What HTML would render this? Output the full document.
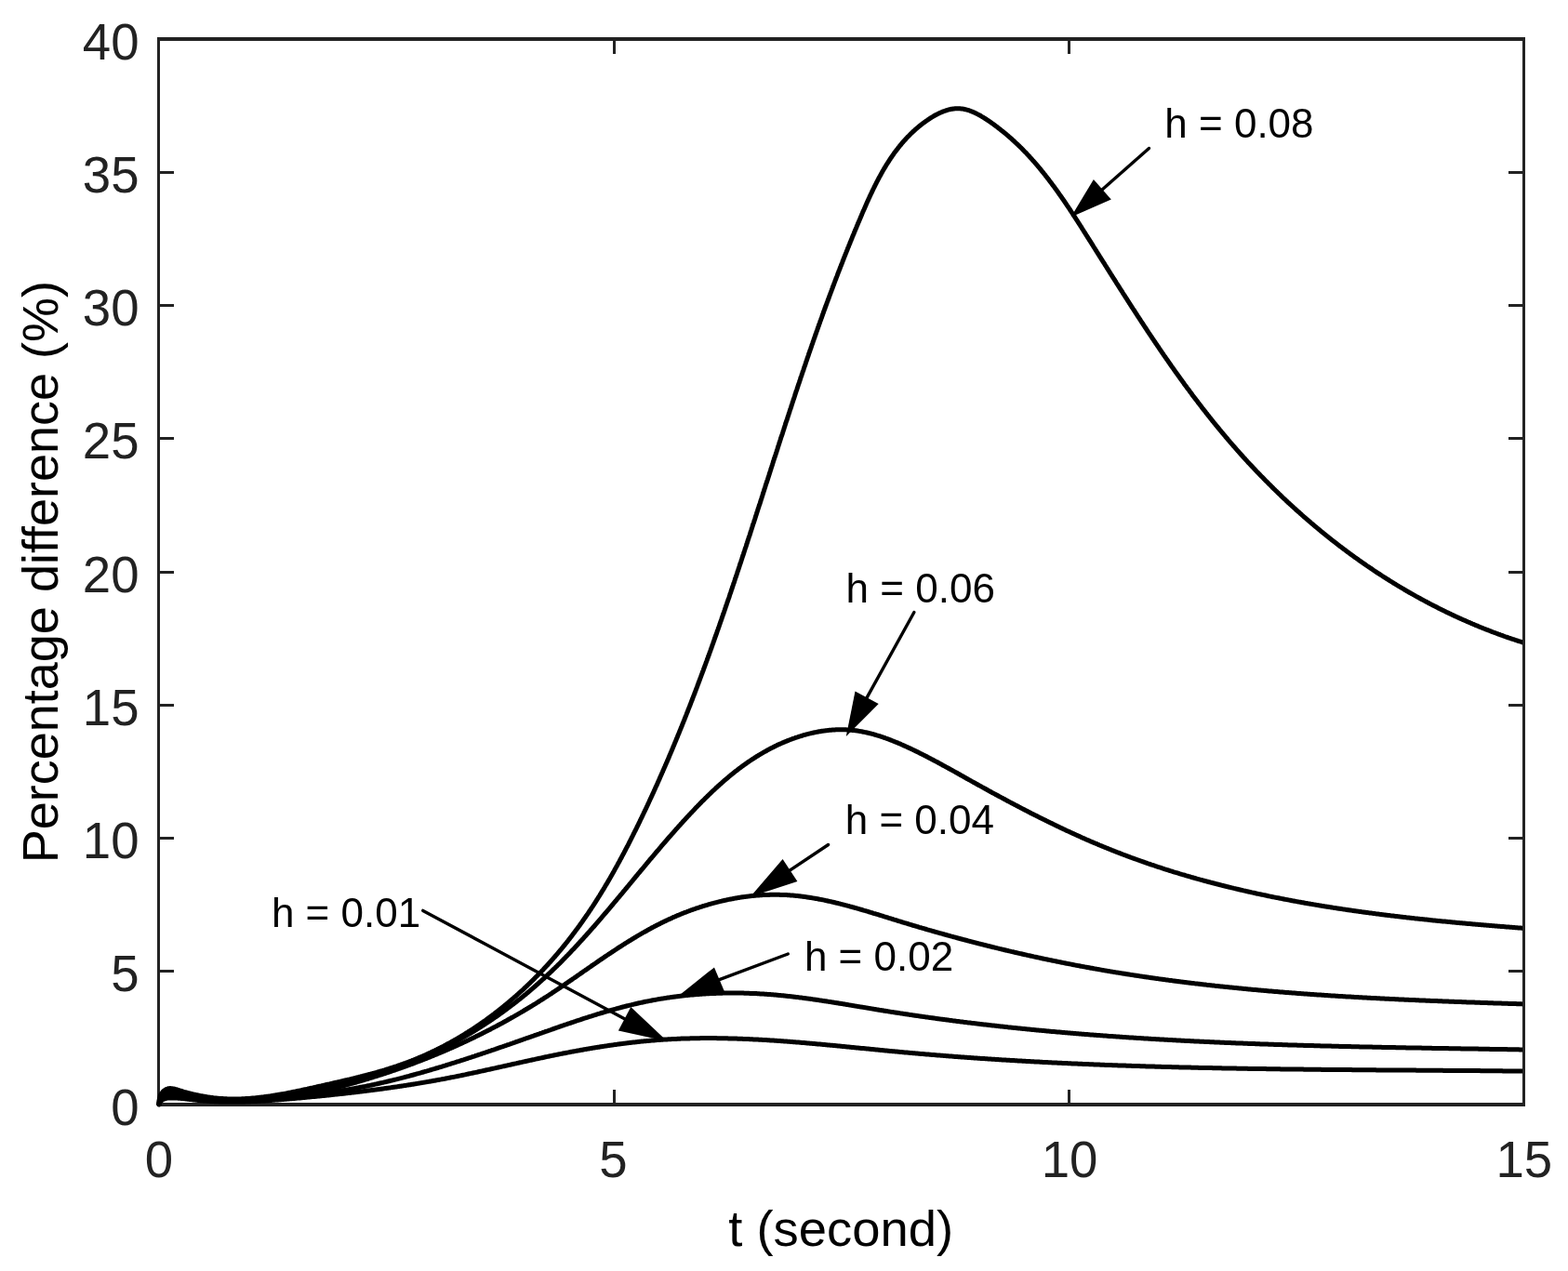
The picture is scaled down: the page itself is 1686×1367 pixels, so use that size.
<!DOCTYPE html><html><head><meta charset="utf-8"><title>Percentage difference plot</title><style>html,body{margin:0;padding:0;background:#fff;width:1686px;height:1367px;overflow:hidden}svg{display:block}</style></head><body><svg width="1686" height="1367" viewBox="0 0 1686 1367"><defs><clipPath id="clip"><rect x="160" y="30" width="1477" height="1170"/></clipPath></defs><rect x="0" y="0" width="1686" height="1367" fill="#fff"/><g fill="#222222"><rect x="169" y="40" width="1471" height="4"/><rect x="169" y="1186" width="1471" height="4"/><rect x="169" y="40" width="3" height="1150"/><rect x="1637" y="40" width="3" height="1150"/><rect x="659" y="44" width="3" height="14"/><rect x="659" y="1172" width="3" height="14"/><rect x="1148" y="44" width="3" height="14"/><rect x="1148" y="1172" width="3" height="14"/><rect x="172" y="1043" width="15" height="3"/><rect x="1622" y="1043" width="15" height="3"/><rect x="172" y="900" width="15" height="3"/><rect x="1622" y="900" width="15" height="3"/><rect x="172" y="757" width="15" height="3"/><rect x="1622" y="757" width="15" height="3"/><rect x="172" y="614" width="15" height="3"/><rect x="1622" y="614" width="15" height="3"/><rect x="172" y="470" width="15" height="3"/><rect x="1622" y="470" width="15" height="3"/><rect x="172" y="327" width="15" height="3"/><rect x="1622" y="327" width="15" height="3"/><rect x="172" y="184" width="15" height="3"/><rect x="1622" y="184" width="15" height="3"/></g><g clip-path="url(#clip)" fill="none" stroke="#000" stroke-width="5.0" stroke-linejoin="round" stroke-linecap="round"><path d="M170.7 1187.2 L171.3 1186.2 L171.9 1185.4 L172.5 1184.6 L173.2 1184.0 L174.0 1183.4 L174.7 1182.9 L175.5 1182.4 L176.4 1182.1 L177.3 1181.7 L178.1 1181.5 L179.1 1181.3 L180.0 1181.1 L181.0 1181.0 L181.9 1180.9 L182.9 1180.9 L183.9 1180.9 L184.9 1180.9 L185.9 1180.9 L186.9 1180.9 L187.9 1181.0 L188.9 1181.0 L189.9 1181.1 L190.9 1181.1 L191.9 1181.2 L192.9 1181.3 L193.9 1181.3 L194.9 1181.4 L195.9 1181.5 L196.9 1181.6 L197.9 1181.7 L198.9 1181.8 L199.9 1181.9 L200.9 1182.1 L201.9 1182.2 L202.9 1182.3 L203.9 1182.4 L204.9 1182.5 L205.9 1182.6 L206.9 1182.7 L207.9 1182.9 L208.9 1183.0 L209.9 1183.1 L210.9 1183.2 L211.9 1183.3 L212.9 1183.4 L213.9 1183.5 L214.9 1183.6 L215.9 1183.7 L216.9 1183.8 L217.9 1183.8 L218.9 1183.9 L219.9 1184.0 L220.9 1184.1 L221.9 1184.1 L222.9 1184.2 L223.9 1184.3 L224.9 1184.3 L225.9 1184.4 L226.9 1184.5 L227.9 1184.5 L228.9 1184.6 L229.9 1184.6 L230.9 1184.7 L231.9 1184.7 L232.9 1184.7 L233.9 1184.8 L234.9 1184.8 L235.9 1184.9 L236.9 1184.9 L237.9 1184.9 L238.9 1184.9 L239.9 1185.0 L240.9 1185.0 L241.9 1185.0 L242.9 1185.0 L243.9 1185.0 L244.9 1185.0 L245.9 1185.0 L246.9 1185.1 L247.9 1185.1 L248.9 1185.1 L249.9 1185.1 L250.9 1185.1 L251.9 1185.1 L252.9 1185.0 L253.9 1185.0 L254.9 1185.0 L255.9 1185.0 L256.9 1185.0 L257.9 1185.0 L258.9 1185.0 L259.9 1184.9 L260.9 1184.9 L261.9 1184.9 L262.9 1184.9 L263.9 1184.8 L264.9 1184.8 L265.9 1184.8 L266.9 1184.7 L267.9 1184.7 L268.9 1184.7 L269.8 1184.6 L270.8 1184.6 L271.8 1184.6 L272.8 1184.5 L273.8 1184.5 L274.8 1184.4 L275.8 1184.4 L276.8 1184.3 L277.8 1184.3 L278.8 1184.2 L279.8 1184.2 L280.8 1184.1 L281.8 1184.0 L282.8 1184.0 L283.8 1183.9 L284.8 1183.9 L285.8 1183.8 L286.8 1183.7 L287.8 1183.7 L288.8 1183.6 L289.8 1183.5 L290.8 1183.5 L291.8 1183.4 L292.8 1183.3 L293.8 1183.3 L294.8 1183.2 L295.8 1183.1 L296.8 1183.0 L297.8 1183.0 L298.8 1182.9 L299.8 1182.8 L300.8 1182.7 L301.8 1182.7 L302.8 1182.6 L303.8 1182.5 L304.8 1182.4 L305.8 1182.3 L306.8 1182.3 L307.7 1182.2 L308.7 1182.1 L309.7 1182.0 L310.7 1181.9 L311.7 1181.8 L312.7 1181.7 L313.7 1181.7 L314.7 1181.6 L315.7 1181.5 L316.7 1181.4 L317.7 1181.3 L318.7 1181.2 L319.7 1181.1 L320.7 1181.0 L321.7 1180.9 L322.7 1180.9 L323.7 1180.8 L324.7 1180.7 L325.7 1180.6 L326.7 1180.5 L327.7 1180.4 L328.7 1180.3 L329.7 1180.2 L330.7 1180.1 L331.7 1180.0 L332.7 1179.9 L333.7 1179.8 L334.7 1179.7 L335.7 1179.6 L336.7 1179.6 L337.6 1179.5 L338.6 1179.4 L339.6 1179.3 L340.6 1179.2 L341.6 1179.1 L342.6 1179.0 L343.6 1178.9 L344.6 1178.8 L345.6 1178.7 L346.6 1178.6 L347.6 1178.5 L348.6 1178.4 L349.6 1178.3 L350.6 1178.2 L351.6 1178.1 L352.6 1178.0 L353.6 1177.9 L354.6 1177.8 L355.6 1177.7 L356.6 1177.6 L357.6 1177.4 L358.6 1177.3 L359.6 1177.2 L360.6 1177.1 L361.5 1177.0 L362.5 1176.9 L363.5 1176.8 L364.5 1176.7 L365.5 1176.6 L366.5 1176.5 L367.5 1176.4 L368.5 1176.3 L369.5 1176.2 L370.5 1176.0 L371.5 1175.9 L372.5 1175.8 L373.5 1175.7 L374.5 1175.6 L375.5 1175.5 L376.5 1175.4 L377.5 1175.3 L378.5 1175.1 L379.5 1175.0 L380.4 1174.9 L381.4 1174.8 L382.4 1174.7 L383.4 1174.6 L384.4 1174.4 L385.4 1174.3 L386.4 1174.2 L387.4 1174.1 L388.4 1174.0 L389.4 1173.8 L390.4 1173.7 L391.4 1173.6 L392.4 1173.5 L393.4 1173.3 L394.4 1173.2 L395.3 1173.1 L396.3 1173.0 L397.3 1172.8 L398.3 1172.7 L399.3 1172.6 L400.3 1172.5 L401.3 1172.3 L402.3 1172.2 L403.3 1172.1 L404.3 1171.9 L405.3 1171.8 L406.3 1171.7 L407.3 1171.6 L408.2 1171.4 L409.2 1171.3 L410.2 1171.2 L411.2 1171.0 L412.2 1170.9 L413.2 1170.7 L414.2 1170.6 L415.2 1170.5 L416.2 1170.3 L417.2 1170.2 L418.2 1170.1 L419.1 1169.9 L420.1 1169.8 L421.1 1169.6 L422.1 1169.5 L423.1 1169.3 L424.1 1169.2 L425.1 1169.1 L426.1 1168.9 L427.1 1168.8 L428.0 1168.6 L429.0 1168.5 L430.0 1168.3 L431.0 1168.2 L432.0 1168.0 L433.0 1167.9 L434.0 1167.7 L435.0 1167.6 L436.0 1167.4 L436.9 1167.3 L437.9 1167.1 L438.9 1167.0 L439.9 1166.8 L440.9 1166.7 L441.9 1166.5 L442.9 1166.3 L443.9 1166.2 L444.8 1166.0 L445.8 1165.9 L446.8 1165.7 L447.8 1165.6 L448.8 1165.4 L449.8 1165.2 L450.8 1165.1 L451.7 1164.9 L452.7 1164.7 L453.7 1164.6 L454.7 1164.4 L455.7 1164.2 L456.7 1164.1 L457.6 1163.9 L458.6 1163.7 L459.6 1163.6 L460.6 1163.4 L461.6 1163.2 L462.6 1163.0 L463.6 1162.9 L464.5 1162.7 L465.5 1162.5 L466.5 1162.3 L467.5 1162.2 L468.5 1162.0 L469.5 1161.8 L470.4 1161.6 L471.4 1161.5 L472.4 1161.3 L473.4 1161.1 L474.4 1160.9 L475.3 1160.7 L476.3 1160.5 L477.3 1160.4 L478.3 1160.2 L479.3 1160.0 L480.2 1159.8 L481.2 1159.6 L482.2 1159.4 L483.2 1159.2 L484.2 1159.0 L485.1 1158.8 L486.1 1158.6 L487.1 1158.4 L488.1 1158.3 L489.1 1158.1 L490.0 1157.9 L491.0 1157.7 L492.0 1157.5 L493.0 1157.3 L494.0 1157.1 L494.9 1156.9 L495.9 1156.7 L496.9 1156.5 L497.9 1156.3 L498.8 1156.1 L499.8 1155.9 L500.8 1155.7 L501.8 1155.4 L502.7 1155.2 L503.7 1155.0 L504.7 1154.8 L505.7 1154.6 L506.7 1154.4 L507.6 1154.2 L508.6 1154.0 L509.6 1153.8 L510.6 1153.6 L511.5 1153.4 L512.5 1153.2 L513.5 1153.0 L514.5 1152.7 L515.4 1152.5 L516.4 1152.3 L517.4 1152.1 L518.4 1151.9 L519.3 1151.7 L520.3 1151.5 L521.3 1151.3 L522.3 1151.0 L523.2 1150.8 L524.2 1150.6 L525.2 1150.4 L526.2 1150.2 L527.1 1150.0 L528.1 1149.7 L529.1 1149.5 L530.1 1149.3 L531.0 1149.1 L532.0 1148.9 L533.0 1148.7 L534.0 1148.4 L534.9 1148.2 L535.9 1148.0 L536.9 1147.8 L537.9 1147.6 L538.8 1147.4 L539.8 1147.1 L540.8 1146.9 L541.8 1146.7 L542.7 1146.5 L543.7 1146.3 L544.7 1146.1 L545.7 1145.8 L546.6 1145.6 L547.6 1145.4 L548.6 1145.2 L549.6 1145.0 L550.5 1144.7 L551.5 1144.5 L552.5 1144.3 L553.5 1144.1 L554.4 1143.9 L555.4 1143.7 L556.4 1143.4 L557.4 1143.2 L558.3 1143.0 L559.3 1142.8 L560.3 1142.6 L561.3 1142.4 L562.2 1142.1 L563.2 1141.9 L564.2 1141.7 L565.2 1141.5 L566.2 1141.3 L567.1 1141.1 L568.1 1140.8 L569.1 1140.6 L570.1 1140.4 L571.0 1140.2 L572.0 1140.0 L573.0 1139.8 L574.0 1139.6 L574.9 1139.4 L575.9 1139.1 L576.9 1138.9 L577.9 1138.7 L578.9 1138.5 L579.8 1138.3 L580.8 1138.1 L581.8 1137.9 L582.8 1137.7 L583.8 1137.5 L584.7 1137.3 L585.7 1137.0 L586.7 1136.8 L587.7 1136.6 L588.7 1136.4 L589.6 1136.2 L590.6 1136.0 L591.6 1135.8 L592.6 1135.6 L593.6 1135.4 L594.5 1135.2 L595.5 1135.0 L596.5 1134.8 L597.5 1134.6 L598.5 1134.4 L599.4 1134.2 L600.4 1134.0 L601.4 1133.8 L602.4 1133.6 L603.4 1133.4 L604.4 1133.2 L605.3 1133.0 L606.3 1132.8 L607.3 1132.7 L608.3 1132.5 L609.3 1132.3 L610.3 1132.1 L611.3 1131.9 L612.2 1131.7 L613.2 1131.5 L614.2 1131.3 L615.2 1131.1 L616.2 1131.0 L617.2 1130.8 L618.2 1130.6 L619.1 1130.4 L620.1 1130.2 L621.1 1130.0 L622.1 1129.9 L623.1 1129.7 L624.1 1129.5 L625.1 1129.3 L626.1 1129.2 L627.0 1129.0 L628.0 1128.8 L629.0 1128.6 L630.0 1128.5 L631.0 1128.3 L632.0 1128.1 L633.0 1128.0 L634.0 1127.8 L635.0 1127.6 L635.9 1127.5 L636.9 1127.3 L637.9 1127.1 L638.9 1127.0 L639.9 1126.8 L640.9 1126.6 L641.9 1126.5 L642.9 1126.3 L643.9 1126.2 L644.9 1126.0 L645.8 1125.8 L646.8 1125.7 L647.8 1125.5 L648.8 1125.4 L649.8 1125.2 L650.8 1125.1 L651.8 1124.9 L652.8 1124.8 L653.8 1124.6 L654.8 1124.5 L655.8 1124.3 L656.8 1124.2 L657.7 1124.1 L658.7 1123.9 L659.7 1123.8 L660.7 1123.6 L661.7 1123.5 L662.7 1123.4 L663.7 1123.2 L664.7 1123.1 L665.7 1123.0 L666.7 1122.8 L667.7 1122.7 L668.7 1122.6 L669.7 1122.4 L670.7 1122.3 L671.7 1122.2 L672.7 1122.1 L673.6 1121.9 L674.6 1121.8 L675.6 1121.7 L676.6 1121.6 L677.6 1121.5 L678.6 1121.3 L679.6 1121.2 L680.6 1121.1 L681.6 1121.0 L682.6 1120.9 L683.6 1120.8 L684.6 1120.7 L685.6 1120.6 L686.6 1120.5 L687.6 1120.3 L688.6 1120.2 L689.6 1120.1 L690.6 1120.0 L691.6 1119.9 L692.5 1119.8 L693.5 1119.8 L694.5 1119.7 L695.5 1119.6 L696.5 1119.5 L697.5 1119.4 L698.5 1119.3 L699.5 1119.2 L700.5 1119.1 L701.5 1119.0 L702.5 1118.9 L703.5 1118.9 L704.5 1118.8 L705.5 1118.7 L706.5 1118.6 L707.5 1118.6 L708.5 1118.5 L709.5 1118.4 L710.5 1118.3 L711.5 1118.3 L712.5 1118.2 L713.5 1118.1 L714.5 1118.1 L715.5 1118.0 L716.4 1117.9 L717.4 1117.9 L718.4 1117.8 L719.4 1117.8 L720.4 1117.7 L721.4 1117.7 L722.4 1117.6 L723.4 1117.5 L724.4 1117.5 L725.4 1117.4 L726.4 1117.4 L727.4 1117.4 L728.4 1117.3 L729.4 1117.3 L730.4 1117.2 L731.4 1117.2 L732.4 1117.1 L733.4 1117.1 L734.4 1117.1 L735.4 1117.0 L736.4 1117.0 L737.4 1117.0 L738.4 1116.9 L739.4 1116.9 L740.4 1116.9 L741.4 1116.9 L742.3 1116.8 L743.3 1116.8 L744.3 1116.8 L745.3 1116.8 L746.3 1116.7 L747.3 1116.7 L748.3 1116.7 L749.3 1116.7 L750.3 1116.7 L751.3 1116.7 L752.3 1116.7 L753.3 1116.6 L754.3 1116.6 L755.3 1116.6 L756.3 1116.6 L757.3 1116.6 L758.3 1116.6 L759.3 1116.6 L760.3 1116.6 L761.3 1116.6 L762.3 1116.6 L763.3 1116.6 L764.3 1116.6 L765.3 1116.6 L766.3 1116.6 L767.3 1116.6 L768.3 1116.6 L769.2 1116.6 L770.2 1116.6 L771.2 1116.7 L772.2 1116.7 L773.2 1116.7 L774.2 1116.7 L775.2 1116.7 L776.2 1116.7 L777.2 1116.7 L778.2 1116.8 L779.2 1116.8 L780.2 1116.8 L781.2 1116.8 L782.2 1116.8 L783.2 1116.9 L784.2 1116.9 L785.2 1116.9 L786.2 1116.9 L787.2 1117.0 L788.2 1117.0 L789.2 1117.0 L790.2 1117.1 L791.2 1117.1 L792.2 1117.1 L793.2 1117.2 L794.2 1117.2 L795.2 1117.2 L796.2 1117.3 L797.2 1117.3 L798.1 1117.3 L799.1 1117.4 L800.1 1117.4 L801.1 1117.5 L802.1 1117.5 L803.1 1117.5 L804.1 1117.6 L805.1 1117.6 L806.1 1117.7 L807.1 1117.7 L808.1 1117.8 L809.1 1117.8 L810.1 1117.9 L811.1 1117.9 L812.1 1118.0 L813.1 1118.0 L814.1 1118.1 L815.1 1118.1 L816.1 1118.2 L817.1 1118.2 L818.1 1118.3 L819.1 1118.3 L820.1 1118.4 L821.1 1118.5 L822.1 1118.5 L823.1 1118.6 L824.1 1118.6 L825.1 1118.7 L826.1 1118.8 L827.1 1118.8 L828.1 1118.9 L829.0 1118.9 L830.0 1119.0 L831.0 1119.1 L832.0 1119.1 L833.0 1119.2 L834.0 1119.3 L835.0 1119.3 L836.0 1119.4 L837.0 1119.5 L838.0 1119.5 L839.0 1119.6 L840.0 1119.7 L841.0 1119.8 L842.0 1119.8 L843.0 1119.9 L844.0 1120.0 L845.0 1120.0 L846.0 1120.1 L847.0 1120.2 L848.0 1120.3 L849.0 1120.3 L850.0 1120.4 L851.0 1120.5 L852.0 1120.6 L853.0 1120.7 L854.0 1120.7 L855.0 1120.8 L856.0 1120.9 L857.0 1121.0 L858.0 1121.1 L859.0 1121.1 L860.0 1121.2 L861.0 1121.3 L861.9 1121.4 L862.9 1121.5 L863.9 1121.6 L864.9 1121.6 L865.9 1121.7 L866.9 1121.8 L867.9 1121.9 L868.9 1122.0 L869.9 1122.1 L870.9 1122.2 L871.9 1122.2 L872.9 1122.3 L873.9 1122.4 L874.9 1122.5 L875.9 1122.6 L876.9 1122.7 L877.9 1122.8 L878.9 1122.9 L879.9 1123.0 L880.9 1123.0 L881.9 1123.1 L882.9 1123.2 L883.9 1123.3 L884.9 1123.4 L885.9 1123.5 L886.9 1123.6 L887.9 1123.7 L888.9 1123.8 L889.9 1123.9 L890.9 1124.0 L891.9 1124.1 L892.9 1124.2 L893.9 1124.2 L894.9 1124.3 L895.9 1124.4 L896.8 1124.5 L897.8 1124.6 L898.8 1124.7 L899.8 1124.8 L900.8 1124.9 L901.8 1125.0 L902.8 1125.1 L903.8 1125.2 L904.8 1125.3 L905.8 1125.4 L906.8 1125.5 L907.8 1125.6 L908.8 1125.7 L909.8 1125.8 L910.8 1125.9 L911.8 1126.0 L912.8 1126.1 L913.8 1126.2 L914.8 1126.3 L915.8 1126.4 L916.8 1126.5 L917.8 1126.6 L918.8 1126.7 L919.8 1126.8 L920.8 1126.9 L921.8 1127.0 L922.8 1127.1 L923.8 1127.2 L924.8 1127.3 L925.8 1127.4 L926.8 1127.5 L927.8 1127.5 L928.8 1127.6 L929.8 1127.7 L930.8 1127.8 L931.8 1127.9 L932.8 1128.0 L933.8 1128.1 L934.7 1128.2 L935.7 1128.3 L936.7 1128.4 L937.7 1128.5 L938.7 1128.6 L939.7 1128.7 L940.7 1128.8 L941.7 1128.9 L942.7 1129.0 L943.7 1129.1 L944.7 1129.2 L945.7 1129.3 L946.7 1129.4 L947.7 1129.5 L948.7 1129.6 L949.7 1129.7 L950.7 1129.8 L951.7 1129.9 L952.7 1130.0 L953.7 1130.1 L954.7 1130.2 L955.7 1130.3 L956.7 1130.4 L957.7 1130.5 L958.7 1130.6 L959.7 1130.7 L960.7 1130.8 L961.7 1130.8 L962.7 1130.9 L963.7 1131.0 L964.7 1131.1 L965.7 1131.2 L966.7 1131.3 L967.7 1131.4 L968.7 1131.5 L969.7 1131.6 L970.7 1131.7 L971.7 1131.8 L972.7 1131.9 L973.7 1132.0 L974.6 1132.0 L975.6 1132.1 L976.6 1132.2 L977.6 1132.3 L978.6 1132.4 L979.6 1132.5 L980.6 1132.6 L981.6 1132.7 L982.6 1132.8 L983.6 1132.8 L984.6 1132.9 L985.6 1133.0 L986.6 1133.1 L987.6 1133.2 L988.6 1133.3 L989.6 1133.4 L990.6 1133.5 L991.6 1133.5 L992.6 1133.6 L993.6 1133.7 L994.6 1133.8 L995.6 1133.9 L996.6 1134.0 L997.6 1134.0 L998.6 1134.1 L999.6 1134.2 L1000.6 1134.3 L1001.6 1134.4 L1002.6 1134.5 L1003.6 1134.5 L1004.6 1134.6 L1005.6 1134.7 L1006.6 1134.8 L1007.6 1134.9 L1008.6 1135.0 L1009.6 1135.0 L1010.6 1135.1 L1011.6 1135.2 L1012.6 1135.3 L1013.6 1135.3 L1014.6 1135.4 L1015.6 1135.5 L1016.6 1135.6 L1017.6 1135.7 L1018.5 1135.7 L1019.5 1135.8 L1020.5 1135.9 L1021.5 1136.0 L1022.5 1136.0 L1023.5 1136.1 L1024.5 1136.2 L1025.5 1136.3 L1026.5 1136.4 L1027.5 1136.4 L1028.5 1136.5 L1029.5 1136.6 L1030.5 1136.7 L1031.5 1136.7 L1032.5 1136.8 L1033.5 1136.9 L1034.5 1136.9 L1035.5 1137.0 L1036.5 1137.1 L1037.5 1137.2 L1038.5 1137.2 L1039.5 1137.3 L1040.5 1137.4 L1041.5 1137.5 L1042.5 1137.5 L1043.5 1137.6 L1044.5 1137.7 L1045.5 1137.7 L1046.5 1137.8 L1047.5 1137.9 L1048.5 1137.9 L1049.5 1138.0 L1050.5 1138.1 L1051.5 1138.2 L1052.5 1138.2 L1053.5 1138.3 L1054.5 1138.4 L1055.5 1138.4 L1056.5 1138.5 L1057.5 1138.6 L1058.5 1138.6 L1059.5 1138.7 L1060.5 1138.8 L1061.5 1138.8 L1062.5 1138.9 L1063.5 1139.0 L1064.5 1139.0 L1065.5 1139.1 L1066.4 1139.2 L1067.4 1139.2 L1068.4 1139.3 L1069.4 1139.3 L1070.4 1139.4 L1071.4 1139.5 L1072.4 1139.5 L1073.4 1139.6 L1074.4 1139.7 L1075.4 1139.7 L1076.4 1139.8 L1077.4 1139.9 L1078.4 1139.9 L1079.4 1140.0 L1080.4 1140.0 L1081.4 1140.1 L1082.4 1140.2 L1083.4 1140.2 L1084.4 1140.3 L1085.4 1140.3 L1086.4 1140.4 L1087.4 1140.5 L1088.4 1140.5 L1089.4 1140.6 L1090.4 1140.6 L1091.4 1140.7 L1092.4 1140.8 L1093.4 1140.8 L1094.4 1140.9 L1095.4 1140.9 L1096.4 1141.0 L1097.4 1141.0 L1098.4 1141.1 L1099.4 1141.2 L1100.4 1141.2 L1101.4 1141.3 L1102.4 1141.3 L1103.4 1141.4 L1104.4 1141.4 L1105.4 1141.5 L1106.4 1141.6 L1107.4 1141.6 L1108.4 1141.7 L1109.4 1141.7 L1110.4 1141.8 L1111.4 1141.8 L1112.4 1141.9 L1113.4 1141.9 L1114.4 1142.0 L1115.4 1142.0 L1116.4 1142.1 L1117.4 1142.1 L1118.4 1142.2 L1119.3 1142.3 L1120.3 1142.3 L1121.3 1142.4 L1122.3 1142.4 L1123.3 1142.5 L1124.3 1142.5 L1125.3 1142.6 L1126.3 1142.6 L1127.3 1142.7 L1128.3 1142.7 L1129.3 1142.8 L1130.3 1142.8 L1131.3 1142.9 L1132.3 1142.9 L1133.3 1143.0 L1134.3 1143.0 L1135.3 1143.1 L1136.3 1143.1 L1137.3 1143.2 L1138.3 1143.2 L1139.3 1143.3 L1140.3 1143.3 L1141.3 1143.3 L1142.3 1143.4 L1143.3 1143.4 L1144.3 1143.5 L1145.3 1143.5 L1146.3 1143.6 L1147.3 1143.6 L1148.3 1143.7 L1149.3 1143.7 L1150.3 1143.8 L1151.3 1143.8 L1152.3 1143.9 L1153.3 1143.9 L1154.3 1143.9 L1155.3 1144.0 L1156.3 1144.0 L1157.3 1144.1 L1158.3 1144.1 L1159.3 1144.2 L1160.3 1144.2 L1161.3 1144.3 L1162.3 1144.3 L1163.3 1144.3 L1164.3 1144.4 L1165.3 1144.4 L1166.3 1144.5 L1167.3 1144.5 L1168.3 1144.6 L1169.3 1144.6 L1170.3 1144.6 L1171.3 1144.7 L1172.3 1144.7 L1173.3 1144.8 L1174.3 1144.8 L1175.3 1144.8 L1176.3 1144.9 L1177.3 1144.9 L1178.3 1145.0 L1179.3 1145.0 L1180.3 1145.0 L1181.3 1145.1 L1182.2 1145.1 L1183.2 1145.2 L1184.2 1145.2 L1185.2 1145.2 L1186.2 1145.3 L1187.2 1145.3 L1188.2 1145.4 L1189.2 1145.4 L1190.2 1145.4 L1191.2 1145.5 L1192.2 1145.5 L1193.2 1145.5 L1194.2 1145.6 L1195.2 1145.6 L1196.2 1145.7 L1197.2 1145.7 L1198.2 1145.7 L1199.2 1145.8 L1200.2 1145.8 L1201.2 1145.8 L1202.2 1145.9 L1203.2 1145.9 L1204.2 1145.9 L1205.2 1146.0 L1206.2 1146.0 L1207.2 1146.0 L1208.2 1146.1 L1209.2 1146.1 L1210.2 1146.1 L1211.2 1146.2 L1212.2 1146.2 L1213.2 1146.2 L1214.2 1146.3 L1215.2 1146.3 L1216.2 1146.3 L1217.2 1146.4 L1218.2 1146.4 L1219.2 1146.4 L1220.2 1146.5 L1221.2 1146.5 L1222.2 1146.5 L1223.2 1146.6 L1224.2 1146.6 L1225.2 1146.6 L1226.2 1146.7 L1227.2 1146.7 L1228.2 1146.7 L1229.2 1146.8 L1230.2 1146.8 L1231.2 1146.8 L1232.2 1146.9 L1233.2 1146.9 L1234.2 1146.9 L1235.2 1146.9 L1236.2 1147.0 L1237.2 1147.0 L1238.2 1147.0 L1239.2 1147.1 L1240.2 1147.1 L1241.2 1147.1 L1242.2 1147.2 L1243.2 1147.2 L1244.2 1147.2 L1245.2 1147.2 L1246.2 1147.3 L1247.2 1147.3 L1248.2 1147.3 L1249.2 1147.4 L1250.2 1147.4 L1251.2 1147.4 L1252.2 1147.4 L1253.2 1147.5 L1254.2 1147.5 L1255.2 1147.5 L1256.2 1147.5 L1257.2 1147.6 L1258.2 1147.6 L1259.2 1147.6 L1260.2 1147.7 L1261.2 1147.7 L1262.1 1147.7 L1263.1 1147.7 L1264.1 1147.8 L1265.1 1147.8 L1266.1 1147.8 L1267.1 1147.8 L1268.1 1147.9 L1269.1 1147.9 L1270.1 1147.9 L1271.1 1147.9 L1272.1 1148.0 L1273.1 1148.0 L1274.1 1148.0 L1275.1 1148.0 L1276.1 1148.1 L1277.1 1148.1 L1278.1 1148.1 L1279.1 1148.1 L1280.1 1148.1 L1281.1 1148.2 L1282.1 1148.2 L1283.1 1148.2 L1284.1 1148.2 L1285.1 1148.3 L1286.1 1148.3 L1287.1 1148.3 L1288.1 1148.3 L1289.1 1148.4 L1290.1 1148.4 L1291.1 1148.4 L1292.1 1148.4 L1293.1 1148.4 L1294.1 1148.5 L1295.1 1148.5 L1296.1 1148.5 L1297.1 1148.5 L1298.1 1148.5 L1299.1 1148.6 L1300.1 1148.6 L1301.1 1148.6 L1302.1 1148.6 L1303.1 1148.6 L1304.1 1148.7 L1305.1 1148.7 L1306.1 1148.7 L1307.1 1148.7 L1308.1 1148.7 L1309.1 1148.8 L1310.1 1148.8 L1311.1 1148.8 L1312.1 1148.8 L1313.1 1148.8 L1314.1 1148.9 L1315.1 1148.9 L1316.1 1148.9 L1317.1 1148.9 L1318.1 1148.9 L1319.1 1149.0 L1320.1 1149.0 L1321.1 1149.0 L1322.1 1149.0 L1323.1 1149.0 L1324.1 1149.1 L1325.1 1149.1 L1326.1 1149.1 L1327.1 1149.1 L1328.1 1149.1 L1329.1 1149.1 L1330.1 1149.2 L1331.1 1149.2 L1332.1 1149.2 L1333.1 1149.2 L1334.1 1149.2 L1335.1 1149.2 L1336.1 1149.3 L1337.1 1149.3 L1338.1 1149.3 L1339.1 1149.3 L1340.1 1149.3 L1341.1 1149.3 L1342.1 1149.4 L1343.1 1149.4 L1344.1 1149.4 L1345.1 1149.4 L1346.1 1149.4 L1347.1 1149.4 L1348.1 1149.5 L1349.1 1149.5 L1350.1 1149.5 L1351.1 1149.5 L1352.1 1149.5 L1353.1 1149.5 L1354.1 1149.5 L1355.1 1149.6 L1356.1 1149.6 L1357.1 1149.6 L1358.1 1149.6 L1359.1 1149.6 L1360.1 1149.6 L1361.1 1149.6 L1362.1 1149.7 L1363.1 1149.7 L1364.1 1149.7 L1365.1 1149.7 L1366.1 1149.7 L1367.1 1149.7 L1368.1 1149.7 L1369.1 1149.8 L1370.1 1149.8 L1371.1 1149.8 L1372.1 1149.8 L1373.1 1149.8 L1374.1 1149.8 L1375.1 1149.8 L1376.1 1149.8 L1377.1 1149.9 L1378.1 1149.9 L1379.1 1149.9 L1380.1 1149.9 L1381.1 1149.9 L1382.1 1149.9 L1383.1 1149.9 L1384.1 1149.9 L1385.1 1150.0 L1386.1 1150.0 L1387.1 1150.0 L1388.1 1150.0 L1389.1 1150.0 L1390.1 1150.0 L1391.1 1150.0 L1392.1 1150.0 L1393.1 1150.1 L1394.1 1150.1 L1395.1 1150.1 L1396.1 1150.1 L1397.1 1150.1 L1398.1 1150.1 L1399.1 1150.1 L1400.1 1150.1 L1401.1 1150.1 L1402.1 1150.2 L1403.1 1150.2 L1404.1 1150.2 L1405.1 1150.2 L1406.1 1150.2 L1407.1 1150.2 L1408.1 1150.2 L1409.1 1150.2 L1410.1 1150.2 L1411.1 1150.3 L1412.1 1150.3 L1413.1 1150.3 L1414.1 1150.3 L1415.1 1150.3 L1416.1 1150.3 L1417.1 1150.3 L1418.1 1150.3 L1419.1 1150.3 L1420.1 1150.3 L1421.1 1150.4 L1422.1 1150.4 L1423.1 1150.4 L1424.1 1150.4 L1425.1 1150.4 L1426.1 1150.4 L1427.1 1150.4 L1428.1 1150.4 L1429.1 1150.4 L1430.1 1150.4 L1431.1 1150.5 L1432.1 1150.5 L1433.1 1150.5 L1434.1 1150.5 L1435.1 1150.5 L1436.1 1150.5 L1437.1 1150.5 L1438.1 1150.5 L1439.1 1150.5 L1440.1 1150.5 L1441.1 1150.5 L1442.1 1150.6 L1443.1 1150.6 L1444.1 1150.6 L1445.1 1150.6 L1446.1 1150.6 L1447.1 1150.6 L1448.1 1150.6 L1449.1 1150.6 L1450.1 1150.6 L1451.1 1150.6 L1452.1 1150.6 L1453.1 1150.6 L1454.1 1150.7 L1455.1 1150.7 L1456.1 1150.7 L1457.1 1150.7 L1458.1 1150.7 L1459.1 1150.7 L1460.1 1150.7 L1461.1 1150.7 L1462.1 1150.7 L1463.1 1150.7 L1464.1 1150.7 L1465.1 1150.7 L1466.1 1150.7 L1467.1 1150.8 L1468.1 1150.8 L1469.1 1150.8 L1470.1 1150.8 L1471.1 1150.8 L1472.1 1150.8 L1473.1 1150.8 L1474.1 1150.8 L1475.1 1150.8 L1476.1 1150.8 L1477.1 1150.8 L1478.1 1150.8 L1479.1 1150.8 L1480.1 1150.9 L1481.1 1150.9 L1482.1 1150.9 L1483.1 1150.9 L1484.1 1150.9 L1485.1 1150.9 L1486.1 1150.9 L1487.1 1150.9 L1488.1 1150.9 L1489.1 1150.9 L1490.1 1150.9 L1491.1 1150.9 L1492.1 1150.9 L1493.1 1150.9 L1494.1 1151.0 L1495.1 1151.0 L1496.1 1151.0 L1497.1 1151.0 L1498.1 1151.0 L1499.1 1151.0 L1500.1 1151.0 L1501.1 1151.0 L1502.1 1151.0 L1503.1 1151.0 L1504.1 1151.0 L1505.1 1151.0 L1506.1 1151.0 L1507.1 1151.0 L1508.1 1151.1 L1509.1 1151.1 L1510.1 1151.1 L1511.1 1151.1 L1512.1 1151.1 L1513.1 1151.1 L1514.1 1151.1 L1515.1 1151.1 L1516.1 1151.1 L1517.1 1151.1 L1518.1 1151.1 L1519.1 1151.1 L1520.1 1151.1 L1521.1 1151.1 L1522.1 1151.1 L1523.1 1151.2 L1524.1 1151.2 L1525.1 1151.2 L1526.1 1151.2 L1527.1 1151.2 L1528.1 1151.2 L1529.1 1151.2 L1530.1 1151.2 L1531.1 1151.2 L1532.1 1151.2 L1533.1 1151.2 L1534.1 1151.2 L1535.1 1151.2 L1536.1 1151.2 L1537.1 1151.3 L1538.1 1151.3 L1539.1 1151.3 L1540.1 1151.3 L1541.1 1151.3 L1542.1 1151.3 L1543.1 1151.3 L1544.1 1151.3 L1545.1 1151.3 L1546.1 1151.3 L1547.1 1151.3 L1548.1 1151.3 L1549.1 1151.3 L1550.1 1151.3 L1551.1 1151.3 L1552.1 1151.4 L1553.1 1151.4 L1554.1 1151.4 L1555.1 1151.4 L1556.1 1151.4 L1557.1 1151.4 L1558.1 1151.4 L1559.1 1151.4 L1560.1 1151.4 L1561.1 1151.4 L1562.1 1151.4 L1563.1 1151.4 L1564.1 1151.4 L1565.1 1151.4 L1566.1 1151.5 L1567.1 1151.5 L1568.1 1151.5 L1569.1 1151.5 L1570.1 1151.5 L1571.1 1151.5 L1572.1 1151.5 L1573.1 1151.5 L1574.1 1151.5 L1575.1 1151.5 L1576.1 1151.5 L1577.1 1151.5 L1578.1 1151.5 L1579.1 1151.6 L1580.1 1151.6 L1581.1 1151.6 L1582.1 1151.6 L1583.1 1151.6 L1584.1 1151.6 L1585.1 1151.6 L1586.1 1151.6 L1587.1 1151.6 L1588.1 1151.6 L1589.1 1151.6 L1590.1 1151.6 L1591.1 1151.6 L1592.1 1151.7 L1593.1 1151.7 L1594.1 1151.7 L1595.1 1151.7 L1596.1 1151.7 L1597.1 1151.7 L1598.1 1151.7 L1599.1 1151.7 L1600.1 1151.7 L1601.1 1151.7 L1602.1 1151.7 L1603.1 1151.7 L1604.1 1151.8 L1605.1 1151.8 L1606.1 1151.8 L1607.1 1151.8 L1608.1 1151.8 L1609.1 1151.8 L1610.1 1151.8 L1611.1 1151.8 L1612.1 1151.8 L1613.1 1151.8 L1614.1 1151.8 L1615.1 1151.8 L1616.1 1151.9 L1617.1 1151.9 L1618.1 1151.9 L1619.1 1151.9 L1620.1 1151.9 L1621.1 1151.9 L1622.1 1151.9 L1623.1 1151.9 L1624.1 1151.9 L1625.1 1151.9 L1626.1 1152.0 L1627.1 1152.0 L1628.1 1152.0 L1629.2 1152.0 L1630.2 1152.0 L1631.2 1152.0 L1632.2 1152.0 L1633.2 1152.0 L1634.2 1152.0 L1635.2 1152.0 L1636.2 1152.1 L1636.8 1152.1"/><path d="M171.0 1187.6 L171.2 1186.4 L171.5 1185.2 L172.0 1184.2 L172.4 1183.3 L173.0 1182.4 L173.6 1181.7 L174.3 1181.0 L175.0 1180.5 L175.8 1180.0 L176.6 1179.6 L177.5 1179.3 L178.4 1179.1 L179.3 1178.9 L180.3 1178.7 L181.2 1178.6 L182.2 1178.6 L183.2 1178.6 L184.2 1178.6 L185.2 1178.7 L186.3 1178.7 L187.3 1178.8 L188.3 1178.9 L189.3 1178.9 L190.3 1179.0 L191.3 1179.1 L192.3 1179.2 L193.3 1179.4 L194.3 1179.5 L195.3 1179.6 L196.3 1179.7 L197.3 1179.9 L198.3 1180.0 L199.3 1180.2 L200.3 1180.3 L201.3 1180.5 L202.3 1180.6 L203.2 1180.8 L204.2 1180.9 L205.2 1181.1 L206.2 1181.2 L207.2 1181.4 L208.2 1181.5 L209.2 1181.7 L210.2 1181.8 L211.2 1181.9 L212.2 1182.1 L213.1 1182.2 L214.1 1182.3 L215.1 1182.4 L216.1 1182.5 L217.1 1182.6 L218.1 1182.7 L219.1 1182.9 L220.1 1182.9 L221.1 1183.0 L222.1 1183.1 L223.1 1183.2 L224.1 1183.3 L225.1 1183.4 L226.0 1183.4 L227.0 1183.5 L228.0 1183.6 L229.0 1183.6 L230.0 1183.7 L231.0 1183.8 L232.0 1183.8 L233.0 1183.9 L234.0 1183.9 L235.0 1183.9 L236.0 1184.0 L237.0 1184.0 L238.0 1184.1 L239.0 1184.1 L240.0 1184.1 L241.0 1184.1 L242.0 1184.1 L243.0 1184.2 L244.0 1184.2 L245.0 1184.2 L246.0 1184.2 L247.0 1184.2 L248.0 1184.2 L249.0 1184.2 L250.0 1184.2 L251.0 1184.2 L252.0 1184.2 L253.0 1184.2 L254.0 1184.1 L255.0 1184.1 L256.0 1184.1 L257.0 1184.1 L258.0 1184.0 L259.0 1184.0 L260.0 1184.0 L261.0 1184.0 L262.0 1183.9 L263.0 1183.9 L264.0 1183.8 L265.0 1183.8 L266.0 1183.7 L267.0 1183.7 L268.0 1183.6 L269.0 1183.6 L270.0 1183.5 L271.0 1183.5 L272.0 1183.4 L273.0 1183.4 L274.0 1183.3 L275.0 1183.2 L276.0 1183.2 L277.0 1183.1 L278.0 1183.0 L279.0 1183.0 L280.0 1182.9 L281.0 1182.8 L282.0 1182.7 L283.0 1182.7 L284.0 1182.6 L285.0 1182.5 L286.0 1182.4 L287.0 1182.3 L288.0 1182.2 L289.0 1182.2 L290.0 1182.1 L291.0 1182.0 L292.0 1181.9 L293.0 1181.8 L294.0 1181.7 L295.0 1181.6 L296.0 1181.5 L297.0 1181.4 L298.0 1181.3 L299.0 1181.2 L300.0 1181.1 L301.0 1181.0 L302.0 1180.9 L303.0 1180.8 L304.0 1180.7 L304.9 1180.6 L305.9 1180.5 L306.9 1180.4 L307.9 1180.3 L308.9 1180.2 L309.9 1180.1 L310.9 1180.0 L311.9 1179.9 L312.9 1179.7 L313.9 1179.6 L314.9 1179.5 L315.9 1179.4 L316.9 1179.3 L317.9 1179.2 L318.9 1179.1 L319.9 1179.0 L320.9 1178.9 L321.9 1178.7 L322.8 1178.6 L323.8 1178.5 L324.8 1178.4 L325.8 1178.3 L326.8 1178.2 L327.8 1178.1 L328.8 1177.9 L329.8 1177.8 L330.8 1177.7 L331.8 1177.6 L332.7 1177.5 L333.7 1177.4 L334.7 1177.2 L335.7 1177.1 L336.7 1177.0 L337.7 1176.9 L338.7 1176.8 L339.7 1176.6 L340.7 1176.5 L341.6 1176.4 L342.6 1176.3 L343.6 1176.2 L344.6 1176.0 L345.6 1175.9 L346.6 1175.8 L347.6 1175.7 L348.5 1175.5 L349.5 1175.4 L350.5 1175.3 L351.5 1175.1 L352.5 1175.0 L353.5 1174.9 L354.5 1174.7 L355.4 1174.6 L356.4 1174.5 L357.4 1174.3 L358.4 1174.2 L359.4 1174.0 L360.4 1173.9 L361.3 1173.8 L362.3 1173.6 L363.3 1173.5 L364.3 1173.3 L365.3 1173.2 L366.3 1173.0 L367.2 1172.9 L368.2 1172.7 L369.2 1172.6 L370.2 1172.4 L371.2 1172.3 L372.2 1172.1 L373.1 1171.9 L374.1 1171.8 L375.1 1171.6 L376.1 1171.4 L377.1 1171.3 L378.1 1171.1 L379.0 1170.9 L380.0 1170.8 L381.0 1170.6 L382.0 1170.4 L383.0 1170.2 L384.0 1170.1 L384.9 1169.9 L385.9 1169.7 L386.9 1169.5 L387.9 1169.3 L388.9 1169.1 L389.8 1169.0 L390.8 1168.8 L391.8 1168.6 L392.8 1168.4 L393.8 1168.2 L394.8 1168.0 L395.7 1167.8 L396.7 1167.6 L397.7 1167.4 L398.7 1167.2 L399.7 1167.0 L400.6 1166.8 L401.6 1166.6 L402.6 1166.3 L403.6 1166.1 L404.6 1165.9 L405.6 1165.7 L406.5 1165.5 L407.5 1165.3 L408.5 1165.0 L409.5 1164.8 L410.5 1164.6 L411.4 1164.4 L412.4 1164.2 L413.4 1163.9 L414.4 1163.7 L415.3 1163.5 L416.3 1163.2 L417.3 1163.0 L418.3 1162.8 L419.3 1162.5 L420.2 1162.3 L421.2 1162.1 L422.2 1161.8 L423.2 1161.6 L424.2 1161.3 L425.1 1161.1 L426.1 1160.9 L427.1 1160.6 L428.1 1160.4 L429.0 1160.1 L430.0 1159.9 L431.0 1159.6 L432.0 1159.4 L432.9 1159.1 L433.9 1158.9 L434.9 1158.6 L435.9 1158.3 L436.8 1158.1 L437.8 1157.8 L438.8 1157.6 L439.8 1157.3 L440.7 1157.0 L441.7 1156.8 L442.7 1156.5 L443.6 1156.3 L444.6 1156.0 L445.6 1155.7 L446.6 1155.5 L447.5 1155.2 L448.5 1154.9 L449.5 1154.6 L450.4 1154.4 L451.4 1154.1 L452.4 1153.8 L453.3 1153.5 L454.3 1153.3 L455.3 1153.0 L456.3 1152.7 L457.2 1152.4 L458.2 1152.2 L459.2 1151.9 L460.1 1151.6 L461.1 1151.3 L462.0 1151.0 L463.0 1150.8 L464.0 1150.5 L464.9 1150.2 L465.9 1149.9 L466.9 1149.6 L467.8 1149.3 L468.8 1149.0 L469.8 1148.7 L470.7 1148.5 L471.7 1148.2 L472.6 1147.9 L473.6 1147.6 L474.6 1147.3 L475.5 1147.0 L476.5 1146.7 L477.4 1146.4 L478.4 1146.1 L479.3 1145.8 L480.3 1145.5 L481.3 1145.2 L482.2 1144.9 L483.2 1144.6 L484.1 1144.3 L485.1 1144.0 L486.0 1143.7 L487.0 1143.4 L487.9 1143.1 L488.9 1142.8 L489.8 1142.5 L490.8 1142.2 L491.7 1141.9 L492.7 1141.6 L493.7 1141.3 L494.6 1141.0 L495.6 1140.7 L496.5 1140.4 L497.4 1140.1 L498.4 1139.8 L499.3 1139.5 L500.3 1139.2 L501.2 1138.9 L502.2 1138.6 L503.1 1138.2 L504.1 1137.9 L505.0 1137.6 L506.0 1137.3 L506.9 1137.0 L507.9 1136.7 L508.8 1136.4 L509.8 1136.1 L510.7 1135.8 L511.6 1135.4 L512.6 1135.1 L513.5 1134.8 L514.5 1134.5 L515.4 1134.2 L516.4 1133.9 L517.3 1133.6 L518.2 1133.2 L519.2 1132.9 L520.1 1132.6 L521.1 1132.3 L522.0 1132.0 L522.9 1131.7 L523.9 1131.3 L524.8 1131.0 L525.8 1130.7 L526.7 1130.4 L527.6 1130.1 L528.6 1129.7 L529.5 1129.4 L530.5 1129.1 L531.4 1128.8 L532.3 1128.5 L533.3 1128.1 L534.2 1127.8 L535.2 1127.5 L536.1 1127.2 L537.0 1126.8 L538.0 1126.5 L538.9 1126.2 L539.9 1125.9 L540.8 1125.6 L541.7 1125.2 L542.7 1124.9 L543.6 1124.6 L544.5 1124.3 L545.5 1123.9 L546.4 1123.6 L547.4 1123.3 L548.3 1123.0 L549.2 1122.6 L550.2 1122.3 L551.1 1122.0 L552.0 1121.6 L553.0 1121.3 L553.9 1121.0 L554.9 1120.7 L555.8 1120.3 L556.7 1120.0 L557.7 1119.7 L558.6 1119.4 L559.5 1119.0 L560.5 1118.7 L561.4 1118.4 L562.4 1118.0 L563.3 1117.7 L564.2 1117.4 L565.2 1117.0 L566.1 1116.7 L567.0 1116.4 L568.0 1116.1 L568.9 1115.7 L569.9 1115.4 L570.8 1115.1 L571.7 1114.7 L572.7 1114.4 L573.6 1114.1 L574.6 1113.7 L575.5 1113.4 L576.4 1113.1 L577.4 1112.8 L578.3 1112.4 L579.3 1112.1 L580.2 1111.8 L581.1 1111.4 L582.1 1111.1 L583.0 1110.8 L584.0 1110.4 L584.9 1110.1 L585.8 1109.8 L586.8 1109.4 L587.7 1109.1 L588.7 1108.8 L589.6 1108.5 L590.5 1108.1 L591.5 1107.8 L592.4 1107.5 L593.4 1107.1 L594.3 1106.8 L595.3 1106.5 L596.2 1106.1 L597.1 1105.8 L598.1 1105.5 L599.0 1105.2 L600.0 1104.8 L600.9 1104.5 L601.9 1104.2 L602.8 1103.8 L603.8 1103.5 L604.7 1103.2 L605.7 1102.9 L606.6 1102.5 L607.5 1102.2 L608.5 1101.9 L609.4 1101.6 L610.4 1101.2 L611.3 1100.9 L612.3 1100.6 L613.2 1100.3 L614.2 1100.0 L615.1 1099.6 L616.1 1099.3 L617.0 1099.0 L618.0 1098.7 L618.9 1098.4 L619.9 1098.0 L620.8 1097.7 L621.8 1097.4 L622.7 1097.1 L623.7 1096.8 L624.6 1096.5 L625.6 1096.2 L626.5 1095.8 L627.5 1095.5 L628.4 1095.2 L629.4 1094.9 L630.3 1094.6 L631.3 1094.3 L632.2 1094.0 L633.2 1093.7 L634.1 1093.4 L635.1 1093.1 L636.1 1092.8 L637.0 1092.5 L638.0 1092.2 L638.9 1091.9 L639.9 1091.6 L640.8 1091.3 L641.8 1091.0 L642.7 1090.7 L643.7 1090.4 L644.7 1090.1 L645.6 1089.8 L646.6 1089.5 L647.5 1089.3 L648.5 1089.0 L649.5 1088.7 L650.4 1088.4 L651.4 1088.1 L652.3 1087.8 L653.3 1087.6 L654.3 1087.3 L655.2 1087.0 L656.2 1086.7 L657.1 1086.5 L658.1 1086.2 L659.1 1085.9 L660.0 1085.6 L661.0 1085.4 L662.0 1085.1 L662.9 1084.8 L663.9 1084.6 L664.9 1084.3 L665.8 1084.1 L666.8 1083.8 L667.8 1083.5 L668.7 1083.3 L669.7 1083.0 L670.7 1082.8 L671.6 1082.5 L672.6 1082.3 L673.6 1082.0 L674.5 1081.8 L675.5 1081.6 L676.5 1081.3 L677.4 1081.1 L678.4 1080.9 L679.4 1080.6 L680.4 1080.4 L681.3 1080.2 L682.3 1079.9 L683.3 1079.7 L684.2 1079.5 L685.2 1079.3 L686.2 1079.0 L687.2 1078.8 L688.1 1078.6 L689.1 1078.4 L690.1 1078.2 L691.1 1078.0 L692.0 1077.8 L693.0 1077.5 L694.0 1077.3 L695.0 1077.1 L696.0 1076.9 L696.9 1076.8 L697.9 1076.6 L698.9 1076.4 L699.9 1076.2 L700.9 1076.0 L701.8 1075.8 L702.8 1075.6 L703.8 1075.4 L704.8 1075.3 L705.8 1075.1 L706.8 1074.9 L707.7 1074.7 L708.7 1074.6 L709.7 1074.4 L710.7 1074.2 L711.7 1074.1 L712.7 1073.9 L713.6 1073.8 L714.6 1073.6 L715.6 1073.4 L716.6 1073.3 L717.6 1073.1 L718.6 1073.0 L719.6 1072.9 L720.6 1072.7 L721.6 1072.6 L722.5 1072.4 L723.5 1072.3 L724.5 1072.2 L725.5 1072.0 L726.5 1071.9 L727.5 1071.8 L728.5 1071.7 L729.5 1071.5 L730.5 1071.4 L731.5 1071.3 L732.5 1071.2 L733.4 1071.1 L734.4 1070.9 L735.4 1070.8 L736.4 1070.7 L737.4 1070.6 L738.4 1070.5 L739.4 1070.4 L740.4 1070.3 L741.4 1070.2 L742.4 1070.1 L743.4 1070.0 L744.4 1069.9 L745.4 1069.9 L746.4 1069.8 L747.4 1069.7 L748.4 1069.6 L749.4 1069.5 L750.4 1069.4 L751.4 1069.4 L752.4 1069.3 L753.4 1069.2 L754.4 1069.2 L755.4 1069.1 L756.3 1069.0 L757.3 1069.0 L758.3 1068.9 L759.3 1068.8 L760.3 1068.8 L761.3 1068.7 L762.3 1068.7 L763.3 1068.6 L764.3 1068.6 L765.3 1068.5 L766.3 1068.5 L767.3 1068.4 L768.3 1068.4 L769.3 1068.4 L770.3 1068.3 L771.3 1068.3 L772.3 1068.3 L773.3 1068.2 L774.3 1068.2 L775.3 1068.2 L776.3 1068.2 L777.3 1068.1 L778.3 1068.1 L779.3 1068.1 L780.3 1068.1 L781.3 1068.1 L782.3 1068.0 L783.3 1068.0 L784.3 1068.0 L785.3 1068.0 L786.3 1068.0 L787.3 1068.0 L788.3 1068.0 L789.3 1068.0 L790.3 1068.0 L791.3 1068.0 L792.3 1068.0 L793.3 1068.0 L794.3 1068.1 L795.3 1068.1 L796.3 1068.1 L797.3 1068.1 L798.3 1068.1 L799.3 1068.1 L800.3 1068.2 L801.3 1068.2 L802.3 1068.2 L803.3 1068.3 L804.3 1068.3 L805.3 1068.3 L806.3 1068.4 L807.3 1068.4 L808.3 1068.4 L809.3 1068.5 L810.3 1068.5 L811.3 1068.6 L812.3 1068.6 L813.3 1068.6 L814.3 1068.7 L815.3 1068.8 L816.3 1068.8 L817.3 1068.9 L818.3 1068.9 L819.3 1069.0 L820.3 1069.0 L821.3 1069.1 L822.3 1069.2 L823.3 1069.2 L824.3 1069.3 L825.3 1069.4 L826.3 1069.4 L827.3 1069.5 L828.3 1069.6 L829.3 1069.7 L830.3 1069.8 L831.3 1069.8 L832.3 1069.9 L833.3 1070.0 L834.3 1070.1 L835.3 1070.2 L836.3 1070.3 L837.3 1070.4 L838.2 1070.5 L839.2 1070.6 L840.2 1070.7 L841.2 1070.8 L842.2 1070.8 L843.2 1071.0 L844.2 1071.1 L845.2 1071.2 L846.2 1071.3 L847.2 1071.4 L848.2 1071.5 L849.2 1071.6 L850.2 1071.7 L851.2 1071.8 L852.2 1071.9 L853.1 1072.0 L854.1 1072.2 L855.1 1072.3 L856.1 1072.4 L857.1 1072.5 L858.1 1072.6 L859.1 1072.8 L860.1 1072.9 L861.1 1073.0 L862.1 1073.1 L863.1 1073.3 L864.1 1073.4 L865.0 1073.5 L866.0 1073.7 L867.0 1073.8 L868.0 1073.9 L869.0 1074.1 L870.0 1074.2 L871.0 1074.3 L872.0 1074.5 L873.0 1074.6 L874.0 1074.8 L874.9 1074.9 L875.9 1075.0 L876.9 1075.2 L877.9 1075.3 L878.9 1075.5 L879.9 1075.6 L880.9 1075.8 L881.9 1075.9 L882.9 1076.1 L883.8 1076.2 L884.8 1076.4 L885.8 1076.5 L886.8 1076.7 L887.8 1076.8 L888.8 1077.0 L889.8 1077.1 L890.8 1077.3 L891.8 1077.4 L892.7 1077.6 L893.7 1077.7 L894.7 1077.9 L895.7 1078.0 L896.7 1078.2 L897.7 1078.4 L898.7 1078.5 L899.7 1078.7 L900.6 1078.8 L901.6 1079.0 L902.6 1079.2 L903.6 1079.3 L904.6 1079.5 L905.6 1079.6 L906.6 1079.8 L907.6 1080.0 L908.6 1080.1 L909.5 1080.3 L910.5 1080.5 L911.5 1080.6 L912.5 1080.8 L913.5 1080.9 L914.5 1081.1 L915.5 1081.3 L916.5 1081.4 L917.4 1081.6 L918.4 1081.8 L919.4 1081.9 L920.4 1082.1 L921.4 1082.3 L922.4 1082.4 L923.4 1082.6 L924.4 1082.8 L925.3 1082.9 L926.3 1083.1 L927.3 1083.2 L928.3 1083.4 L929.3 1083.6 L930.3 1083.7 L931.3 1083.9 L932.3 1084.1 L933.2 1084.2 L934.2 1084.4 L935.2 1084.6 L936.2 1084.7 L937.2 1084.9 L938.2 1085.1 L939.2 1085.2 L940.2 1085.4 L941.1 1085.5 L942.1 1085.7 L943.1 1085.9 L944.1 1086.0 L945.1 1086.2 L946.1 1086.4 L947.1 1086.5 L948.1 1086.7 L949.0 1086.8 L950.0 1087.0 L951.0 1087.2 L952.0 1087.3 L953.0 1087.5 L954.0 1087.6 L955.0 1087.8 L956.0 1087.9 L956.9 1088.1 L957.9 1088.3 L958.9 1088.4 L959.9 1088.6 L960.9 1088.7 L961.9 1088.9 L962.9 1089.0 L963.9 1089.2 L964.9 1089.3 L965.8 1089.5 L966.8 1089.6 L967.8 1089.8 L968.8 1089.9 L969.8 1090.1 L970.8 1090.2 L971.8 1090.4 L972.8 1090.5 L973.8 1090.7 L974.7 1090.8 L975.7 1091.0 L976.7 1091.1 L977.7 1091.3 L978.7 1091.4 L979.7 1091.6 L980.7 1091.7 L981.7 1091.9 L982.7 1092.0 L983.7 1092.2 L984.6 1092.3 L985.6 1092.5 L986.6 1092.6 L987.6 1092.7 L988.6 1092.9 L989.6 1093.0 L990.6 1093.2 L991.6 1093.3 L992.6 1093.4 L993.6 1093.6 L994.5 1093.7 L995.5 1093.9 L996.5 1094.0 L997.5 1094.1 L998.5 1094.3 L999.5 1094.4 L1000.5 1094.6 L1001.5 1094.7 L1002.5 1094.8 L1003.5 1095.0 L1004.4 1095.1 L1005.4 1095.2 L1006.4 1095.4 L1007.4 1095.5 L1008.4 1095.7 L1009.4 1095.8 L1010.4 1095.9 L1011.4 1096.1 L1012.4 1096.2 L1013.4 1096.3 L1014.4 1096.5 L1015.3 1096.6 L1016.3 1096.7 L1017.3 1096.8 L1018.3 1097.0 L1019.3 1097.1 L1020.3 1097.2 L1021.3 1097.4 L1022.3 1097.5 L1023.3 1097.6 L1024.3 1097.8 L1025.3 1097.9 L1026.3 1098.0 L1027.2 1098.1 L1028.2 1098.3 L1029.2 1098.4 L1030.2 1098.5 L1031.2 1098.6 L1032.2 1098.8 L1033.2 1098.9 L1034.2 1099.0 L1035.2 1099.1 L1036.2 1099.3 L1037.2 1099.4 L1038.2 1099.5 L1039.1 1099.6 L1040.1 1099.8 L1041.1 1099.9 L1042.1 1100.0 L1043.1 1100.1 L1044.1 1100.2 L1045.1 1100.4 L1046.1 1100.5 L1047.1 1100.6 L1048.1 1100.7 L1049.1 1100.8 L1050.1 1100.9 L1051.1 1101.1 L1052.0 1101.2 L1053.0 1101.3 L1054.0 1101.4 L1055.0 1101.5 L1056.0 1101.7 L1057.0 1101.8 L1058.0 1101.9 L1059.0 1102.0 L1060.0 1102.1 L1061.0 1102.2 L1062.0 1102.3 L1063.0 1102.5 L1064.0 1102.6 L1065.0 1102.7 L1065.9 1102.8 L1066.9 1102.9 L1067.9 1103.0 L1068.9 1103.1 L1069.9 1103.2 L1070.9 1103.3 L1071.9 1103.5 L1072.9 1103.6 L1073.9 1103.7 L1074.9 1103.8 L1075.9 1103.9 L1076.9 1104.0 L1077.9 1104.1 L1078.9 1104.2 L1079.9 1104.3 L1080.8 1104.4 L1081.8 1104.5 L1082.8 1104.6 L1083.8 1104.8 L1084.8 1104.9 L1085.8 1105.0 L1086.8 1105.1 L1087.8 1105.2 L1088.8 1105.3 L1089.8 1105.4 L1090.8 1105.5 L1091.8 1105.6 L1092.8 1105.7 L1093.8 1105.8 L1094.8 1105.9 L1095.8 1106.0 L1096.8 1106.1 L1097.7 1106.2 L1098.7 1106.3 L1099.7 1106.4 L1100.7 1106.5 L1101.7 1106.6 L1102.7 1106.7 L1103.7 1106.8 L1104.7 1106.9 L1105.7 1107.0 L1106.7 1107.1 L1107.7 1107.2 L1108.7 1107.3 L1109.7 1107.4 L1110.7 1107.5 L1111.7 1107.6 L1112.7 1107.7 L1113.7 1107.8 L1114.7 1107.9 L1115.6 1108.0 L1116.6 1108.1 L1117.6 1108.2 L1118.6 1108.2 L1119.6 1108.3 L1120.6 1108.4 L1121.6 1108.5 L1122.6 1108.6 L1123.6 1108.7 L1124.6 1108.8 L1125.6 1108.9 L1126.6 1109.0 L1127.6 1109.1 L1128.6 1109.2 L1129.6 1109.3 L1130.6 1109.4 L1131.6 1109.4 L1132.6 1109.5 L1133.6 1109.6 L1134.6 1109.7 L1135.6 1109.8 L1136.5 1109.9 L1137.5 1110.0 L1138.5 1110.1 L1139.5 1110.1 L1140.5 1110.2 L1141.5 1110.3 L1142.5 1110.4 L1143.5 1110.5 L1144.5 1110.6 L1145.5 1110.7 L1146.5 1110.8 L1147.5 1110.8 L1148.5 1110.9 L1149.5 1111.0 L1150.5 1111.1 L1151.5 1111.2 L1152.5 1111.3 L1153.5 1111.3 L1154.5 1111.4 L1155.5 1111.5 L1156.5 1111.6 L1157.5 1111.7 L1158.5 1111.8 L1159.5 1111.8 L1160.4 1111.9 L1161.4 1112.0 L1162.4 1112.1 L1163.4 1112.2 L1164.4 1112.2 L1165.4 1112.3 L1166.4 1112.4 L1167.4 1112.5 L1168.4 1112.5 L1169.4 1112.6 L1170.4 1112.7 L1171.4 1112.8 L1172.4 1112.9 L1173.4 1112.9 L1174.4 1113.0 L1175.4 1113.1 L1176.4 1113.2 L1177.4 1113.2 L1178.4 1113.3 L1179.4 1113.4 L1180.4 1113.5 L1181.4 1113.5 L1182.4 1113.6 L1183.4 1113.7 L1184.4 1113.8 L1185.4 1113.8 L1186.4 1113.9 L1187.4 1114.0 L1188.4 1114.1 L1189.4 1114.1 L1190.3 1114.2 L1191.3 1114.3 L1192.3 1114.4 L1193.3 1114.4 L1194.3 1114.5 L1195.3 1114.6 L1196.3 1114.6 L1197.3 1114.7 L1198.3 1114.8 L1199.3 1114.8 L1200.3 1114.9 L1201.3 1115.0 L1202.3 1115.1 L1203.3 1115.1 L1204.3 1115.2 L1205.3 1115.3 L1206.3 1115.3 L1207.3 1115.4 L1208.3 1115.5 L1209.3 1115.5 L1210.3 1115.6 L1211.3 1115.7 L1212.3 1115.7 L1213.3 1115.8 L1214.3 1115.9 L1215.3 1115.9 L1216.3 1116.0 L1217.3 1116.1 L1218.3 1116.1 L1219.3 1116.2 L1220.3 1116.3 L1221.3 1116.3 L1222.3 1116.4 L1223.3 1116.4 L1224.3 1116.5 L1225.3 1116.6 L1226.3 1116.6 L1227.3 1116.7 L1228.3 1116.8 L1229.3 1116.8 L1230.2 1116.9 L1231.2 1116.9 L1232.2 1117.0 L1233.2 1117.1 L1234.2 1117.1 L1235.2 1117.2 L1236.2 1117.2 L1237.2 1117.3 L1238.2 1117.4 L1239.2 1117.4 L1240.2 1117.5 L1241.2 1117.5 L1242.2 1117.6 L1243.2 1117.7 L1244.2 1117.7 L1245.2 1117.8 L1246.2 1117.8 L1247.2 1117.9 L1248.2 1117.9 L1249.2 1118.0 L1250.2 1118.1 L1251.2 1118.1 L1252.2 1118.2 L1253.2 1118.2 L1254.2 1118.3 L1255.2 1118.3 L1256.2 1118.4 L1257.2 1118.5 L1258.2 1118.5 L1259.2 1118.6 L1260.2 1118.6 L1261.2 1118.7 L1262.2 1118.7 L1263.2 1118.8 L1264.2 1118.8 L1265.2 1118.9 L1266.2 1118.9 L1267.2 1119.0 L1268.2 1119.0 L1269.2 1119.1 L1270.2 1119.2 L1271.2 1119.2 L1272.2 1119.3 L1273.2 1119.3 L1274.2 1119.4 L1275.2 1119.4 L1276.2 1119.5 L1277.2 1119.5 L1278.2 1119.6 L1279.2 1119.6 L1280.2 1119.7 L1281.2 1119.7 L1282.2 1119.8 L1283.2 1119.8 L1284.2 1119.9 L1285.2 1119.9 L1286.2 1120.0 L1287.2 1120.0 L1288.2 1120.1 L1289.2 1120.1 L1290.2 1120.2 L1291.2 1120.2 L1292.2 1120.2 L1293.2 1120.3 L1294.2 1120.3 L1295.2 1120.4 L1296.2 1120.4 L1297.2 1120.5 L1298.2 1120.5 L1299.2 1120.6 L1300.2 1120.6 L1301.2 1120.7 L1302.2 1120.7 L1303.2 1120.8 L1304.1 1120.8 L1305.1 1120.8 L1306.1 1120.9 L1307.1 1120.9 L1308.1 1121.0 L1309.1 1121.0 L1310.1 1121.1 L1311.1 1121.1 L1312.1 1121.2 L1313.1 1121.2 L1314.1 1121.2 L1315.1 1121.3 L1316.1 1121.3 L1317.1 1121.4 L1318.1 1121.4 L1319.1 1121.5 L1320.1 1121.5 L1321.1 1121.5 L1322.1 1121.6 L1323.1 1121.6 L1324.1 1121.7 L1325.1 1121.7 L1326.1 1121.7 L1327.1 1121.8 L1328.1 1121.8 L1329.1 1121.9 L1330.1 1121.9 L1331.1 1121.9 L1332.1 1122.0 L1333.1 1122.0 L1334.1 1122.1 L1335.1 1122.1 L1336.1 1122.1 L1337.1 1122.2 L1338.1 1122.2 L1339.1 1122.3 L1340.1 1122.3 L1341.1 1122.3 L1342.1 1122.4 L1343.1 1122.4 L1344.1 1122.4 L1345.1 1122.5 L1346.1 1122.5 L1347.1 1122.6 L1348.1 1122.6 L1349.1 1122.6 L1350.1 1122.7 L1351.1 1122.7 L1352.1 1122.7 L1353.1 1122.8 L1354.1 1122.8 L1355.1 1122.9 L1356.1 1122.9 L1357.1 1122.9 L1358.1 1123.0 L1359.1 1123.0 L1360.1 1123.0 L1361.1 1123.1 L1362.1 1123.1 L1363.1 1123.1 L1364.1 1123.2 L1365.1 1123.2 L1366.1 1123.2 L1367.1 1123.3 L1368.1 1123.3 L1369.1 1123.3 L1370.1 1123.4 L1371.1 1123.4 L1372.1 1123.4 L1373.1 1123.5 L1374.1 1123.5 L1375.1 1123.5 L1376.1 1123.6 L1377.1 1123.6 L1378.1 1123.6 L1379.1 1123.7 L1380.1 1123.7 L1381.1 1123.7 L1382.1 1123.8 L1383.1 1123.8 L1384.1 1123.8 L1385.1 1123.9 L1386.1 1123.9 L1387.1 1123.9 L1388.1 1123.9 L1389.1 1124.0 L1390.1 1124.0 L1391.1 1124.0 L1392.1 1124.1 L1393.1 1124.1 L1394.1 1124.1 L1395.1 1124.2 L1396.1 1124.2 L1397.1 1124.2 L1398.1 1124.2 L1399.1 1124.3 L1400.1 1124.3 L1401.1 1124.3 L1402.1 1124.4 L1403.1 1124.4 L1404.1 1124.4 L1405.1 1124.4 L1406.1 1124.5 L1407.1 1124.5 L1408.1 1124.5 L1409.1 1124.6 L1410.1 1124.6 L1411.1 1124.6 L1412.1 1124.6 L1413.1 1124.7 L1414.1 1124.7 L1415.1 1124.7 L1416.1 1124.7 L1417.1 1124.8 L1418.1 1124.8 L1419.1 1124.8 L1420.1 1124.9 L1421.1 1124.9 L1422.1 1124.9 L1423.1 1124.9 L1424.1 1125.0 L1425.1 1125.0 L1426.1 1125.0 L1427.1 1125.0 L1428.1 1125.1 L1429.1 1125.1 L1430.1 1125.1 L1431.1 1125.1 L1432.1 1125.2 L1433.1 1125.2 L1434.1 1125.2 L1435.1 1125.2 L1436.1 1125.3 L1437.1 1125.3 L1438.1 1125.3 L1439.1 1125.3 L1440.1 1125.4 L1441.1 1125.4 L1442.1 1125.4 L1443.1 1125.4 L1444.1 1125.5 L1445.1 1125.5 L1446.1 1125.5 L1447.1 1125.5 L1448.1 1125.5 L1449.1 1125.6 L1450.1 1125.6 L1451.1 1125.6 L1452.1 1125.6 L1453.1 1125.7 L1454.1 1125.7 L1455.1 1125.7 L1456.1 1125.7 L1457.1 1125.8 L1458.1 1125.8 L1459.1 1125.8 L1460.1 1125.8 L1461.1 1125.8 L1462.1 1125.9 L1463.1 1125.9 L1464.1 1125.9 L1465.1 1125.9 L1466.1 1126.0 L1467.1 1126.0 L1468.1 1126.0 L1469.1 1126.0 L1470.1 1126.0 L1471.1 1126.1 L1472.1 1126.1 L1473.1 1126.1 L1474.1 1126.1 L1475.1 1126.1 L1476.1 1126.2 L1477.1 1126.2 L1478.1 1126.2 L1479.1 1126.2 L1480.1 1126.2 L1481.1 1126.3 L1482.1 1126.3 L1483.1 1126.3 L1484.1 1126.3 L1485.1 1126.3 L1486.1 1126.4 L1487.1 1126.4 L1488.1 1126.4 L1489.1 1126.4 L1490.1 1126.4 L1491.1 1126.5 L1492.1 1126.5 L1493.1 1126.5 L1494.1 1126.5 L1495.1 1126.5 L1496.1 1126.6 L1497.1 1126.6 L1498.1 1126.6 L1499.1 1126.6 L1500.1 1126.6 L1501.1 1126.7 L1502.1 1126.7 L1503.1 1126.7 L1504.1 1126.7 L1505.1 1126.7 L1506.1 1126.8 L1507.1 1126.8 L1508.1 1126.8 L1509.1 1126.8 L1510.1 1126.8 L1511.1 1126.8 L1512.1 1126.9 L1513.1 1126.9 L1514.1 1126.9 L1515.1 1126.9 L1516.1 1126.9 L1517.1 1127.0 L1518.1 1127.0 L1519.1 1127.0 L1520.1 1127.0 L1521.1 1127.0 L1522.1 1127.0 L1523.1 1127.1 L1524.1 1127.1 L1525.1 1127.1 L1526.1 1127.1 L1527.1 1127.1 L1528.1 1127.1 L1529.1 1127.2 L1530.1 1127.2 L1531.1 1127.2 L1532.1 1127.2 L1533.1 1127.2 L1534.1 1127.3 L1535.1 1127.3 L1536.1 1127.3 L1537.1 1127.3 L1538.1 1127.3 L1539.1 1127.3 L1540.1 1127.4 L1541.1 1127.4 L1542.1 1127.4 L1543.1 1127.4 L1544.1 1127.4 L1545.1 1127.4 L1546.1 1127.5 L1547.1 1127.5 L1548.1 1127.5 L1549.1 1127.5 L1550.1 1127.5 L1551.1 1127.5 L1552.1 1127.6 L1553.1 1127.6 L1554.1 1127.6 L1555.1 1127.6 L1556.1 1127.6 L1557.1 1127.6 L1558.1 1127.7 L1559.1 1127.7 L1560.1 1127.7 L1561.1 1127.7 L1562.1 1127.7 L1563.1 1127.7 L1564.1 1127.7 L1565.1 1127.8 L1566.1 1127.8 L1567.1 1127.8 L1568.1 1127.8 L1569.1 1127.8 L1570.1 1127.8 L1571.1 1127.9 L1572.1 1127.9 L1573.1 1127.9 L1574.1 1127.9 L1575.1 1127.9 L1576.1 1127.9 L1577.1 1128.0 L1578.1 1128.0 L1579.1 1128.0 L1580.1 1128.0 L1581.1 1128.0 L1582.1 1128.0 L1583.1 1128.1 L1584.1 1128.1 L1585.1 1128.1 L1586.1 1128.1 L1587.1 1128.1 L1588.1 1128.1 L1589.1 1128.1 L1590.1 1128.2 L1591.1 1128.2 L1592.1 1128.2 L1593.1 1128.2 L1594.1 1128.2 L1595.1 1128.2 L1596.1 1128.3 L1597.1 1128.3 L1598.1 1128.3 L1599.1 1128.3 L1600.1 1128.3 L1601.1 1128.3 L1602.1 1128.4 L1603.1 1128.4 L1604.1 1128.4 L1605.1 1128.4 L1606.1 1128.4 L1607.1 1128.4 L1608.1 1128.4 L1609.1 1128.5 L1610.1 1128.5 L1611.1 1128.5 L1612.1 1128.5 L1613.1 1128.5 L1614.1 1128.5 L1615.1 1128.6 L1616.1 1128.6 L1617.1 1128.6 L1618.1 1128.6 L1619.1 1128.6 L1620.1 1128.6 L1621.1 1128.7 L1622.1 1128.7 L1623.1 1128.7 L1624.1 1128.7 L1625.1 1128.7 L1626.1 1128.7 L1627.0 1128.8 L1628.0 1128.8 L1629.0 1128.8 L1630.0 1128.8 L1631.0 1128.8 L1632.0 1128.8 L1633.0 1128.8 L1634.0 1128.9 L1635.0 1128.9 L1636.0 1128.9 L1636.7 1128.9"/><path d="M171.0 1187.6 L171.2 1186.6 L171.4 1185.5 L171.7 1184.4 L172.0 1183.4 L172.4 1182.4 L172.9 1181.5 L173.4 1180.6 L174.0 1179.7 L174.7 1179.0 L175.4 1178.3 L176.1 1177.7 L176.9 1177.2 L177.7 1176.8 L178.6 1176.6 L179.5 1176.3 L180.5 1176.2 L181.4 1176.1 L182.4 1176.1 L183.4 1176.1 L184.4 1176.1 L185.4 1176.2 L186.4 1176.3 L187.4 1176.4 L188.4 1176.5 L189.4 1176.6 L190.4 1176.8 L191.4 1176.9 L192.4 1177.0 L193.4 1177.2 L194.4 1177.3 L195.3 1177.5 L196.3 1177.7 L197.3 1177.9 L198.3 1178.0 L199.3 1178.2 L200.3 1178.4 L201.3 1178.6 L202.3 1178.8 L203.3 1179.0 L204.2 1179.2 L205.2 1179.4 L206.2 1179.6 L207.2 1179.8 L208.2 1180.0 L209.2 1180.2 L210.2 1180.4 L211.1 1180.6 L212.1 1180.8 L213.1 1181.0 L214.1 1181.2 L215.1 1181.4 L216.1 1181.5 L217.0 1181.7 L218.0 1181.9 L219.0 1182.0 L220.0 1182.2 L221.0 1182.3 L222.0 1182.5 L223.0 1182.6 L224.0 1182.7 L224.9 1182.8 L225.9 1183.0 L226.9 1183.1 L227.9 1183.2 L228.9 1183.2 L229.9 1183.3 L230.9 1183.4 L231.9 1183.5 L232.9 1183.5 L233.9 1183.6 L234.9 1183.7 L235.8 1183.7 L236.8 1183.7 L237.8 1183.8 L238.8 1183.8 L239.8 1183.8 L240.8 1183.9 L241.8 1183.9 L242.8 1183.9 L243.8 1183.9 L244.8 1183.9 L245.8 1183.9 L246.8 1183.9 L247.8 1183.9 L248.8 1183.8 L249.8 1183.8 L250.8 1183.8 L251.8 1183.8 L252.8 1183.7 L253.8 1183.7 L254.8 1183.6 L255.8 1183.6 L256.8 1183.5 L257.8 1183.5 L258.8 1183.4 L259.8 1183.4 L260.8 1183.3 L261.8 1183.2 L262.8 1183.2 L263.8 1183.1 L264.8 1183.0 L265.8 1182.9 L266.8 1182.8 L267.8 1182.8 L268.8 1182.7 L269.8 1182.6 L270.8 1182.5 L271.8 1182.4 L272.8 1182.3 L273.8 1182.2 L274.8 1182.1 L275.8 1182.0 L276.8 1181.9 L277.8 1181.8 L278.8 1181.7 L279.8 1181.6 L280.8 1181.5 L281.8 1181.4 L282.8 1181.3 L283.8 1181.1 L284.8 1181.0 L285.8 1180.9 L286.8 1180.8 L287.8 1180.7 L288.8 1180.6 L289.8 1180.5 L290.8 1180.3 L291.8 1180.2 L292.8 1180.1 L293.8 1180.0 L294.8 1179.9 L295.8 1179.8 L296.8 1179.7 L297.7 1179.6 L298.7 1179.4 L299.7 1179.3 L300.7 1179.2 L301.7 1179.1 L302.7 1179.0 L303.7 1178.9 L304.7 1178.8 L305.7 1178.7 L306.7 1178.6 L307.7 1178.5 L308.7 1178.3 L309.7 1178.2 L310.7 1178.1 L311.7 1178.0 L312.7 1177.9 L313.6 1177.8 L314.6 1177.7 L315.6 1177.6 L316.6 1177.5 L317.6 1177.3 L318.6 1177.2 L319.6 1177.1 L320.6 1177.0 L321.6 1176.9 L322.6 1176.7 L323.5 1176.6 L324.5 1176.5 L325.5 1176.4 L326.5 1176.2 L327.5 1176.1 L328.5 1176.0 L329.5 1175.8 L330.5 1175.7 L331.4 1175.6 L332.4 1175.4 L333.4 1175.3 L334.4 1175.1 L335.4 1175.0 L336.4 1174.8 L337.3 1174.7 L338.3 1174.5 L339.3 1174.4 L340.3 1174.2 L341.3 1174.0 L342.3 1173.8 L343.2 1173.7 L344.2 1173.5 L345.2 1173.3 L346.2 1173.1 L347.2 1172.9 L348.1 1172.7 L349.1 1172.5 L350.1 1172.3 L351.1 1172.1 L352.0 1171.9 L353.0 1171.7 L354.0 1171.5 L355.0 1171.3 L355.9 1171.1 L356.9 1170.8 L357.9 1170.6 L358.9 1170.4 L359.8 1170.2 L360.8 1169.9 L361.8 1169.7 L362.8 1169.5 L363.7 1169.2 L364.7 1169.0 L365.7 1168.7 L366.7 1168.5 L367.6 1168.2 L368.6 1168.0 L369.6 1167.7 L370.5 1167.5 L371.5 1167.2 L372.5 1166.9 L373.4 1166.7 L374.4 1166.4 L375.4 1166.2 L376.3 1165.9 L377.3 1165.6 L378.3 1165.4 L379.2 1165.1 L380.2 1164.8 L381.2 1164.5 L382.1 1164.3 L383.1 1164.0 L384.1 1163.7 L385.0 1163.4 L386.0 1163.2 L387.0 1162.9 L387.9 1162.6 L388.9 1162.3 L389.9 1162.0 L390.8 1161.7 L391.8 1161.5 L392.7 1161.2 L393.7 1160.9 L394.7 1160.6 L395.6 1160.3 L396.6 1160.0 L397.5 1159.7 L398.5 1159.4 L399.4 1159.1 L400.4 1158.8 L401.4 1158.5 L402.3 1158.2 L403.3 1157.9 L404.2 1157.6 L405.2 1157.3 L406.1 1157.0 L407.1 1156.7 L408.0 1156.4 L409.0 1156.1 L410.0 1155.8 L410.9 1155.5 L411.9 1155.2 L412.8 1154.9 L413.8 1154.6 L414.7 1154.3 L415.7 1153.9 L416.6 1153.6 L417.6 1153.3 L418.5 1153.0 L419.5 1152.7 L420.4 1152.3 L421.4 1152.0 L422.3 1151.7 L423.3 1151.4 L424.2 1151.1 L425.1 1150.7 L426.1 1150.4 L427.0 1150.1 L428.0 1149.7 L428.9 1149.4 L429.9 1149.1 L430.8 1148.7 L431.8 1148.4 L432.7 1148.1 L433.6 1147.7 L434.6 1147.4 L435.5 1147.1 L436.5 1146.7 L437.4 1146.4 L438.3 1146.0 L439.3 1145.7 L440.2 1145.3 L441.2 1145.0 L442.1 1144.7 L443.0 1144.3 L444.0 1144.0 L444.9 1143.6 L445.8 1143.3 L446.8 1142.9 L447.7 1142.5 L448.6 1142.2 L449.6 1141.8 L450.5 1141.5 L451.4 1141.1 L452.4 1140.8 L453.3 1140.4 L454.2 1140.0 L455.2 1139.7 L456.1 1139.3 L457.0 1138.9 L458.0 1138.6 L458.9 1138.2 L459.8 1137.8 L460.7 1137.5 L461.7 1137.1 L462.6 1136.7 L463.5 1136.3 L464.4 1136.0 L465.4 1135.6 L466.3 1135.2 L467.2 1134.8 L468.1 1134.4 L469.1 1134.1 L470.0 1133.7 L470.9 1133.3 L471.8 1132.9 L472.8 1132.5 L473.7 1132.1 L474.6 1131.7 L475.5 1131.4 L476.4 1131.0 L477.3 1130.6 L478.3 1130.2 L479.2 1129.8 L480.1 1129.4 L481.0 1129.0 L481.9 1128.6 L482.8 1128.2 L483.8 1127.8 L484.7 1127.4 L485.6 1127.0 L486.5 1126.6 L487.4 1126.2 L488.3 1125.8 L489.2 1125.4 L490.1 1125.0 L491.1 1124.5 L492.0 1124.1 L492.9 1123.7 L493.8 1123.3 L494.7 1122.9 L495.6 1122.5 L496.5 1122.1 L497.4 1121.6 L498.3 1121.2 L499.2 1120.8 L500.1 1120.4 L501.0 1120.0 L501.9 1119.5 L502.8 1119.1 L503.7 1118.7 L504.6 1118.3 L505.5 1117.8 L506.4 1117.4 L507.3 1117.0 L508.2 1116.5 L509.1 1116.1 L510.0 1115.7 L510.9 1115.2 L511.8 1114.8 L512.7 1114.3 L513.6 1113.9 L514.5 1113.5 L515.4 1113.0 L516.3 1112.6 L517.2 1112.1 L518.1 1111.7 L519.0 1111.2 L519.9 1110.8 L520.8 1110.3 L521.6 1109.9 L522.5 1109.4 L523.4 1109.0 L524.3 1108.5 L525.2 1108.1 L526.1 1107.6 L527.0 1107.2 L527.9 1106.7 L528.7 1106.2 L529.6 1105.8 L530.5 1105.3 L531.4 1104.9 L532.3 1104.4 L533.2 1103.9 L534.0 1103.5 L534.9 1103.0 L535.8 1102.5 L536.7 1102.0 L537.6 1101.6 L538.4 1101.1 L539.3 1100.6 L540.2 1100.2 L541.1 1099.7 L541.9 1099.2 L542.8 1098.7 L543.7 1098.2 L544.6 1097.8 L545.4 1097.3 L546.3 1096.8 L547.2 1096.3 L548.1 1095.8 L548.9 1095.3 L549.8 1094.8 L550.7 1094.3 L551.5 1093.9 L552.4 1093.4 L553.3 1092.9 L554.1 1092.4 L555.0 1091.9 L555.9 1091.4 L556.7 1090.9 L557.6 1090.4 L558.4 1089.9 L559.3 1089.4 L560.2 1088.9 L561.0 1088.4 L561.9 1087.9 L562.8 1087.3 L563.6 1086.8 L564.5 1086.3 L565.3 1085.8 L566.2 1085.3 L567.0 1084.8 L567.9 1084.3 L568.8 1083.8 L569.6 1083.2 L570.5 1082.7 L571.3 1082.2 L572.2 1081.7 L573.0 1081.2 L573.9 1080.6 L574.7 1080.1 L575.6 1079.6 L576.4 1079.1 L577.3 1078.5 L578.1 1078.0 L579.0 1077.5 L579.8 1076.9 L580.6 1076.4 L581.5 1075.9 L582.3 1075.3 L583.2 1074.8 L584.0 1074.3 L584.9 1073.7 L585.7 1073.2 L586.5 1072.6 L587.4 1072.1 L588.2 1071.6 L589.1 1071.0 L589.9 1070.5 L590.7 1069.9 L591.6 1069.4 L592.4 1068.8 L593.2 1068.3 L594.1 1067.7 L594.9 1067.2 L595.7 1066.6 L596.6 1066.1 L597.4 1065.5 L598.2 1064.9 L599.1 1064.4 L599.9 1063.8 L600.7 1063.3 L601.5 1062.7 L602.4 1062.2 L603.2 1061.6 L604.0 1061.0 L604.9 1060.5 L605.7 1059.9 L606.5 1059.3 L607.3 1058.8 L608.2 1058.2 L609.0 1057.6 L609.8 1057.1 L610.6 1056.5 L611.5 1055.9 L612.3 1055.4 L613.1 1054.8 L613.9 1054.2 L614.8 1053.7 L615.6 1053.1 L616.4 1052.5 L617.2 1052.0 L618.1 1051.4 L618.9 1050.8 L619.7 1050.3 L620.5 1049.7 L621.3 1049.1 L622.2 1048.5 L623.0 1048.0 L623.8 1047.4 L624.6 1046.8 L625.5 1046.3 L626.3 1045.7 L627.1 1045.1 L627.9 1044.5 L628.7 1044.0 L629.6 1043.4 L630.4 1042.8 L631.2 1042.3 L632.0 1041.7 L632.9 1041.1 L633.7 1040.5 L634.5 1040.0 L635.3 1039.4 L636.1 1038.8 L637.0 1038.3 L637.8 1037.7 L638.6 1037.1 L639.4 1036.6 L640.3 1036.0 L641.1 1035.4 L641.9 1034.9 L642.7 1034.3 L643.6 1033.7 L644.4 1033.2 L645.2 1032.6 L646.0 1032.0 L646.9 1031.5 L647.7 1030.9 L648.5 1030.3 L649.3 1029.8 L650.2 1029.2 L651.0 1028.7 L651.8 1028.1 L652.7 1027.5 L653.5 1027.0 L654.3 1026.4 L655.1 1025.9 L656.0 1025.3 L656.8 1024.8 L657.6 1024.2 L658.5 1023.7 L659.3 1023.1 L660.1 1022.6 L661.0 1022.0 L661.8 1021.5 L662.6 1020.9 L663.5 1020.4 L664.3 1019.8 L665.2 1019.3 L666.0 1018.7 L666.8 1018.2 L667.7 1017.7 L668.5 1017.1 L669.3 1016.6 L670.2 1016.0 L671.0 1015.5 L671.9 1015.0 L672.7 1014.4 L673.6 1013.9 L674.4 1013.4 L675.3 1012.8 L676.1 1012.3 L677.0 1011.8 L677.8 1011.3 L678.6 1010.8 L679.5 1010.2 L680.4 1009.7 L681.2 1009.2 L682.1 1008.7 L682.9 1008.2 L683.8 1007.7 L684.6 1007.1 L685.5 1006.6 L686.3 1006.1 L687.2 1005.6 L688.1 1005.1 L688.9 1004.6 L689.8 1004.1 L690.6 1003.6 L691.5 1003.1 L692.4 1002.6 L693.2 1002.2 L694.1 1001.7 L695.0 1001.2 L695.9 1000.7 L696.7 1000.2 L697.6 999.7 L698.5 999.2 L699.4 998.8 L700.2 998.3 L701.1 997.8 L702.0 997.4 L702.9 996.9 L703.7 996.4 L704.6 996.0 L705.5 995.5 L706.4 995.0 L707.3 994.6 L708.2 994.1 L709.1 993.7 L710.0 993.2 L710.9 992.8 L711.8 992.3 L712.6 991.9 L713.5 991.5 L714.4 991.0 L715.3 990.6 L716.2 990.2 L717.1 989.7 L718.1 989.3 L719.0 988.9 L719.9 988.5 L720.8 988.1 L721.7 987.7 L722.6 987.2 L723.5 986.8 L724.4 986.4 L725.4 986.0 L726.3 985.6 L727.2 985.2 L728.1 984.8 L729.0 984.4 L730.0 984.1 L730.9 983.7 L731.8 983.3 L732.8 982.9 L733.7 982.5 L734.6 982.2 L735.5 981.8 L736.5 981.4 L737.4 981.1 L738.4 980.7 L739.3 980.3 L740.2 980.0 L741.2 979.6 L742.1 979.3 L743.1 978.9 L744.0 978.6 L745.0 978.3 L745.9 977.9 L746.9 977.6 L747.8 977.3 L748.8 976.9 L749.7 976.6 L750.7 976.3 L751.6 976.0 L752.6 975.7 L753.5 975.4 L754.5 975.1 L755.4 974.7 L756.4 974.4 L757.4 974.2 L758.3 973.9 L759.3 973.6 L760.3 973.3 L761.2 973.0 L762.2 972.7 L763.1 972.4 L764.1 972.2 L765.1 971.9 L766.1 971.6 L767.0 971.4 L768.0 971.1 L769.0 970.9 L769.9 970.6 L770.9 970.4 L771.9 970.1 L772.9 969.9 L773.8 969.6 L774.8 969.4 L775.8 969.2 L776.8 968.9 L777.7 968.7 L778.7 968.5 L779.7 968.3 L780.7 968.1 L781.7 967.8 L782.6 967.6 L783.6 967.4 L784.6 967.2 L785.6 967.0 L786.6 966.9 L787.6 966.7 L788.5 966.5 L789.5 966.3 L790.5 966.1 L791.5 966.0 L792.5 965.8 L793.5 965.6 L794.5 965.5 L795.4 965.3 L796.4 965.1 L797.4 965.0 L798.4 964.8 L799.4 964.7 L800.4 964.6 L801.4 964.4 L802.4 964.3 L803.4 964.2 L804.3 964.1 L805.3 963.9 L806.3 963.8 L807.3 963.7 L808.3 963.6 L809.3 963.5 L810.3 963.4 L811.3 963.3 L812.3 963.2 L813.3 963.1 L814.3 963.1 L815.2 963.0 L816.2 962.9 L817.2 962.8 L818.2 962.8 L819.2 962.7 L820.2 962.6 L821.2 962.6 L822.2 962.5 L823.2 962.5 L824.2 962.5 L825.2 962.4 L826.2 962.4 L827.1 962.4 L828.1 962.3 L829.1 962.3 L830.1 962.3 L831.1 962.3 L832.1 962.3 L833.1 962.3 L834.1 962.3 L835.1 962.3 L836.1 962.3 L837.0 962.3 L838.0 962.3 L839.0 962.4 L840.0 962.4 L841.0 962.4 L842.0 962.5 L843.0 962.5 L844.0 962.5 L844.9 962.6 L845.9 962.6 L846.9 962.7 L847.9 962.8 L848.9 962.8 L849.9 962.9 L850.9 963.0 L851.8 963.1 L852.8 963.1 L853.8 963.2 L854.8 963.3 L855.8 963.4 L856.8 963.5 L857.7 963.6 L858.7 963.7 L859.7 963.8 L860.7 964.0 L861.7 964.1 L862.6 964.2 L863.6 964.3 L864.6 964.5 L865.6 964.6 L866.6 964.7 L867.5 964.9 L868.5 965.0 L869.5 965.2 L870.5 965.3 L871.4 965.5 L872.4 965.6 L873.4 965.8 L874.4 965.9 L875.4 966.1 L876.3 966.3 L877.3 966.5 L878.3 966.6 L879.3 966.8 L880.2 967.0 L881.2 967.2 L882.2 967.4 L883.2 967.6 L884.1 967.7 L885.1 967.9 L886.1 968.1 L887.0 968.3 L888.0 968.6 L889.0 968.8 L890.0 969.0 L890.9 969.2 L891.9 969.4 L892.9 969.6 L893.9 969.8 L894.8 970.1 L895.8 970.3 L896.8 970.5 L897.7 970.7 L898.7 971.0 L899.7 971.2 L900.7 971.4 L901.6 971.7 L902.6 971.9 L903.6 972.2 L904.5 972.4 L905.5 972.7 L906.5 972.9 L907.4 973.2 L908.4 973.4 L909.4 973.7 L910.3 973.9 L911.3 974.2 L912.3 974.4 L913.2 974.7 L914.2 975.0 L915.2 975.2 L916.2 975.5 L917.1 975.8 L918.1 976.0 L919.1 976.3 L920.0 976.6 L921.0 976.8 L922.0 977.1 L922.9 977.4 L923.9 977.7 L924.9 978.0 L925.8 978.2 L926.8 978.5 L927.8 978.8 L928.7 979.1 L929.7 979.4 L930.7 979.6 L931.6 979.9 L932.6 980.2 L933.5 980.5 L934.5 980.8 L935.5 981.1 L936.4 981.4 L937.4 981.7 L938.4 982.0 L939.3 982.3 L940.3 982.6 L941.3 982.8 L942.2 983.1 L943.2 983.4 L944.2 983.7 L945.1 984.0 L946.1 984.3 L947.1 984.6 L948.0 984.9 L949.0 985.2 L950.0 985.5 L950.9 985.8 L951.9 986.1 L952.8 986.4 L953.8 986.7 L954.8 987.0 L955.7 987.3 L956.7 987.6 L957.7 987.9 L958.6 988.2 L959.6 988.5 L960.6 988.8 L961.5 989.1 L962.5 989.4 L963.5 989.7 L964.4 990.0 L965.4 990.3 L966.3 990.6 L967.3 990.9 L968.3 991.2 L969.2 991.5 L970.2 991.8 L971.2 992.1 L972.1 992.4 L973.1 992.7 L974.1 992.9 L975.0 993.2 L976.0 993.5 L977.0 993.8 L977.9 994.1 L978.9 994.4 L979.8 994.7 L980.8 995.0 L981.8 995.3 L982.7 995.6 L983.7 995.8 L984.7 996.1 L985.6 996.4 L986.6 996.7 L987.6 997.0 L988.5 997.3 L989.5 997.6 L990.5 997.8 L991.4 998.1 L992.4 998.4 L993.4 998.7 L994.3 999.0 L995.3 999.2 L996.3 999.5 L997.2 999.8 L998.2 1000.1 L999.2 1000.4 L1000.1 1000.6 L1001.1 1000.9 L1002.0 1001.2 L1003.0 1001.5 L1004.0 1001.7 L1004.9 1002.0 L1005.9 1002.3 L1006.9 1002.6 L1007.8 1002.8 L1008.8 1003.1 L1009.8 1003.4 L1010.7 1003.7 L1011.7 1003.9 L1012.7 1004.2 L1013.6 1004.5 L1014.6 1004.7 L1015.6 1005.0 L1016.5 1005.3 L1017.5 1005.5 L1018.5 1005.8 L1019.4 1006.1 L1020.4 1006.3 L1021.4 1006.6 L1022.3 1006.9 L1023.3 1007.1 L1024.3 1007.4 L1025.2 1007.7 L1026.2 1007.9 L1027.2 1008.2 L1028.1 1008.5 L1029.1 1008.7 L1030.1 1009.0 L1031.0 1009.2 L1032.0 1009.5 L1033.0 1009.8 L1033.9 1010.0 L1034.9 1010.3 L1035.9 1010.5 L1036.8 1010.8 L1037.8 1011.0 L1038.8 1011.3 L1039.7 1011.5 L1040.7 1011.8 L1041.7 1012.1 L1042.7 1012.3 L1043.6 1012.6 L1044.6 1012.8 L1045.6 1013.1 L1046.5 1013.3 L1047.5 1013.6 L1048.5 1013.8 L1049.4 1014.1 L1050.4 1014.3 L1051.4 1014.6 L1052.3 1014.8 L1053.3 1015.1 L1054.3 1015.3 L1055.2 1015.6 L1056.2 1015.8 L1057.2 1016.0 L1058.1 1016.3 L1059.1 1016.5 L1060.1 1016.8 L1061.1 1017.0 L1062.0 1017.3 L1063.0 1017.5 L1064.0 1017.7 L1064.9 1018.0 L1065.9 1018.2 L1066.9 1018.5 L1067.8 1018.7 L1068.8 1018.9 L1069.8 1019.2 L1070.7 1019.4 L1071.7 1019.6 L1072.7 1019.9 L1073.7 1020.1 L1074.6 1020.4 L1075.6 1020.6 L1076.6 1020.8 L1077.5 1021.1 L1078.5 1021.3 L1079.5 1021.5 L1080.5 1021.8 L1081.4 1022.0 L1082.4 1022.2 L1083.4 1022.4 L1084.3 1022.7 L1085.3 1022.9 L1086.3 1023.1 L1087.2 1023.4 L1088.2 1023.6 L1089.2 1023.8 L1090.2 1024.0 L1091.1 1024.3 L1092.1 1024.5 L1093.1 1024.7 L1094.0 1024.9 L1095.0 1025.2 L1096.0 1025.4 L1097.0 1025.6 L1097.9 1025.8 L1098.9 1026.0 L1099.9 1026.3 L1100.9 1026.5 L1101.8 1026.7 L1102.8 1026.9 L1103.8 1027.1 L1104.7 1027.4 L1105.7 1027.6 L1106.7 1027.8 L1107.7 1028.0 L1108.6 1028.2 L1109.6 1028.4 L1110.6 1028.6 L1111.6 1028.9 L1112.5 1029.1 L1113.5 1029.3 L1114.5 1029.5 L1115.5 1029.7 L1116.4 1029.9 L1117.4 1030.1 L1118.4 1030.3 L1119.3 1030.6 L1120.3 1030.8 L1121.3 1031.0 L1122.3 1031.2 L1123.2 1031.4 L1124.2 1031.6 L1125.2 1031.8 L1126.2 1032.0 L1127.1 1032.2 L1128.1 1032.4 L1129.1 1032.6 L1130.1 1032.8 L1131.0 1033.0 L1132.0 1033.2 L1133.0 1033.4 L1134.0 1033.6 L1135.0 1033.8 L1135.9 1034.0 L1136.9 1034.2 L1137.9 1034.4 L1138.9 1034.6 L1139.8 1034.8 L1140.8 1035.0 L1141.8 1035.2 L1142.8 1035.4 L1143.7 1035.6 L1144.7 1035.8 L1145.7 1036.0 L1146.7 1036.2 L1147.6 1036.4 L1148.6 1036.6 L1149.6 1036.7 L1150.6 1036.9 L1151.6 1037.1 L1152.5 1037.3 L1153.5 1037.5 L1154.5 1037.7 L1155.5 1037.9 L1156.4 1038.1 L1157.4 1038.3 L1158.4 1038.4 L1159.4 1038.6 L1160.4 1038.8 L1161.3 1039.0 L1162.3 1039.2 L1163.3 1039.4 L1164.3 1039.6 L1165.3 1039.7 L1166.2 1039.9 L1167.2 1040.1 L1168.2 1040.3 L1169.2 1040.5 L1170.2 1040.6 L1171.1 1040.8 L1172.1 1041.0 L1173.1 1041.2 L1174.1 1041.3 L1175.1 1041.5 L1176.0 1041.7 L1177.0 1041.9 L1178.0 1042.1 L1179.0 1042.2 L1180.0 1042.4 L1180.9 1042.6 L1181.9 1042.7 L1182.9 1042.9 L1183.9 1043.1 L1184.9 1043.3 L1185.9 1043.4 L1186.8 1043.6 L1187.8 1043.8 L1188.8 1043.9 L1189.8 1044.1 L1190.8 1044.3 L1191.8 1044.4 L1192.7 1044.6 L1193.7 1044.8 L1194.7 1044.9 L1195.7 1045.1 L1196.7 1045.3 L1197.7 1045.4 L1198.6 1045.6 L1199.6 1045.8 L1200.6 1045.9 L1201.6 1046.1 L1202.6 1046.2 L1203.6 1046.4 L1204.5 1046.6 L1205.5 1046.7 L1206.5 1046.9 L1207.5 1047.0 L1208.5 1047.2 L1209.5 1047.3 L1210.5 1047.5 L1211.4 1047.7 L1212.4 1047.8 L1213.4 1048.0 L1214.4 1048.1 L1215.4 1048.3 L1216.4 1048.4 L1217.4 1048.6 L1218.3 1048.7 L1219.3 1048.9 L1220.3 1049.0 L1221.3 1049.2 L1222.3 1049.3 L1223.3 1049.5 L1224.3 1049.6 L1225.2 1049.8 L1226.2 1049.9 L1227.2 1050.1 L1228.2 1050.2 L1229.2 1050.4 L1230.2 1050.5 L1231.2 1050.7 L1232.2 1050.8 L1233.1 1051.0 L1234.1 1051.1 L1235.1 1051.2 L1236.1 1051.4 L1237.1 1051.5 L1238.1 1051.7 L1239.1 1051.8 L1240.1 1051.9 L1241.1 1052.1 L1242.0 1052.2 L1243.0 1052.4 L1244.0 1052.5 L1245.0 1052.6 L1246.0 1052.8 L1247.0 1052.9 L1248.0 1053.1 L1249.0 1053.2 L1250.0 1053.3 L1250.9 1053.5 L1251.9 1053.6 L1252.9 1053.7 L1253.9 1053.9 L1254.9 1054.0 L1255.9 1054.1 L1256.9 1054.3 L1257.9 1054.4 L1258.9 1054.5 L1259.9 1054.6 L1260.8 1054.8 L1261.8 1054.9 L1262.8 1055.0 L1263.8 1055.2 L1264.8 1055.3 L1265.8 1055.4 L1266.8 1055.5 L1267.8 1055.7 L1268.8 1055.8 L1269.8 1055.9 L1270.8 1056.1 L1271.8 1056.2 L1272.7 1056.3 L1273.7 1056.4 L1274.7 1056.5 L1275.7 1056.7 L1276.7 1056.8 L1277.7 1056.9 L1278.7 1057.0 L1279.7 1057.2 L1280.7 1057.3 L1281.7 1057.4 L1282.7 1057.5 L1283.7 1057.6 L1284.7 1057.8 L1285.6 1057.9 L1286.6 1058.0 L1287.6 1058.1 L1288.6 1058.2 L1289.6 1058.3 L1290.6 1058.5 L1291.6 1058.6 L1292.6 1058.7 L1293.6 1058.8 L1294.6 1058.9 L1295.6 1059.0 L1296.6 1059.1 L1297.6 1059.3 L1298.6 1059.4 L1299.6 1059.5 L1300.6 1059.6 L1301.5 1059.7 L1302.5 1059.8 L1303.5 1059.9 L1304.5 1060.0 L1305.5 1060.1 L1306.5 1060.3 L1307.5 1060.4 L1308.5 1060.5 L1309.5 1060.6 L1310.5 1060.7 L1311.5 1060.8 L1312.5 1060.9 L1313.5 1061.0 L1314.5 1061.1 L1315.5 1061.2 L1316.5 1061.3 L1317.5 1061.4 L1318.5 1061.5 L1319.5 1061.6 L1320.5 1061.7 L1321.5 1061.8 L1322.4 1061.9 L1323.4 1062.0 L1324.4 1062.1 L1325.4 1062.2 L1326.4 1062.3 L1327.4 1062.4 L1328.4 1062.5 L1329.4 1062.6 L1330.4 1062.7 L1331.4 1062.8 L1332.4 1062.9 L1333.4 1063.0 L1334.4 1063.1 L1335.4 1063.2 L1336.4 1063.3 L1337.4 1063.4 L1338.4 1063.5 L1339.4 1063.6 L1340.4 1063.7 L1341.4 1063.8 L1342.4 1063.9 L1343.4 1064.0 L1344.4 1064.1 L1345.4 1064.2 L1346.4 1064.3 L1347.4 1064.4 L1348.4 1064.5 L1349.4 1064.5 L1350.4 1064.6 L1351.4 1064.7 L1352.4 1064.8 L1353.4 1064.9 L1354.3 1065.0 L1355.3 1065.1 L1356.3 1065.2 L1357.3 1065.3 L1358.3 1065.3 L1359.3 1065.4 L1360.3 1065.5 L1361.3 1065.6 L1362.3 1065.7 L1363.3 1065.8 L1364.3 1065.9 L1365.3 1066.0 L1366.3 1066.0 L1367.3 1066.1 L1368.3 1066.2 L1369.3 1066.3 L1370.3 1066.4 L1371.3 1066.5 L1372.3 1066.5 L1373.3 1066.6 L1374.3 1066.7 L1375.3 1066.8 L1376.3 1066.9 L1377.3 1067.0 L1378.3 1067.0 L1379.3 1067.1 L1380.3 1067.2 L1381.3 1067.3 L1382.3 1067.4 L1383.3 1067.4 L1384.3 1067.5 L1385.3 1067.6 L1386.3 1067.7 L1387.3 1067.7 L1388.3 1067.8 L1389.3 1067.9 L1390.3 1068.0 L1391.3 1068.1 L1392.3 1068.1 L1393.3 1068.2 L1394.3 1068.3 L1395.3 1068.4 L1396.3 1068.4 L1397.3 1068.5 L1398.3 1068.6 L1399.3 1068.7 L1400.3 1068.7 L1401.3 1068.8 L1402.3 1068.9 L1403.3 1068.9 L1404.3 1069.0 L1405.3 1069.1 L1406.3 1069.2 L1407.3 1069.2 L1408.3 1069.3 L1409.3 1069.4 L1410.3 1069.4 L1411.3 1069.5 L1412.3 1069.6 L1413.3 1069.7 L1414.3 1069.7 L1415.3 1069.8 L1416.3 1069.9 L1417.3 1069.9 L1418.3 1070.0 L1419.3 1070.1 L1420.3 1070.1 L1421.3 1070.2 L1422.3 1070.3 L1423.3 1070.3 L1424.3 1070.4 L1425.3 1070.5 L1426.3 1070.5 L1427.3 1070.6 L1428.3 1070.7 L1429.3 1070.7 L1430.3 1070.8 L1431.3 1070.9 L1432.3 1070.9 L1433.3 1071.0 L1434.3 1071.1 L1435.3 1071.1 L1436.3 1071.2 L1437.3 1071.2 L1438.3 1071.3 L1439.3 1071.4 L1440.3 1071.4 L1441.3 1071.5 L1442.3 1071.6 L1443.3 1071.6 L1444.3 1071.7 L1445.3 1071.7 L1446.3 1071.8 L1447.3 1071.9 L1448.3 1071.9 L1449.3 1072.0 L1450.3 1072.0 L1451.3 1072.1 L1452.3 1072.1 L1453.3 1072.2 L1454.3 1072.3 L1455.3 1072.3 L1456.3 1072.4 L1457.3 1072.4 L1458.3 1072.5 L1459.3 1072.6 L1460.3 1072.6 L1461.3 1072.7 L1462.3 1072.7 L1463.3 1072.8 L1464.3 1072.8 L1465.3 1072.9 L1466.3 1072.9 L1467.3 1073.0 L1468.3 1073.1 L1469.3 1073.1 L1470.3 1073.2 L1471.3 1073.2 L1472.3 1073.3 L1473.3 1073.3 L1474.3 1073.4 L1475.3 1073.4 L1476.3 1073.5 L1477.3 1073.5 L1478.3 1073.6 L1479.3 1073.6 L1480.3 1073.7 L1481.3 1073.7 L1482.3 1073.8 L1483.3 1073.8 L1484.3 1073.9 L1485.3 1073.9 L1486.3 1074.0 L1487.3 1074.1 L1488.3 1074.1 L1489.3 1074.2 L1490.3 1074.2 L1491.3 1074.2 L1492.3 1074.3 L1493.3 1074.3 L1494.3 1074.4 L1495.3 1074.4 L1496.3 1074.5 L1497.3 1074.5 L1498.3 1074.6 L1499.3 1074.6 L1500.3 1074.7 L1501.3 1074.7 L1502.3 1074.8 L1503.3 1074.8 L1504.3 1074.9 L1505.3 1074.9 L1506.3 1075.0 L1507.3 1075.0 L1508.3 1075.1 L1509.3 1075.1 L1510.3 1075.2 L1511.3 1075.2 L1512.3 1075.2 L1513.3 1075.3 L1514.3 1075.3 L1515.3 1075.4 L1516.3 1075.4 L1517.3 1075.5 L1518.3 1075.5 L1519.3 1075.6 L1520.3 1075.6 L1521.3 1075.6 L1522.3 1075.7 L1523.3 1075.7 L1524.3 1075.8 L1525.3 1075.8 L1526.3 1075.9 L1527.3 1075.9 L1528.3 1075.9 L1529.3 1076.0 L1530.3 1076.0 L1531.3 1076.1 L1532.3 1076.1 L1533.3 1076.2 L1534.3 1076.2 L1535.3 1076.2 L1536.3 1076.3 L1537.3 1076.3 L1538.3 1076.4 L1539.3 1076.4 L1540.3 1076.4 L1541.3 1076.5 L1542.3 1076.5 L1543.3 1076.6 L1544.3 1076.6 L1545.3 1076.6 L1546.3 1076.7 L1547.3 1076.7 L1548.3 1076.8 L1549.3 1076.8 L1550.3 1076.8 L1551.3 1076.9 L1552.3 1076.9 L1553.3 1077.0 L1554.3 1077.0 L1555.3 1077.0 L1556.3 1077.1 L1557.3 1077.1 L1558.3 1077.2 L1559.3 1077.2 L1560.3 1077.2 L1561.3 1077.3 L1562.3 1077.3 L1563.3 1077.3 L1564.2 1077.4 L1565.2 1077.4 L1566.2 1077.5 L1567.2 1077.5 L1568.2 1077.5 L1569.2 1077.6 L1570.2 1077.6 L1571.2 1077.6 L1572.2 1077.7 L1573.2 1077.7 L1574.2 1077.7 L1575.2 1077.8 L1576.2 1077.8 L1577.2 1077.9 L1578.2 1077.9 L1579.2 1077.9 L1580.2 1078.0 L1581.2 1078.0 L1582.2 1078.0 L1583.2 1078.1 L1584.2 1078.1 L1585.2 1078.1 L1586.2 1078.2 L1587.2 1078.2 L1588.2 1078.2 L1589.2 1078.3 L1590.2 1078.3 L1591.2 1078.3 L1592.2 1078.4 L1593.2 1078.4 L1594.2 1078.5 L1595.2 1078.5 L1596.1 1078.5 L1597.1 1078.6 L1598.1 1078.6 L1599.1 1078.6 L1600.1 1078.7 L1601.1 1078.7 L1602.1 1078.7 L1603.1 1078.8 L1604.1 1078.8 L1605.1 1078.8 L1606.1 1078.9 L1607.1 1078.9 L1608.1 1078.9 L1609.1 1079.0 L1610.1 1079.0 L1611.1 1079.0 L1612.1 1079.1 L1613.1 1079.1 L1614.1 1079.1 L1615.1 1079.2 L1616.0 1079.2 L1617.0 1079.2 L1618.0 1079.3 L1619.0 1079.3 L1620.0 1079.3 L1621.0 1079.3 L1622.0 1079.4 L1623.0 1079.4 L1624.0 1079.4 L1625.0 1079.5 L1626.0 1079.5 L1627.0 1079.5 L1628.0 1079.6 L1629.0 1079.6 L1630.0 1079.6 L1631.0 1079.7 L1631.9 1079.7 L1632.9 1079.7 L1633.9 1079.8 L1634.9 1079.8 L1635.9 1079.8 L1636.6 1079.9"/><path d="M171.1 1187.7 L171.0 1186.5 L171.1 1185.4 L171.3 1184.3 L171.5 1183.2 L171.8 1182.2 L172.1 1181.2 L172.5 1180.2 L173.0 1179.3 L173.5 1178.5 L174.1 1177.6 L174.7 1176.9 L175.4 1176.2 L176.1 1175.5 L176.9 1175.0 L177.7 1174.4 L178.5 1174.0 L179.4 1173.6 L180.2 1173.3 L181.1 1173.1 L182.0 1173.0 L182.9 1172.9 L183.9 1172.9 L184.8 1172.9 L185.8 1173.0 L186.8 1173.2 L187.7 1173.4 L188.7 1173.6 L189.7 1173.9 L190.7 1174.1 L191.7 1174.4 L192.7 1174.7 L193.7 1175.0 L194.7 1175.2 L195.6 1175.5 L196.6 1175.8 L197.6 1176.0 L198.6 1176.3 L199.6 1176.6 L200.6 1176.8 L201.6 1177.1 L202.6 1177.3 L203.5 1177.5 L204.5 1177.8 L205.5 1178.0 L206.5 1178.2 L207.5 1178.5 L208.5 1178.7 L209.4 1178.9 L210.4 1179.1 L211.4 1179.3 L212.4 1179.5 L213.4 1179.7 L214.3 1179.9 L215.3 1180.1 L216.3 1180.3 L217.3 1180.4 L218.3 1180.6 L219.3 1180.8 L220.2 1180.9 L221.2 1181.1 L222.2 1181.2 L223.2 1181.4 L224.2 1181.5 L225.1 1181.6 L226.1 1181.8 L227.1 1181.9 L228.1 1182.0 L229.1 1182.1 L230.1 1182.2 L231.0 1182.3 L232.0 1182.4 L233.0 1182.5 L234.0 1182.6 L235.0 1182.6 L236.0 1182.7 L237.0 1182.8 L238.0 1182.8 L238.9 1182.9 L239.9 1182.9 L240.9 1183.0 L241.9 1183.0 L242.9 1183.0 L243.9 1183.0 L244.9 1183.1 L245.9 1183.1 L246.9 1183.1 L247.9 1183.1 L248.9 1183.1 L249.9 1183.1 L250.9 1183.0 L251.9 1183.0 L252.8 1183.0 L253.8 1183.0 L254.8 1182.9 L255.8 1182.9 L256.8 1182.9 L257.8 1182.8 L258.8 1182.8 L259.8 1182.7 L260.8 1182.7 L261.8 1182.6 L262.8 1182.5 L263.8 1182.5 L264.8 1182.4 L265.8 1182.3 L266.8 1182.2 L267.8 1182.1 L268.8 1182.1 L269.8 1182.0 L270.8 1181.9 L271.8 1181.8 L272.8 1181.7 L273.8 1181.6 L274.8 1181.5 L275.8 1181.3 L276.8 1181.2 L277.8 1181.1 L278.8 1181.0 L279.8 1180.9 L280.8 1180.8 L281.8 1180.6 L282.8 1180.5 L283.8 1180.4 L284.8 1180.2 L285.8 1180.1 L286.8 1180.0 L287.8 1179.8 L288.8 1179.7 L289.8 1179.5 L290.8 1179.4 L291.8 1179.3 L292.8 1179.1 L293.8 1179.0 L294.8 1178.8 L295.8 1178.7 L296.8 1178.5 L297.8 1178.3 L298.8 1178.2 L299.8 1178.0 L300.8 1177.9 L301.8 1177.7 L302.8 1177.6 L303.7 1177.4 L304.7 1177.2 L305.7 1177.1 L306.7 1176.9 L307.7 1176.7 L308.7 1176.6 L309.7 1176.4 L310.7 1176.3 L311.7 1176.1 L312.7 1175.9 L313.7 1175.8 L314.7 1175.6 L315.6 1175.4 L316.6 1175.3 L317.6 1175.1 L318.6 1174.9 L319.6 1174.8 L320.6 1174.6 L321.6 1174.5 L322.5 1174.3 L323.5 1174.1 L324.5 1174.0 L325.5 1173.8 L326.5 1173.7 L327.5 1173.5 L328.4 1173.3 L329.4 1173.2 L330.4 1173.0 L331.4 1172.9 L332.4 1172.7 L333.3 1172.5 L334.3 1172.4 L335.3 1172.2 L336.3 1172.1 L337.2 1171.9 L338.2 1171.7 L339.2 1171.6 L340.2 1171.4 L341.1 1171.2 L342.1 1171.1 L343.1 1170.9 L344.1 1170.7 L345.0 1170.6 L346.0 1170.4 L347.0 1170.2 L348.0 1170.1 L348.9 1169.9 L349.9 1169.7 L350.9 1169.5 L351.9 1169.3 L352.8 1169.2 L353.8 1169.0 L354.8 1168.8 L355.8 1168.6 L356.7 1168.4 L357.7 1168.2 L358.7 1168.0 L359.6 1167.9 L360.6 1167.7 L361.6 1167.5 L362.6 1167.3 L363.5 1167.1 L364.5 1166.9 L365.5 1166.6 L366.4 1166.4 L367.4 1166.2 L368.4 1166.0 L369.4 1165.8 L370.3 1165.6 L371.3 1165.4 L372.3 1165.1 L373.3 1164.9 L374.2 1164.7 L375.2 1164.5 L376.2 1164.2 L377.1 1164.0 L378.1 1163.8 L379.1 1163.5 L380.0 1163.3 L381.0 1163.0 L382.0 1162.8 L383.0 1162.5 L383.9 1162.3 L384.9 1162.0 L385.9 1161.8 L386.8 1161.5 L387.8 1161.3 L388.8 1161.0 L389.7 1160.8 L390.7 1160.5 L391.7 1160.2 L392.6 1160.0 L393.6 1159.7 L394.6 1159.4 L395.5 1159.1 L396.5 1158.9 L397.5 1158.6 L398.4 1158.3 L399.4 1158.0 L400.3 1157.7 L401.3 1157.5 L402.3 1157.2 L403.2 1156.9 L404.2 1156.6 L405.2 1156.3 L406.1 1156.0 L407.1 1155.7 L408.0 1155.4 L409.0 1155.1 L409.9 1154.8 L410.9 1154.5 L411.9 1154.2 L412.8 1153.8 L413.8 1153.5 L414.7 1153.2 L415.7 1152.9 L416.6 1152.6 L417.6 1152.2 L418.5 1151.9 L419.5 1151.6 L420.4 1151.3 L421.4 1150.9 L422.3 1150.6 L423.3 1150.3 L424.2 1149.9 L425.2 1149.6 L426.1 1149.2 L427.1 1148.9 L428.0 1148.6 L429.0 1148.2 L429.9 1147.9 L430.8 1147.5 L431.8 1147.1 L432.7 1146.8 L433.7 1146.4 L434.6 1146.1 L435.5 1145.7 L436.5 1145.3 L437.4 1145.0 L438.3 1144.6 L439.3 1144.2 L440.2 1143.9 L441.1 1143.5 L442.1 1143.1 L443.0 1142.7 L443.9 1142.4 L444.9 1142.0 L445.8 1141.6 L446.7 1141.2 L447.6 1140.8 L448.6 1140.4 L449.5 1140.0 L450.4 1139.6 L451.3 1139.2 L452.3 1138.8 L453.2 1138.4 L454.1 1138.0 L455.0 1137.6 L455.9 1137.2 L456.8 1136.8 L457.8 1136.4 L458.7 1136.0 L459.6 1135.6 L460.5 1135.1 L461.4 1134.7 L462.3 1134.3 L463.2 1133.9 L464.1 1133.5 L465.1 1133.0 L466.0 1132.6 L466.9 1132.2 L467.8 1131.7 L468.7 1131.3 L469.6 1130.9 L470.5 1130.4 L471.4 1130.0 L472.3 1129.6 L473.2 1129.1 L474.1 1128.7 L475.0 1128.2 L475.9 1127.8 L476.8 1127.3 L477.7 1126.9 L478.6 1126.4 L479.5 1125.9 L480.3 1125.5 L481.2 1125.0 L482.1 1124.6 L483.0 1124.1 L483.9 1123.6 L484.8 1123.2 L485.7 1122.7 L486.6 1122.2 L487.4 1121.7 L488.3 1121.3 L489.2 1120.8 L490.1 1120.3 L491.0 1119.8 L491.8 1119.3 L492.7 1118.9 L493.6 1118.4 L494.5 1117.9 L495.3 1117.4 L496.2 1116.9 L497.1 1116.4 L498.0 1115.9 L498.8 1115.4 L499.7 1114.9 L500.6 1114.4 L501.4 1113.9 L502.3 1113.4 L503.1 1112.9 L504.0 1112.4 L504.9 1111.9 L505.7 1111.4 L506.6 1110.8 L507.4 1110.3 L508.3 1109.8 L509.2 1109.3 L510.0 1108.8 L510.9 1108.2 L511.7 1107.7 L512.6 1107.2 L513.4 1106.7 L514.3 1106.1 L515.1 1105.6 L516.0 1105.1 L516.8 1104.5 L517.7 1104.0 L518.5 1103.5 L519.3 1102.9 L520.2 1102.4 L521.0 1101.8 L521.9 1101.3 L522.7 1100.7 L523.5 1100.2 L524.4 1099.6 L525.2 1099.1 L526.0 1098.5 L526.9 1098.0 L527.7 1097.4 L528.5 1096.9 L529.3 1096.3 L530.2 1095.7 L531.0 1095.2 L531.8 1094.6 L532.6 1094.0 L533.5 1093.5 L534.3 1092.9 L535.1 1092.3 L535.9 1091.8 L536.7 1091.2 L537.5 1090.6 L538.4 1090.0 L539.2 1089.4 L540.0 1088.9 L540.8 1088.3 L541.6 1087.7 L542.4 1087.1 L543.2 1086.5 L544.0 1085.9 L544.8 1085.3 L545.6 1084.7 L546.4 1084.1 L547.2 1083.5 L548.0 1082.9 L548.8 1082.3 L549.6 1081.7 L550.4 1081.1 L551.2 1080.5 L552.0 1079.9 L552.8 1079.3 L553.6 1078.7 L554.4 1078.1 L555.2 1077.5 L555.9 1076.9 L556.7 1076.2 L557.5 1075.6 L558.3 1075.0 L559.1 1074.4 L559.8 1073.8 L560.6 1073.1 L561.4 1072.5 L562.2 1071.9 L562.9 1071.3 L563.7 1070.6 L564.5 1070.0 L565.3 1069.4 L566.0 1068.7 L566.8 1068.1 L567.5 1067.5 L568.3 1066.8 L569.1 1066.2 L569.8 1065.5 L570.6 1064.9 L571.4 1064.2 L572.1 1063.6 L572.9 1062.9 L573.6 1062.3 L574.4 1061.6 L575.1 1061.0 L575.9 1060.3 L576.6 1059.7 L577.4 1059.0 L578.1 1058.4 L578.9 1057.7 L579.6 1057.0 L580.3 1056.4 L581.1 1055.7 L581.8 1055.1 L582.5 1054.4 L583.3 1053.7 L584.0 1053.0 L584.8 1052.4 L585.5 1051.7 L586.2 1051.0 L586.9 1050.4 L587.7 1049.7 L588.4 1049.0 L589.1 1048.3 L589.8 1047.6 L590.6 1047.0 L591.3 1046.3 L592.0 1045.6 L592.7 1044.9 L593.4 1044.2 L594.2 1043.5 L594.9 1042.8 L595.6 1042.1 L596.3 1041.4 L597.0 1040.8 L597.7 1040.1 L598.4 1039.4 L599.1 1038.7 L599.8 1038.0 L600.5 1037.3 L601.3 1036.6 L602.0 1035.9 L602.7 1035.2 L603.4 1034.5 L604.1 1033.8 L604.8 1033.0 L605.5 1032.3 L606.2 1031.6 L606.8 1030.9 L607.5 1030.2 L608.2 1029.5 L608.9 1028.8 L609.6 1028.1 L610.3 1027.4 L611.0 1026.6 L611.7 1025.9 L612.4 1025.2 L613.1 1024.5 L613.8 1023.8 L614.4 1023.0 L615.1 1022.3 L615.8 1021.6 L616.5 1020.9 L617.2 1020.2 L617.8 1019.4 L618.5 1018.7 L619.2 1018.0 L619.9 1017.2 L620.6 1016.5 L621.2 1015.8 L621.9 1015.0 L622.6 1014.3 L623.3 1013.6 L623.9 1012.8 L624.6 1012.1 L625.3 1011.4 L625.9 1010.6 L626.6 1009.9 L627.3 1009.2 L628.0 1008.4 L628.6 1007.7 L629.3 1006.9 L630.0 1006.2 L630.6 1005.5 L631.3 1004.7 L631.9 1004.0 L632.6 1003.2 L633.3 1002.5 L633.9 1001.7 L634.6 1001.0 L635.3 1000.2 L635.9 999.5 L636.6 998.8 L637.2 998.0 L637.9 997.3 L638.6 996.5 L639.2 995.8 L639.9 995.0 L640.5 994.2 L641.2 993.5 L641.8 992.7 L642.5 992.0 L643.1 991.2 L643.8 990.5 L644.4 989.7 L645.1 989.0 L645.7 988.2 L646.4 987.5 L647.0 986.7 L647.7 985.9 L648.3 985.2 L649.0 984.4 L649.6 983.7 L650.3 982.9 L650.9 982.1 L651.6 981.4 L652.2 980.6 L652.9 979.8 L653.5 979.1 L654.2 978.3 L654.8 977.6 L655.5 976.8 L656.1 976.0 L656.8 975.3 L657.4 974.5 L658.1 973.7 L658.7 973.0 L659.3 972.2 L660.0 971.4 L660.6 970.7 L661.3 969.9 L661.9 969.1 L662.6 968.4 L663.2 967.6 L663.8 966.8 L664.5 966.1 L665.1 965.3 L665.8 964.5 L666.4 963.8 L667.0 963.0 L667.7 962.2 L668.3 961.4 L669.0 960.7 L669.6 959.9 L670.2 959.1 L670.9 958.4 L671.5 957.6 L672.2 956.8 L672.8 956.0 L673.4 955.3 L674.1 954.5 L674.7 953.7 L675.4 953.0 L676.0 952.2 L676.6 951.4 L677.3 950.6 L677.9 949.9 L678.6 949.1 L679.2 948.3 L679.8 947.6 L680.5 946.8 L681.1 946.0 L681.8 945.2 L682.4 944.5 L683.0 943.7 L683.7 942.9 L684.3 942.1 L685.0 941.4 L685.6 940.6 L686.2 939.8 L686.9 939.1 L687.5 938.3 L688.2 937.5 L688.8 936.7 L689.4 936.0 L690.1 935.2 L690.7 934.4 L691.4 933.7 L692.0 932.9 L692.7 932.1 L693.3 931.3 L693.9 930.6 L694.6 929.8 L695.2 929.0 L695.9 928.3 L696.5 927.5 L697.2 926.7 L697.8 925.9 L698.4 925.2 L699.1 924.4 L699.7 923.6 L700.4 922.9 L701.0 922.1 L701.7 921.3 L702.3 920.6 L703.0 919.8 L703.6 919.0 L704.3 918.3 L704.9 917.5 L705.6 916.7 L706.2 916.0 L706.9 915.2 L707.5 914.4 L708.2 913.7 L708.8 912.9 L709.5 912.1 L710.1 911.4 L710.8 910.6 L711.4 909.8 L712.1 909.1 L712.7 908.3 L713.4 907.6 L714.0 906.8 L714.7 906.0 L715.3 905.3 L716.0 904.5 L716.7 903.8 L717.3 903.0 L718.0 902.2 L718.6 901.5 L719.3 900.7 L719.9 900.0 L720.6 899.2 L721.3 898.5 L721.9 897.7 L722.6 896.9 L723.3 896.2 L723.9 895.4 L724.6 894.7 L725.2 893.9 L725.9 893.2 L726.6 892.4 L727.2 891.7 L727.9 890.9 L728.6 890.2 L729.3 889.4 L729.9 888.7 L730.6 887.9 L731.3 887.2 L731.9 886.5 L732.6 885.7 L733.3 885.0 L734.0 884.2 L734.6 883.5 L735.3 882.7 L736.0 882.0 L736.7 881.3 L737.3 880.5 L738.0 879.8 L738.7 879.0 L739.4 878.3 L740.1 877.6 L740.8 876.8 L741.4 876.1 L742.1 875.4 L742.8 874.6 L743.5 873.9 L744.2 873.2 L744.9 872.4 L745.6 871.7 L746.3 871.0 L747.0 870.3 L747.6 869.5 L748.3 868.8 L749.0 868.1 L749.7 867.4 L750.4 866.6 L751.1 865.9 L751.8 865.2 L752.5 864.5 L753.2 863.8 L753.9 863.0 L754.6 862.3 L755.3 861.6 L756.1 860.9 L756.8 860.2 L757.5 859.5 L758.2 858.8 L758.9 858.1 L759.6 857.4 L760.3 856.7 L761.0 856.0 L761.8 855.3 L762.5 854.6 L763.2 853.9 L763.9 853.2 L764.6 852.5 L765.4 851.8 L766.1 851.1 L766.8 850.4 L767.5 849.8 L768.3 849.1 L769.0 848.4 L769.7 847.7 L770.5 847.0 L771.2 846.4 L771.9 845.7 L772.7 845.0 L773.4 844.4 L774.2 843.7 L774.9 843.0 L775.7 842.4 L776.4 841.7 L777.1 841.1 L777.9 840.4 L778.6 839.7 L779.4 839.1 L780.2 838.4 L780.9 837.8 L781.7 837.2 L782.4 836.5 L783.2 835.9 L784.0 835.2 L784.7 834.6 L785.5 834.0 L786.2 833.3 L787.0 832.7 L787.8 832.1 L788.6 831.5 L789.3 830.9 L790.1 830.2 L790.9 829.6 L791.7 829.0 L792.5 828.4 L793.2 827.8 L794.0 827.2 L794.8 826.6 L795.6 826.0 L796.4 825.4 L797.2 824.8 L798.0 824.2 L798.8 823.7 L799.6 823.1 L800.4 822.5 L801.2 821.9 L802.0 821.4 L802.8 820.8 L803.6 820.2 L804.4 819.7 L805.2 819.1 L806.1 818.5 L806.9 818.0 L807.7 817.4 L808.5 816.9 L809.3 816.4 L810.2 815.8 L811.0 815.3 L811.8 814.7 L812.7 814.2 L813.5 813.7 L814.3 813.2 L815.2 812.7 L816.0 812.1 L816.9 811.6 L817.7 811.1 L818.6 810.6 L819.4 810.1 L820.3 809.6 L821.1 809.1 L822.0 808.6 L822.8 808.2 L823.7 807.7 L824.6 807.2 L825.4 806.7 L826.3 806.2 L827.2 805.8 L828.0 805.3 L828.9 804.9 L829.8 804.4 L830.7 804.0 L831.6 803.5 L832.5 803.1 L833.3 802.6 L834.2 802.2 L835.1 801.8 L836.0 801.3 L836.9 800.9 L837.8 800.5 L838.7 800.1 L839.6 799.7 L840.6 799.3 L841.5 798.9 L842.4 798.5 L843.3 798.1 L844.2 797.7 L845.1 797.3 L846.1 797.0 L847.0 796.6 L847.9 796.2 L848.9 795.8 L849.8 795.5 L850.7 795.1 L851.7 794.8 L852.6 794.4 L853.6 794.1 L854.5 793.8 L855.5 793.4 L856.4 793.1 L857.4 792.8 L858.3 792.5 L859.3 792.2 L860.3 791.9 L861.2 791.6 L862.2 791.3 L863.2 791.0 L864.1 790.7 L865.1 790.4 L866.1 790.2 L867.0 789.9 L868.0 789.6 L869.0 789.4 L870.0 789.1 L870.9 788.9 L871.9 788.7 L872.9 788.4 L873.9 788.2 L874.9 788.0 L875.9 787.8 L876.9 787.6 L877.8 787.4 L878.8 787.2 L879.8 787.0 L880.8 786.8 L881.8 786.7 L882.8 786.5 L883.8 786.3 L884.8 786.2 L885.8 786.1 L886.8 785.9 L887.8 785.8 L888.8 785.7 L889.8 785.6 L890.8 785.4 L891.8 785.3 L892.8 785.3 L893.8 785.2 L894.8 785.1 L895.7 785.0 L896.7 785.0 L897.7 784.9 L898.7 784.8 L899.7 784.8 L900.7 784.8 L901.7 784.8 L902.7 784.7 L903.7 784.7 L904.7 784.7 L905.7 784.7 L906.7 784.7 L907.7 784.8 L908.7 784.8 L909.7 784.8 L910.7 784.9 L911.7 784.9 L912.7 785.0 L913.7 785.1 L914.7 785.2 L915.6 785.3 L916.6 785.4 L917.6 785.5 L918.6 785.6 L919.6 785.7 L920.6 785.8 L921.6 786.0 L922.5 786.1 L923.5 786.3 L924.5 786.4 L925.5 786.6 L926.5 786.8 L927.4 787.0 L928.4 787.2 L929.4 787.4 L930.4 787.6 L931.3 787.8 L932.3 788.0 L933.3 788.2 L934.2 788.5 L935.2 788.7 L936.2 788.9 L937.1 789.2 L938.1 789.4 L939.1 789.7 L940.0 790.0 L941.0 790.3 L942.0 790.5 L942.9 790.8 L943.9 791.1 L944.8 791.4 L945.8 791.7 L946.8 792.0 L947.7 792.3 L948.7 792.7 L949.6 793.0 L950.6 793.3 L951.5 793.6 L952.5 794.0 L953.4 794.3 L954.4 794.7 L955.3 795.0 L956.2 795.4 L957.2 795.7 L958.1 796.1 L959.1 796.5 L960.0 796.8 L960.9 797.2 L961.9 797.6 L962.8 798.0 L963.8 798.4 L964.7 798.7 L965.6 799.1 L966.5 799.5 L967.5 799.9 L968.4 800.3 L969.3 800.7 L970.3 801.1 L971.2 801.6 L972.1 802.0 L973.0 802.4 L973.9 802.8 L974.9 803.2 L975.8 803.6 L976.7 804.1 L977.6 804.5 L978.5 804.9 L979.4 805.3 L980.3 805.8 L981.3 806.2 L982.2 806.6 L983.1 807.1 L984.0 807.5 L984.9 808.0 L985.8 808.4 L986.7 808.8 L987.6 809.3 L988.5 809.7 L989.4 810.2 L990.3 810.6 L991.2 811.1 L992.1 811.5 L992.9 812.0 L993.8 812.4 L994.7 812.9 L995.6 813.3 L996.5 813.8 L997.4 814.3 L998.3 814.7 L999.2 815.2 L1000.1 815.6 L1000.9 816.1 L1001.8 816.6 L1002.7 817.0 L1003.6 817.5 L1004.5 818.0 L1005.3 818.4 L1006.2 818.9 L1007.1 819.4 L1008.0 819.8 L1008.9 820.3 L1009.7 820.8 L1010.6 821.3 L1011.5 821.7 L1012.4 822.2 L1013.2 822.7 L1014.1 823.2 L1015.0 823.6 L1015.9 824.1 L1016.7 824.6 L1017.6 825.1 L1018.5 825.6 L1019.3 826.0 L1020.2 826.5 L1021.1 827.0 L1022.0 827.5 L1022.8 828.0 L1023.7 828.4 L1024.6 828.9 L1025.4 829.4 L1026.3 829.9 L1027.2 830.4 L1028.0 830.9 L1028.9 831.3 L1029.8 831.8 L1030.6 832.3 L1031.5 832.8 L1032.4 833.3 L1033.2 833.8 L1034.1 834.3 L1035.0 834.7 L1035.8 835.2 L1036.7 835.7 L1037.6 836.2 L1038.4 836.7 L1039.3 837.2 L1040.2 837.7 L1041.0 838.2 L1041.9 838.6 L1042.8 839.1 L1043.7 839.6 L1044.5 840.1 L1045.4 840.6 L1046.3 841.1 L1047.1 841.6 L1048.0 842.0 L1048.9 842.5 L1049.7 843.0 L1050.6 843.5 L1051.5 844.0 L1052.4 844.5 L1053.2 844.9 L1054.1 845.4 L1055.0 845.9 L1055.8 846.4 L1056.7 846.9 L1057.6 847.4 L1058.5 847.8 L1059.3 848.3 L1060.2 848.8 L1061.1 849.3 L1062.0 849.8 L1062.8 850.3 L1063.7 850.7 L1064.6 851.2 L1065.5 851.7 L1066.3 852.2 L1067.2 852.7 L1068.1 853.1 L1069.0 853.6 L1069.9 854.1 L1070.7 854.6 L1071.6 855.0 L1072.5 855.5 L1073.4 856.0 L1074.3 856.5 L1075.1 856.9 L1076.0 857.4 L1076.9 857.9 L1077.8 858.4 L1078.7 858.8 L1079.5 859.3 L1080.4 859.8 L1081.3 860.3 L1082.2 860.7 L1083.1 861.2 L1084.0 861.7 L1084.8 862.1 L1085.7 862.6 L1086.6 863.1 L1087.5 863.6 L1088.4 864.0 L1089.3 864.5 L1090.1 865.0 L1091.0 865.4 L1091.9 865.9 L1092.8 866.4 L1093.7 866.8 L1094.6 867.3 L1095.5 867.8 L1096.4 868.2 L1097.2 868.7 L1098.1 869.1 L1099.0 869.6 L1099.9 870.1 L1100.8 870.5 L1101.7 871.0 L1102.6 871.5 L1103.5 871.9 L1104.4 872.4 L1105.3 872.8 L1106.1 873.3 L1107.0 873.7 L1107.9 874.2 L1108.8 874.7 L1109.7 875.1 L1110.6 875.6 L1111.5 876.0 L1112.4 876.5 L1113.3 876.9 L1114.2 877.4 L1115.1 877.8 L1116.0 878.3 L1116.9 878.7 L1117.8 879.2 L1118.7 879.6 L1119.6 880.1 L1120.5 880.5 L1121.4 881.0 L1122.3 881.4 L1123.2 881.9 L1124.1 882.3 L1125.0 882.8 L1125.9 883.2 L1126.8 883.6 L1127.7 884.1 L1128.6 884.5 L1129.5 885.0 L1130.4 885.4 L1131.3 885.8 L1132.2 886.3 L1133.1 886.7 L1134.0 887.1 L1134.9 887.6 L1135.8 888.0 L1136.7 888.5 L1137.6 888.9 L1138.5 889.3 L1139.4 889.7 L1140.3 890.2 L1141.2 890.6 L1142.1 891.0 L1143.0 891.5 L1143.9 891.9 L1144.8 892.3 L1145.7 892.7 L1146.6 893.2 L1147.5 893.6 L1148.5 894.0 L1149.4 894.4 L1150.3 894.9 L1151.2 895.3 L1152.1 895.7 L1153.0 896.1 L1153.9 896.5 L1154.8 896.9 L1155.7 897.4 L1156.7 897.8 L1157.6 898.2 L1158.5 898.6 L1159.4 899.0 L1160.3 899.4 L1161.2 899.8 L1162.1 900.2 L1163.0 900.7 L1164.0 901.1 L1164.9 901.5 L1165.8 901.9 L1166.7 902.3 L1167.6 902.7 L1168.5 903.1 L1169.5 903.5 L1170.4 903.9 L1171.3 904.3 L1172.2 904.7 L1173.1 905.1 L1174.1 905.5 L1175.0 905.9 L1175.9 906.3 L1176.8 906.6 L1177.7 907.0 L1178.7 907.4 L1179.6 907.8 L1180.5 908.2 L1181.4 908.6 L1182.3 909.0 L1183.3 909.4 L1184.2 909.7 L1185.1 910.1 L1186.0 910.5 L1187.0 910.9 L1187.9 911.3 L1188.8 911.7 L1189.7 912.0 L1190.7 912.4 L1191.6 912.8 L1192.5 913.2 L1193.4 913.5 L1194.4 913.9 L1195.3 914.3 L1196.2 914.6 L1197.2 915.0 L1198.1 915.4 L1199.0 915.7 L1200.0 916.1 L1200.9 916.5 L1201.8 916.8 L1202.7 917.2 L1203.7 917.5 L1204.6 917.9 L1205.5 918.3 L1206.5 918.6 L1207.4 919.0 L1208.3 919.3 L1209.3 919.7 L1210.2 920.0 L1211.1 920.4 L1212.1 920.7 L1213.0 921.1 L1214.0 921.4 L1214.9 921.8 L1215.8 922.1 L1216.8 922.5 L1217.7 922.8 L1218.6 923.2 L1219.6 923.5 L1220.5 923.8 L1221.5 924.2 L1222.4 924.5 L1223.3 924.8 L1224.3 925.2 L1225.2 925.5 L1226.2 925.9 L1227.1 926.2 L1228.0 926.5 L1229.0 926.8 L1229.9 927.2 L1230.9 927.5 L1231.8 927.8 L1232.7 928.2 L1233.7 928.5 L1234.6 928.8 L1235.6 929.1 L1236.5 929.5 L1237.5 929.8 L1238.4 930.1 L1239.4 930.4 L1240.3 930.7 L1241.2 931.0 L1242.2 931.4 L1243.1 931.7 L1244.1 932.0 L1245.0 932.3 L1246.0 932.6 L1246.9 932.9 L1247.9 933.2 L1248.8 933.5 L1249.8 933.9 L1250.7 934.2 L1251.7 934.5 L1252.6 934.8 L1253.6 935.1 L1254.5 935.4 L1255.5 935.7 L1256.4 936.0 L1257.4 936.3 L1258.3 936.6 L1259.3 936.9 L1260.2 937.2 L1261.2 937.5 L1262.1 937.8 L1263.1 938.1 L1264.0 938.4 L1265.0 938.6 L1266.0 938.9 L1266.9 939.2 L1267.9 939.5 L1268.8 939.8 L1269.8 940.1 L1270.7 940.4 L1271.7 940.7 L1272.6 940.9 L1273.6 941.2 L1274.6 941.5 L1275.5 941.8 L1276.5 942.1 L1277.4 942.3 L1278.4 942.6 L1279.4 942.9 L1280.3 943.2 L1281.3 943.5 L1282.2 943.7 L1283.2 944.0 L1284.1 944.3 L1285.1 944.5 L1286.1 944.8 L1287.0 945.1 L1288.0 945.4 L1289.0 945.6 L1289.9 945.9 L1290.9 946.2 L1291.8 946.4 L1292.8 946.7 L1293.8 947.0 L1294.7 947.2 L1295.7 947.5 L1296.7 947.7 L1297.6 948.0 L1298.6 948.3 L1299.5 948.5 L1300.5 948.8 L1301.5 949.0 L1302.4 949.3 L1303.4 949.5 L1304.4 949.8 L1305.3 950.0 L1306.3 950.3 L1307.3 950.5 L1308.2 950.8 L1309.2 951.0 L1310.2 951.3 L1311.1 951.5 L1312.1 951.8 L1313.1 952.0 L1314.0 952.3 L1315.0 952.5 L1316.0 952.8 L1316.9 953.0 L1317.9 953.2 L1318.9 953.5 L1319.9 953.7 L1320.8 954.0 L1321.8 954.2 L1322.8 954.4 L1323.7 954.7 L1324.7 954.9 L1325.7 955.1 L1326.7 955.4 L1327.6 955.6 L1328.6 955.8 L1329.6 956.1 L1330.5 956.3 L1331.5 956.5 L1332.5 956.8 L1333.5 957.0 L1334.4 957.2 L1335.4 957.4 L1336.4 957.7 L1337.4 957.9 L1338.3 958.1 L1339.3 958.3 L1340.3 958.6 L1341.2 958.8 L1342.2 959.0 L1343.2 959.2 L1344.2 959.4 L1345.2 959.7 L1346.1 959.9 L1347.1 960.1 L1348.1 960.3 L1349.1 960.5 L1350.0 960.7 L1351.0 961.0 L1352.0 961.2 L1353.0 961.4 L1353.9 961.6 L1354.9 961.8 L1355.9 962.0 L1356.9 962.2 L1357.9 962.4 L1358.8 962.6 L1359.8 962.8 L1360.8 963.0 L1361.8 963.2 L1362.7 963.5 L1363.7 963.7 L1364.7 963.9 L1365.7 964.1 L1366.7 964.3 L1367.6 964.5 L1368.6 964.7 L1369.6 964.9 L1370.6 965.1 L1371.6 965.3 L1372.5 965.4 L1373.5 965.6 L1374.5 965.8 L1375.5 966.0 L1376.5 966.2 L1377.5 966.4 L1378.4 966.6 L1379.4 966.8 L1380.4 967.0 L1381.4 967.2 L1382.4 967.4 L1383.4 967.6 L1384.3 967.7 L1385.3 967.9 L1386.3 968.1 L1387.3 968.3 L1388.3 968.5 L1389.3 968.7 L1390.2 968.9 L1391.2 969.0 L1392.2 969.2 L1393.2 969.4 L1394.2 969.6 L1395.2 969.8 L1396.1 969.9 L1397.1 970.1 L1398.1 970.3 L1399.1 970.5 L1400.1 970.7 L1401.1 970.8 L1402.1 971.0 L1403.0 971.2 L1404.0 971.4 L1405.0 971.5 L1406.0 971.7 L1407.0 971.9 L1408.0 972.0 L1409.0 972.2 L1410.0 972.4 L1410.9 972.6 L1411.9 972.7 L1412.9 972.9 L1413.9 973.1 L1414.9 973.2 L1415.9 973.4 L1416.9 973.6 L1417.9 973.7 L1418.8 973.9 L1419.8 974.0 L1420.8 974.2 L1421.8 974.4 L1422.8 974.5 L1423.8 974.7 L1424.8 974.9 L1425.8 975.0 L1426.8 975.2 L1427.7 975.3 L1428.7 975.5 L1429.7 975.6 L1430.7 975.8 L1431.7 976.0 L1432.7 976.1 L1433.7 976.3 L1434.7 976.4 L1435.7 976.6 L1436.7 976.7 L1437.6 976.9 L1438.6 977.0 L1439.6 977.2 L1440.6 977.3 L1441.6 977.5 L1442.6 977.6 L1443.6 977.8 L1444.6 977.9 L1445.6 978.1 L1446.6 978.2 L1447.6 978.4 L1448.6 978.5 L1449.5 978.7 L1450.5 978.8 L1451.5 979.0 L1452.5 979.1 L1453.5 979.2 L1454.5 979.4 L1455.5 979.5 L1456.5 979.7 L1457.5 979.8 L1458.5 979.9 L1459.5 980.1 L1460.5 980.2 L1461.5 980.4 L1462.4 980.5 L1463.4 980.6 L1464.4 980.8 L1465.4 980.9 L1466.4 981.0 L1467.4 981.2 L1468.4 981.3 L1469.4 981.5 L1470.4 981.6 L1471.4 981.7 L1472.4 981.9 L1473.4 982.0 L1474.4 982.1 L1475.4 982.2 L1476.4 982.4 L1477.3 982.5 L1478.3 982.6 L1479.3 982.8 L1480.3 982.9 L1481.3 983.0 L1482.3 983.1 L1483.3 983.3 L1484.3 983.4 L1485.3 983.5 L1486.3 983.7 L1487.3 983.8 L1488.3 983.9 L1489.3 984.0 L1490.3 984.2 L1491.3 984.3 L1492.3 984.4 L1493.3 984.5 L1494.3 984.6 L1495.2 984.8 L1496.2 984.9 L1497.2 985.0 L1498.2 985.1 L1499.2 985.2 L1500.2 985.4 L1501.2 985.5 L1502.2 985.6 L1503.2 985.7 L1504.2 985.8 L1505.2 985.9 L1506.2 986.1 L1507.2 986.2 L1508.2 986.3 L1509.2 986.4 L1510.2 986.5 L1511.2 986.6 L1512.2 986.8 L1513.2 986.9 L1514.2 987.0 L1515.1 987.1 L1516.1 987.2 L1517.1 987.3 L1518.1 987.4 L1519.1 987.5 L1520.1 987.6 L1521.1 987.8 L1522.1 987.9 L1523.1 988.0 L1524.1 988.1 L1525.1 988.2 L1526.1 988.3 L1527.1 988.4 L1528.1 988.5 L1529.1 988.6 L1530.1 988.7 L1531.1 988.8 L1532.1 988.9 L1533.1 989.0 L1534.1 989.1 L1535.1 989.2 L1536.1 989.3 L1537.1 989.4 L1538.0 989.6 L1539.0 989.7 L1540.0 989.8 L1541.0 989.9 L1542.0 990.0 L1543.0 990.1 L1544.0 990.2 L1545.0 990.3 L1546.0 990.4 L1547.0 990.5 L1548.0 990.6 L1549.0 990.7 L1550.0 990.8 L1551.0 990.9 L1552.0 991.0 L1553.0 991.0 L1554.0 991.1 L1555.0 991.2 L1556.0 991.3 L1557.0 991.4 L1558.0 991.5 L1558.9 991.6 L1559.9 991.7 L1560.9 991.8 L1561.9 991.9 L1562.9 992.0 L1563.9 992.1 L1564.9 992.2 L1565.9 992.3 L1566.9 992.4 L1567.9 992.5 L1568.9 992.6 L1569.9 992.7 L1570.9 992.7 L1571.9 992.8 L1572.9 992.9 L1573.9 993.0 L1574.9 993.1 L1575.9 993.2 L1576.9 993.3 L1577.8 993.4 L1578.8 993.5 L1579.8 993.6 L1580.8 993.6 L1581.8 993.7 L1582.8 993.8 L1583.8 993.9 L1584.8 994.0 L1585.8 994.1 L1586.8 994.2 L1587.8 994.2 L1588.8 994.3 L1589.8 994.4 L1590.8 994.5 L1591.8 994.6 L1592.8 994.7 L1593.7 994.8 L1594.7 994.8 L1595.7 994.9 L1596.7 995.0 L1597.7 995.1 L1598.7 995.2 L1599.7 995.3 L1600.7 995.3 L1601.7 995.4 L1602.7 995.5 L1603.7 995.6 L1604.7 995.7 L1605.7 995.8 L1606.7 995.8 L1607.6 995.9 L1608.6 996.0 L1609.6 996.1 L1610.6 996.2 L1611.6 996.2 L1612.6 996.3 L1613.6 996.4 L1614.6 996.5 L1615.6 996.6 L1616.6 996.6 L1617.6 996.7 L1618.6 996.8 L1619.5 996.9 L1620.5 997.0 L1621.5 997.0 L1622.5 997.1 L1623.5 997.2 L1624.5 997.3 L1625.5 997.3 L1626.5 997.4 L1627.5 997.5 L1628.5 997.6 L1629.5 997.7 L1630.4 997.7 L1631.4 997.8 L1632.4 997.9 L1633.4 998.0 L1634.4 998.0 L1635.4 998.1 L1636.4 998.2 L1636.6 998.2"/><path d="M171.0 1187.9 L171.0 1186.6 L171.0 1185.4 L171.0 1184.2 L171.2 1183.0 L171.4 1181.9 L171.6 1180.8 L172.0 1179.7 L172.3 1178.7 L172.8 1177.7 L173.2 1176.8 L173.8 1176.0 L174.4 1175.2 L175.0 1174.4 L175.6 1173.7 L176.3 1173.1 L177.1 1172.6 L177.8 1172.1 L178.6 1171.6 L179.4 1171.3 L180.3 1171.0 L181.1 1170.8 L182.0 1170.7 L182.9 1170.6 L183.8 1170.7 L184.7 1170.7 L185.6 1170.9 L186.6 1171.0 L187.5 1171.2 L188.5 1171.5 L189.4 1171.7 L190.4 1172.0 L191.4 1172.3 L192.4 1172.6 L193.3 1172.9 L194.3 1173.2 L195.3 1173.5 L196.3 1173.8 L197.2 1174.1 L198.2 1174.4 L199.2 1174.6 L200.2 1174.9 L201.2 1175.2 L202.1 1175.4 L203.1 1175.7 L204.1 1175.9 L205.1 1176.2 L206.1 1176.4 L207.0 1176.7 L208.0 1176.9 L209.0 1177.1 L210.0 1177.3 L211.0 1177.6 L211.9 1177.8 L212.9 1178.0 L213.9 1178.2 L214.9 1178.4 L215.9 1178.6 L216.9 1178.8 L217.8 1179.0 L218.8 1179.1 L219.8 1179.3 L220.8 1179.5 L221.8 1179.6 L222.8 1179.8 L223.7 1179.9 L224.7 1180.1 L225.7 1180.2 L226.7 1180.4 L227.7 1180.5 L228.7 1180.6 L229.7 1180.8 L230.7 1180.9 L231.6 1181.0 L232.6 1181.1 L233.6 1181.2 L234.6 1181.3 L235.6 1181.4 L236.6 1181.4 L237.6 1181.5 L238.5 1181.6 L239.5 1181.6 L240.5 1181.7 L241.5 1181.8 L242.5 1181.8 L243.5 1181.8 L244.5 1181.9 L245.5 1181.9 L246.5 1181.9 L247.4 1182.0 L248.4 1182.0 L249.4 1182.0 L250.4 1182.0 L251.4 1182.0 L252.4 1182.0 L253.4 1182.0 L254.4 1182.0 L255.4 1182.0 L256.3 1182.0 L257.3 1181.9 L258.3 1181.9 L259.3 1181.9 L260.3 1181.8 L261.3 1181.8 L262.3 1181.7 L263.3 1181.7 L264.3 1181.6 L265.3 1181.6 L266.2 1181.5 L267.2 1181.4 L268.2 1181.4 L269.2 1181.3 L270.2 1181.2 L271.2 1181.1 L272.2 1181.0 L273.2 1181.0 L274.2 1180.9 L275.2 1180.8 L276.2 1180.7 L277.1 1180.6 L278.1 1180.5 L279.1 1180.3 L280.1 1180.2 L281.1 1180.1 L282.1 1180.0 L283.1 1179.9 L284.1 1179.7 L285.1 1179.6 L286.1 1179.5 L287.1 1179.3 L288.0 1179.2 L289.0 1179.1 L290.0 1178.9 L291.0 1178.8 L292.0 1178.6 L293.0 1178.5 L294.0 1178.3 L295.0 1178.1 L296.0 1178.0 L297.0 1177.8 L298.0 1177.7 L298.9 1177.5 L299.9 1177.3 L300.9 1177.1 L301.9 1177.0 L302.9 1176.8 L303.9 1176.6 L304.9 1176.4 L305.9 1176.3 L306.9 1176.1 L307.9 1175.9 L308.9 1175.7 L309.8 1175.5 L310.8 1175.3 L311.8 1175.1 L312.8 1174.9 L313.8 1174.7 L314.8 1174.5 L315.8 1174.3 L316.8 1174.1 L317.8 1173.9 L318.8 1173.7 L319.7 1173.5 L320.7 1173.3 L321.7 1173.1 L322.7 1172.9 L323.7 1172.7 L324.7 1172.5 L325.7 1172.2 L326.7 1172.0 L327.7 1171.8 L328.7 1171.6 L329.6 1171.4 L330.6 1171.2 L331.6 1170.9 L332.6 1170.7 L333.6 1170.5 L334.6 1170.3 L335.6 1170.1 L336.6 1169.9 L337.5 1169.6 L338.5 1169.4 L339.5 1169.2 L340.5 1169.0 L341.5 1168.7 L342.5 1168.5 L343.5 1168.3 L344.5 1168.1 L345.4 1167.9 L346.4 1167.6 L347.4 1167.4 L348.4 1167.2 L349.4 1167.0 L350.4 1166.7 L351.4 1166.5 L352.3 1166.3 L353.3 1166.1 L354.3 1165.9 L355.3 1165.6 L356.3 1165.4 L357.3 1165.2 L358.3 1165.0 L359.2 1164.7 L360.2 1164.5 L361.2 1164.3 L362.2 1164.1 L363.2 1163.8 L364.1 1163.6 L365.1 1163.4 L366.1 1163.2 L367.1 1162.9 L368.1 1162.7 L369.1 1162.5 L370.0 1162.2 L371.0 1162.0 L372.0 1161.8 L373.0 1161.6 L373.9 1161.3 L374.9 1161.1 L375.9 1160.9 L376.9 1160.6 L377.9 1160.4 L378.8 1160.1 L379.8 1159.9 L380.8 1159.7 L381.8 1159.4 L382.7 1159.2 L383.7 1158.9 L384.7 1158.7 L385.6 1158.5 L386.6 1158.2 L387.6 1158.0 L388.6 1157.7 L389.5 1157.5 L390.5 1157.2 L391.5 1157.0 L392.4 1156.7 L393.4 1156.5 L394.4 1156.2 L395.3 1156.0 L396.3 1155.7 L397.3 1155.4 L398.2 1155.2 L399.2 1154.9 L400.2 1154.7 L401.1 1154.4 L402.1 1154.1 L403.0 1153.9 L404.0 1153.6 L405.0 1153.3 L405.9 1153.0 L406.9 1152.8 L407.8 1152.5 L408.8 1152.2 L409.7 1151.9 L410.7 1151.7 L411.7 1151.4 L412.6 1151.1 L413.6 1150.8 L414.5 1150.5 L415.5 1150.2 L416.4 1149.9 L417.4 1149.6 L418.3 1149.3 L419.3 1149.0 L420.2 1148.7 L421.2 1148.4 L422.1 1148.1 L423.0 1147.8 L424.0 1147.5 L424.9 1147.2 L425.9 1146.9 L426.8 1146.6 L427.8 1146.2 L428.7 1145.9 L429.6 1145.6 L430.6 1145.3 L431.5 1144.9 L432.4 1144.6 L433.4 1144.3 L434.3 1143.9 L435.2 1143.6 L436.2 1143.3 L437.1 1142.9 L438.0 1142.6 L439.0 1142.2 L439.9 1141.9 L440.8 1141.5 L441.7 1141.2 L442.7 1140.8 L443.6 1140.4 L444.5 1140.1 L445.4 1139.7 L446.3 1139.3 L447.3 1139.0 L448.2 1138.6 L449.1 1138.2 L450.0 1137.8 L450.9 1137.4 L451.8 1137.0 L452.7 1136.7 L453.6 1136.3 L454.6 1135.9 L455.5 1135.5 L456.4 1135.1 L457.3 1134.7 L458.2 1134.3 L459.1 1133.9 L460.0 1133.4 L460.9 1133.0 L461.8 1132.6 L462.7 1132.2 L463.6 1131.8 L464.5 1131.3 L465.4 1130.9 L466.3 1130.5 L467.2 1130.1 L468.1 1129.6 L468.9 1129.2 L469.8 1128.8 L470.7 1128.3 L471.6 1127.9 L472.5 1127.4 L473.4 1127.0 L474.3 1126.5 L475.1 1126.1 L476.0 1125.6 L476.9 1125.2 L477.8 1124.7 L478.7 1124.2 L479.5 1123.8 L480.4 1123.3 L481.3 1122.8 L482.2 1122.3 L483.0 1121.9 L483.9 1121.4 L484.8 1120.9 L485.6 1120.4 L486.5 1119.9 L487.4 1119.5 L488.2 1119.0 L489.1 1118.5 L490.0 1118.0 L490.8 1117.5 L491.7 1117.0 L492.5 1116.5 L493.4 1116.0 L494.3 1115.5 L495.1 1115.0 L496.0 1114.4 L496.8 1113.9 L497.7 1113.4 L498.5 1112.9 L499.4 1112.4 L500.2 1111.9 L501.0 1111.3 L501.9 1110.8 L502.7 1110.3 L503.6 1109.7 L504.4 1109.2 L505.3 1108.7 L506.1 1108.1 L506.9 1107.6 L507.8 1107.0 L508.6 1106.5 L509.4 1105.9 L510.3 1105.4 L511.1 1104.8 L511.9 1104.3 L512.7 1103.7 L513.6 1103.2 L514.4 1102.6 L515.2 1102.1 L516.0 1101.5 L516.9 1100.9 L517.7 1100.4 L518.5 1099.8 L519.3 1099.2 L520.1 1098.6 L520.9 1098.1 L521.8 1097.5 L522.6 1096.9 L523.4 1096.3 L524.2 1095.7 L525.0 1095.1 L525.8 1094.5 L526.6 1093.9 L527.4 1093.4 L528.2 1092.8 L529.0 1092.2 L529.8 1091.6 L530.6 1091.0 L531.4 1090.4 L532.2 1089.7 L533.0 1089.1 L533.8 1088.5 L534.6 1087.9 L535.4 1087.3 L536.1 1086.7 L536.9 1086.1 L537.7 1085.4 L538.5 1084.8 L539.3 1084.2 L540.1 1083.6 L540.8 1082.9 L541.6 1082.3 L542.4 1081.7 L543.2 1081.0 L543.9 1080.4 L544.7 1079.8 L545.5 1079.1 L546.3 1078.5 L547.0 1077.8 L547.8 1077.2 L548.6 1076.5 L549.3 1075.9 L550.1 1075.2 L550.8 1074.6 L551.6 1073.9 L552.4 1073.3 L553.1 1072.6 L553.9 1072.0 L554.6 1071.3 L555.4 1070.6 L556.1 1070.0 L556.9 1069.3 L557.6 1068.6 L558.4 1068.0 L559.1 1067.3 L559.8 1066.6 L560.6 1065.9 L561.3 1065.3 L562.1 1064.6 L562.8 1063.9 L563.5 1063.2 L564.3 1062.5 L565.0 1061.8 L565.7 1061.2 L566.5 1060.5 L567.2 1059.8 L567.9 1059.1 L568.6 1058.4 L569.4 1057.7 L570.1 1057.0 L570.8 1056.3 L571.5 1055.6 L572.2 1054.9 L573.0 1054.2 L573.7 1053.5 L574.4 1052.8 L575.1 1052.0 L575.8 1051.3 L576.5 1050.6 L577.2 1049.9 L577.9 1049.2 L578.6 1048.5 L579.3 1047.8 L580.0 1047.0 L580.7 1046.3 L581.4 1045.6 L582.1 1044.9 L582.8 1044.1 L583.5 1043.4 L584.2 1042.7 L584.9 1041.9 L585.5 1041.2 L586.2 1040.5 L586.9 1039.7 L587.6 1039.0 L588.3 1038.3 L589.0 1037.5 L589.6 1036.8 L590.3 1036.0 L591.0 1035.3 L591.7 1034.5 L592.3 1033.8 L593.0 1033.0 L593.7 1032.3 L594.3 1031.5 L595.0 1030.8 L595.6 1030.0 L596.3 1029.3 L597.0 1028.5 L597.6 1027.7 L598.3 1027.0 L598.9 1026.2 L599.6 1025.5 L600.2 1024.7 L600.9 1023.9 L601.5 1023.2 L602.2 1022.4 L602.8 1021.6 L603.5 1020.8 L604.1 1020.1 L604.7 1019.3 L605.4 1018.5 L606.0 1017.7 L606.6 1017.0 L607.3 1016.2 L607.9 1015.4 L608.5 1014.6 L609.2 1013.8 L609.8 1013.0 L610.4 1012.3 L611.0 1011.5 L611.6 1010.7 L612.3 1009.9 L612.9 1009.1 L613.5 1008.3 L614.1 1007.5 L614.7 1006.7 L615.3 1005.9 L615.9 1005.1 L616.5 1004.3 L617.1 1003.5 L617.7 1002.7 L618.3 1001.9 L618.9 1001.1 L619.5 1000.3 L620.1 999.5 L620.7 998.7 L621.3 997.9 L621.9 997.1 L622.5 996.3 L623.1 995.5 L623.7 994.6 L624.3 993.8 L624.8 993.0 L625.4 992.2 L626.0 991.4 L626.6 990.6 L627.2 989.7 L627.7 988.9 L628.3 988.1 L628.9 987.3 L629.4 986.5 L630.0 985.6 L630.6 984.8 L631.1 984.0 L631.7 983.2 L632.3 982.3 L632.8 981.5 L633.4 980.7 L633.9 979.8 L634.5 979.0 L635.1 978.2 L635.6 977.3 L636.2 976.5 L636.7 975.7 L637.3 974.8 L637.8 974.0 L638.4 973.1 L638.9 972.3 L639.4 971.5 L640.0 970.6 L640.5 969.8 L641.1 968.9 L641.6 968.1 L642.1 967.2 L642.7 966.4 L643.2 965.5 L643.7 964.7 L644.3 963.8 L644.8 963.0 L645.3 962.1 L645.8 961.3 L646.4 960.4 L646.9 959.6 L647.4 958.7 L647.9 957.9 L648.5 957.0 L649.0 956.2 L649.5 955.3 L650.0 954.5 L650.5 953.6 L651.0 952.7 L651.5 951.9 L652.1 951.0 L652.6 950.1 L653.1 949.3 L653.6 948.4 L654.1 947.6 L654.6 946.7 L655.1 945.8 L655.6 945.0 L656.1 944.1 L656.6 943.2 L657.1 942.4 L657.6 941.5 L658.1 940.6 L658.6 939.7 L659.1 938.9 L659.6 938.0 L660.1 937.1 L660.6 936.2 L661.0 935.4 L661.5 934.5 L662.0 933.6 L662.5 932.7 L663.0 931.9 L663.5 931.0 L664.0 930.1 L664.4 929.2 L664.9 928.4 L665.4 927.5 L665.9 926.6 L666.4 925.7 L666.8 924.8 L667.3 923.9 L667.8 923.1 L668.3 922.2 L668.7 921.3 L669.2 920.4 L669.7 919.5 L670.1 918.6 L670.6 917.8 L671.1 916.9 L671.5 916.0 L672.0 915.1 L672.5 914.2 L672.9 913.3 L673.4 912.4 L673.9 911.5 L674.3 910.6 L674.8 909.8 L675.3 908.9 L675.7 908.0 L676.2 907.1 L676.6 906.2 L677.1 905.3 L677.5 904.4 L678.0 903.5 L678.4 902.6 L678.9 901.7 L679.3 900.8 L679.8 899.9 L680.2 899.0 L680.7 898.1 L681.1 897.2 L681.6 896.3 L682.0 895.4 L682.5 894.5 L682.9 893.7 L683.4 892.8 L683.8 891.9 L684.3 891.0 L684.7 890.1 L685.1 889.2 L685.6 888.3 L686.0 887.4 L686.5 886.5 L686.9 885.6 L687.3 884.7 L687.8 883.8 L688.2 882.8 L688.6 881.9 L689.1 881.0 L689.5 880.1 L690.0 879.2 L690.4 878.3 L690.8 877.4 L691.2 876.5 L691.7 875.6 L692.1 874.7 L692.5 873.8 L693.0 872.9 L693.4 872.0 L693.8 871.1 L694.3 870.2 L694.7 869.3 L695.1 868.4 L695.5 867.5 L696.0 866.6 L696.4 865.7 L696.8 864.8 L697.2 863.9 L697.6 863.0 L698.1 862.0 L698.5 861.1 L698.9 860.2 L699.3 859.3 L699.7 858.4 L700.2 857.5 L700.6 856.6 L701.0 855.7 L701.4 854.8 L701.8 853.9 L702.2 853.0 L702.7 852.1 L703.1 851.1 L703.5 850.2 L703.9 849.3 L704.3 848.4 L704.7 847.5 L705.1 846.6 L705.5 845.7 L706.0 844.8 L706.4 843.9 L706.8 842.9 L707.2 842.0 L707.6 841.1 L708.0 840.2 L708.4 839.3 L708.8 838.4 L709.2 837.5 L709.6 836.6 L710.0 835.6 L710.4 834.7 L710.8 833.8 L711.2 832.9 L711.6 832.0 L712.0 831.1 L712.4 830.2 L712.8 829.2 L713.2 828.3 L713.6 827.4 L714.0 826.5 L714.4 825.6 L714.8 824.7 L715.2 823.7 L715.6 822.8 L716.0 821.9 L716.4 821.0 L716.8 820.1 L717.2 819.2 L717.6 818.2 L718.0 817.3 L718.4 816.4 L718.8 815.5 L719.2 814.6 L719.5 813.7 L719.9 812.7 L720.3 811.8 L720.7 810.9 L721.1 810.0 L721.5 809.1 L721.9 808.1 L722.3 807.2 L722.7 806.3 L723.0 805.4 L723.4 804.5 L723.8 803.5 L724.2 802.6 L724.6 801.7 L725.0 800.8 L725.3 799.9 L725.7 798.9 L726.1 798.0 L726.5 797.1 L726.9 796.2 L727.2 795.3 L727.6 794.3 L728.0 793.4 L728.4 792.5 L728.8 791.6 L729.1 790.6 L729.5 789.7 L729.9 788.8 L730.3 787.9 L730.6 786.9 L731.0 786.0 L731.4 785.1 L731.8 784.2 L732.1 783.3 L732.5 782.3 L732.9 781.4 L733.3 780.5 L733.6 779.6 L734.0 778.6 L734.4 777.7 L734.7 776.8 L735.1 775.9 L735.5 774.9 L735.9 774.0 L736.2 773.1 L736.6 772.1 L737.0 771.2 L737.3 770.3 L737.7 769.4 L738.1 768.4 L738.4 767.5 L738.8 766.6 L739.2 765.7 L739.5 764.7 L739.9 763.8 L740.2 762.9 L740.6 761.9 L741.0 761.0 L741.3 760.1 L741.7 759.2 L742.1 758.2 L742.4 757.3 L742.8 756.4 L743.1 755.4 L743.5 754.5 L743.9 753.6 L744.2 752.7 L744.6 751.7 L744.9 750.8 L745.3 749.9 L745.6 748.9 L746.0 748.0 L746.4 747.1 L746.7 746.2 L747.1 745.2 L747.4 744.3 L747.8 743.4 L748.1 742.4 L748.5 741.5 L748.8 740.6 L749.2 739.6 L749.5 738.7 L749.9 737.8 L750.2 736.8 L750.6 735.9 L750.9 735.0 L751.3 734.0 L751.6 733.1 L752.0 732.2 L752.3 731.2 L752.7 730.3 L753.0 729.4 L753.4 728.4 L753.7 727.5 L754.1 726.6 L754.4 725.6 L754.8 724.7 L755.1 723.8 L755.5 722.8 L755.8 721.9 L756.2 721.0 L756.5 720.0 L756.8 719.1 L757.2 718.2 L757.5 717.2 L757.9 716.3 L758.2 715.4 L758.6 714.4 L758.9 713.5 L759.2 712.6 L759.6 711.6 L759.9 710.7 L760.3 709.8 L760.6 708.8 L760.9 707.9 L761.3 707.0 L761.6 706.0 L762.0 705.1 L762.3 704.2 L762.6 703.2 L763.0 702.3 L763.3 701.3 L763.7 700.4 L764.0 699.5 L764.3 698.5 L764.7 697.6 L765.0 696.7 L765.3 695.7 L765.7 694.8 L766.0 693.8 L766.3 692.9 L766.7 692.0 L767.0 691.0 L767.3 690.1 L767.7 689.2 L768.0 688.2 L768.3 687.3 L768.7 686.3 L769.0 685.4 L769.3 684.5 L769.7 683.5 L770.0 682.6 L770.3 681.7 L770.7 680.7 L771.0 679.8 L771.3 678.8 L771.6 677.9 L772.0 677.0 L772.3 676.0 L772.6 675.1 L773.0 674.1 L773.3 673.2 L773.6 672.3 L773.9 671.3 L774.3 670.4 L774.6 669.4 L774.9 668.5 L775.3 667.6 L775.6 666.6 L775.9 665.7 L776.2 664.7 L776.6 663.8 L776.9 662.9 L777.2 661.9 L777.5 661.0 L777.9 660.0 L778.2 659.1 L778.5 658.2 L778.8 657.2 L779.2 656.3 L779.5 655.3 L779.8 654.4 L780.1 653.5 L780.4 652.5 L780.8 651.6 L781.1 650.6 L781.4 649.7 L781.7 648.8 L782.0 647.8 L782.4 646.9 L782.7 645.9 L783.0 645.0 L783.3 644.1 L783.7 643.1 L784.0 642.2 L784.3 641.2 L784.6 640.3 L784.9 639.3 L785.2 638.4 L785.6 637.5 L785.9 636.5 L786.2 635.6 L786.5 634.6 L786.8 633.7 L787.2 632.7 L787.5 631.8 L787.8 630.9 L788.1 629.9 L788.4 629.0 L788.7 628.0 L789.1 627.1 L789.4 626.2 L789.7 625.2 L790.0 624.3 L790.3 623.3 L790.6 622.4 L790.9 621.4 L791.3 620.5 L791.6 619.6 L791.9 618.6 L792.2 617.7 L792.5 616.7 L792.8 615.8 L793.1 614.8 L793.5 613.9 L793.8 612.9 L794.1 612.0 L794.4 611.1 L794.7 610.1 L795.0 609.2 L795.3 608.2 L795.6 607.3 L796.0 606.3 L796.3 605.4 L796.6 604.5 L796.9 603.5 L797.2 602.6 L797.5 601.6 L797.8 600.7 L798.1 599.7 L798.4 598.8 L798.8 597.8 L799.1 596.9 L799.4 596.0 L799.7 595.0 L800.0 594.1 L800.3 593.1 L800.6 592.2 L800.9 591.2 L801.2 590.3 L801.5 589.4 L801.9 588.4 L802.2 587.5 L802.5 586.5 L802.8 585.6 L803.1 584.6 L803.4 583.7 L803.7 582.7 L804.0 581.8 L804.3 580.9 L804.6 579.9 L804.9 579.0 L805.2 578.0 L805.5 577.1 L805.9 576.1 L806.2 575.2 L806.5 574.2 L806.8 573.3 L807.1 572.4 L807.4 571.4 L807.7 570.5 L808.0 569.5 L808.3 568.6 L808.6 567.6 L808.9 566.7 L809.2 565.7 L809.5 564.8 L809.8 563.9 L810.1 562.9 L810.5 562.0 L810.8 561.0 L811.1 560.1 L811.4 559.1 L811.7 558.2 L812.0 557.2 L812.3 556.3 L812.6 555.4 L812.9 554.4 L813.2 553.5 L813.5 552.5 L813.8 551.6 L814.1 550.6 L814.4 549.7 L814.7 548.7 L815.0 547.8 L815.3 546.9 L815.6 545.9 L815.9 545.0 L816.2 544.0 L816.6 543.1 L816.9 542.1 L817.2 541.2 L817.5 540.2 L817.8 539.3 L818.1 538.4 L818.4 537.4 L818.7 536.5 L819.0 535.5 L819.3 534.6 L819.6 533.6 L819.9 532.7 L820.2 531.7 L820.5 530.8 L820.8 529.9 L821.1 528.9 L821.4 528.0 L821.7 527.0 L822.0 526.1 L822.3 525.1 L822.6 524.2 L822.9 523.2 L823.2 522.3 L823.5 521.4 L823.8 520.4 L824.1 519.5 L824.5 518.5 L824.8 517.6 L825.1 516.6 L825.4 515.7 L825.7 514.7 L826.0 513.8 L826.3 512.9 L826.6 511.9 L826.9 511.0 L827.2 510.0 L827.5 509.1 L827.8 508.1 L828.1 507.2 L828.4 506.3 L828.7 505.3 L829.0 504.4 L829.3 503.4 L829.6 502.5 L829.9 501.5 L830.2 500.6 L830.5 499.7 L830.8 498.7 L831.1 497.8 L831.4 496.8 L831.7 495.9 L832.0 494.9 L832.3 494.0 L832.6 493.1 L832.9 492.1 L833.2 491.2 L833.6 490.2 L833.9 489.3 L834.2 488.3 L834.5 487.4 L834.8 486.5 L835.1 485.5 L835.4 484.6 L835.7 483.6 L836.0 482.7 L836.3 481.7 L836.6 480.8 L836.9 479.9 L837.2 478.9 L837.5 478.0 L837.8 477.0 L838.1 476.1 L838.4 475.1 L838.7 474.2 L839.0 473.3 L839.3 472.3 L839.6 471.4 L839.9 470.4 L840.2 469.5 L840.6 468.6 L840.9 467.6 L841.2 466.7 L841.5 465.7 L841.8 464.8 L842.1 463.8 L842.4 462.9 L842.7 462.0 L843.0 461.0 L843.3 460.1 L843.6 459.1 L843.9 458.2 L844.2 457.3 L844.5 456.3 L844.8 455.4 L845.1 454.4 L845.4 453.5 L845.8 452.6 L846.1 451.6 L846.4 450.7 L846.7 449.7 L847.0 448.8 L847.3 447.9 L847.6 446.9 L847.9 446.0 L848.2 445.0 L848.5 444.1 L848.8 443.2 L849.1 442.2 L849.4 441.3 L849.7 440.3 L850.1 439.4 L850.4 438.5 L850.7 437.5 L851.0 436.6 L851.3 435.6 L851.6 434.7 L851.9 433.8 L852.2 432.8 L852.5 431.9 L852.8 431.0 L853.1 430.0 L853.5 429.1 L853.8 428.1 L854.1 427.2 L854.4 426.3 L854.7 425.3 L855.0 424.4 L855.3 423.4 L855.6 422.5 L855.9 421.6 L856.2 420.6 L856.6 419.7 L856.9 418.8 L857.2 417.8 L857.5 416.9 L857.8 415.9 L858.1 415.0 L858.4 414.1 L858.7 413.1 L859.1 412.2 L859.4 411.3 L859.7 410.3 L860.0 409.4 L860.3 408.5 L860.6 407.5 L860.9 406.6 L861.2 405.6 L861.6 404.7 L861.9 403.8 L862.2 402.8 L862.5 401.9 L862.8 401.0 L863.1 400.0 L863.5 399.1 L863.8 398.2 L864.1 397.2 L864.4 396.3 L864.7 395.3 L865.0 394.4 L865.4 393.5 L865.7 392.5 L866.0 391.6 L866.3 390.7 L866.6 389.7 L866.9 388.8 L867.3 387.9 L867.6 386.9 L867.9 386.0 L868.2 385.1 L868.5 384.1 L868.9 383.2 L869.2 382.3 L869.5 381.3 L869.8 380.4 L870.1 379.4 L870.5 378.5 L870.8 377.6 L871.1 376.6 L871.4 375.7 L871.8 374.8 L872.1 373.8 L872.4 372.9 L872.7 372.0 L873.0 371.0 L873.4 370.1 L873.7 369.2 L874.0 368.2 L874.3 367.3 L874.7 366.4 L875.0 365.4 L875.3 364.5 L875.7 363.6 L876.0 362.6 L876.3 361.7 L876.6 360.8 L877.0 359.8 L877.3 358.9 L877.6 358.0 L877.9 357.0 L878.3 356.1 L878.6 355.2 L878.9 354.2 L879.3 353.3 L879.6 352.4 L879.9 351.4 L880.3 350.5 L880.6 349.6 L880.9 348.6 L881.3 347.7 L881.6 346.8 L881.9 345.8 L882.2 344.9 L882.6 344.0 L882.9 343.0 L883.3 342.1 L883.6 341.2 L883.9 340.2 L884.3 339.3 L884.6 338.4 L884.9 337.4 L885.3 336.5 L885.6 335.6 L885.9 334.6 L886.3 333.7 L886.6 332.8 L887.0 331.8 L887.3 330.9 L887.6 330.0 L888.0 329.0 L888.3 328.1 L888.7 327.2 L889.0 326.2 L889.3 325.3 L889.7 324.4 L890.0 323.5 L890.4 322.5 L890.7 321.6 L891.1 320.7 L891.4 319.7 L891.7 318.8 L892.1 317.9 L892.4 316.9 L892.8 316.0 L893.1 315.1 L893.5 314.1 L893.8 313.2 L894.2 312.3 L894.5 311.3 L894.9 310.4 L895.2 309.5 L895.6 308.5 L895.9 307.6 L896.3 306.7 L896.6 305.7 L897.0 304.8 L897.3 303.9 L897.7 302.9 L898.0 302.0 L898.4 301.1 L898.7 300.2 L899.1 299.2 L899.4 298.3 L899.8 297.4 L900.2 296.4 L900.5 295.5 L900.9 294.6 L901.2 293.6 L901.6 292.7 L901.9 291.8 L902.3 290.8 L902.7 289.9 L903.0 289.0 L903.4 288.0 L903.7 287.1 L904.1 286.2 L904.5 285.2 L904.8 284.3 L905.2 283.4 L905.6 282.5 L905.9 281.5 L906.3 280.6 L906.6 279.7 L907.0 278.7 L907.4 277.8 L907.7 276.9 L908.1 275.9 L908.5 275.0 L908.9 274.1 L909.2 273.1 L909.6 272.2 L910.0 271.3 L910.3 270.3 L910.7 269.4 L911.1 268.5 L911.4 267.5 L911.8 266.6 L912.2 265.7 L912.6 264.8 L912.9 263.8 L913.3 262.9 L913.7 262.0 L914.1 261.0 L914.4 260.1 L914.8 259.2 L915.2 258.2 L915.6 257.3 L916.0 256.4 L916.3 255.4 L916.7 254.5 L917.1 253.6 L917.5 252.6 L917.9 251.7 L918.3 250.8 L918.6 249.8 L919.0 248.9 L919.4 248.0 L919.8 247.1 L920.2 246.1 L920.6 245.2 L921.0 244.3 L921.3 243.3 L921.7 242.4 L922.1 241.5 L922.5 240.5 L922.9 239.6 L923.3 238.7 L923.7 237.7 L924.1 236.8 L924.5 235.9 L924.9 234.9 L925.3 234.0 L925.7 233.1 L926.1 232.1 L926.5 231.2 L926.8 230.3 L927.2 229.4 L927.6 228.4 L928.0 227.5 L928.4 226.6 L928.9 225.6 L929.3 224.7 L929.7 223.8 L930.1 222.8 L930.5 221.9 L930.9 221.0 L931.3 220.1 L931.7 219.1 L932.1 218.2 L932.5 217.3 L932.9 216.4 L933.4 215.4 L933.8 214.5 L934.2 213.6 L934.6 212.7 L935.0 211.7 L935.5 210.8 L935.9 209.9 L936.3 209.0 L936.7 208.1 L937.2 207.2 L937.6 206.2 L938.1 205.3 L938.5 204.4 L938.9 203.5 L939.4 202.6 L939.8 201.7 L940.3 200.8 L940.7 199.9 L941.2 199.0 L941.6 198.1 L942.1 197.2 L942.5 196.3 L943.0 195.4 L943.5 194.5 L943.9 193.6 L944.4 192.7 L944.9 191.8 L945.3 190.9 L945.8 190.0 L946.3 189.2 L946.8 188.3 L947.3 187.4 L947.7 186.5 L948.2 185.7 L948.7 184.8 L949.2 183.9 L949.7 183.0 L950.2 182.2 L950.7 181.3 L951.2 180.5 L951.8 179.6 L952.3 178.7 L952.8 177.9 L953.3 177.0 L953.8 176.2 L954.4 175.4 L954.9 174.5 L955.5 173.7 L956.0 172.8 L956.5 172.0 L957.1 171.2 L957.6 170.3 L958.2 169.5 L958.8 168.7 L959.3 167.9 L959.9 167.1 L960.5 166.3 L961.0 165.4 L961.6 164.6 L962.2 163.8 L962.8 163.0 L963.4 162.2 L964.0 161.5 L964.6 160.7 L965.2 159.9 L965.8 159.1 L966.4 158.3 L967.0 157.6 L967.6 156.8 L968.3 156.0 L968.9 155.3 L969.5 154.5 L970.2 153.7 L970.8 153.0 L971.5 152.2 L972.1 151.5 L972.8 150.8 L973.5 150.0 L974.1 149.3 L974.8 148.6 L975.5 147.8 L976.2 147.1 L976.9 146.4 L977.6 145.7 L978.3 145.0 L979.0 144.3 L979.7 143.6 L980.4 142.9 L981.1 142.2 L981.9 141.5 L982.6 140.9 L983.3 140.2 L984.1 139.5 L984.8 138.8 L985.6 138.2 L986.3 137.5 L987.1 136.9 L987.9 136.2 L988.7 135.6 L989.4 135.0 L990.2 134.3 L991.0 133.7 L991.8 133.1 L992.6 132.5 L993.5 131.9 L994.3 131.3 L995.1 130.7 L995.9 130.1 L996.8 129.5 L997.6 128.9 L998.5 128.3 L999.3 127.8 L1000.2 127.2 L1001.1 126.6 L1001.9 126.1 L1002.8 125.6 L1003.7 125.0 L1004.6 124.5 L1005.5 124.0 L1006.4 123.5 L1007.3 123.1 L1008.2 122.6 L1009.1 122.1 L1010.0 121.7 L1010.9 121.3 L1011.9 120.9 L1012.8 120.5 L1013.7 120.1 L1014.6 119.7 L1015.6 119.4 L1016.5 119.1 L1017.4 118.7 L1018.3 118.5 L1019.3 118.2 L1020.2 117.9 L1021.2 117.7 L1022.1 117.5 L1023.0 117.3 L1024.0 117.2 L1024.9 117.0 L1025.9 116.9 L1026.8 116.8 L1027.7 116.7 L1028.7 116.7 L1029.6 116.7 L1030.6 116.7 L1031.5 116.7 L1032.4 116.8 L1033.4 116.9 L1034.3 117.0 L1035.2 117.1 L1036.2 117.3 L1037.1 117.5 L1038.0 117.7 L1038.9 117.9 L1039.9 118.2 L1040.8 118.4 L1041.7 118.7 L1042.6 119.0 L1043.5 119.4 L1044.4 119.7 L1045.4 120.1 L1046.3 120.5 L1047.2 120.9 L1048.1 121.3 L1049.0 121.7 L1049.9 122.1 L1050.8 122.6 L1051.7 123.1 L1052.6 123.6 L1053.5 124.0 L1054.4 124.5 L1055.2 125.1 L1056.1 125.6 L1057.0 126.1 L1057.9 126.7 L1058.7 127.2 L1059.6 127.8 L1060.5 128.3 L1061.3 128.9 L1062.2 129.5 L1063.1 130.0 L1063.9 130.6 L1064.8 131.2 L1065.6 131.8 L1066.4 132.4 L1067.3 133.0 L1068.1 133.6 L1068.9 134.2 L1069.8 134.8 L1070.6 135.4 L1071.4 136.0 L1072.2 136.6 L1073.0 137.3 L1073.8 137.9 L1074.6 138.5 L1075.4 139.1 L1076.2 139.8 L1077.0 140.4 L1077.8 141.0 L1078.6 141.7 L1079.4 142.3 L1080.2 142.9 L1081.0 143.6 L1081.7 144.2 L1082.5 144.9 L1083.3 145.5 L1084.0 146.2 L1084.8 146.9 L1085.6 147.5 L1086.3 148.2 L1087.1 148.8 L1087.8 149.5 L1088.6 150.2 L1089.3 150.9 L1090.0 151.5 L1090.8 152.2 L1091.5 152.9 L1092.2 153.6 L1093.0 154.3 L1093.7 155.0 L1094.4 155.6 L1095.1 156.3 L1095.9 157.0 L1096.6 157.7 L1097.3 158.4 L1098.0 159.1 L1098.7 159.8 L1099.4 160.5 L1100.1 161.3 L1100.8 162.0 L1101.5 162.7 L1102.2 163.4 L1102.9 164.1 L1103.6 164.8 L1104.2 165.6 L1104.9 166.3 L1105.6 167.0 L1106.3 167.7 L1107.0 168.5 L1107.6 169.2 L1108.3 169.9 L1109.0 170.7 L1109.6 171.4 L1110.3 172.2 L1111.0 172.9 L1111.6 173.6 L1112.3 174.4 L1112.9 175.1 L1113.6 175.9 L1114.2 176.6 L1114.9 177.4 L1115.5 178.1 L1116.1 178.9 L1116.8 179.7 L1117.4 180.4 L1118.1 181.2 L1118.7 182.0 L1119.3 182.7 L1119.9 183.5 L1120.6 184.3 L1121.2 185.0 L1121.8 185.8 L1122.4 186.6 L1123.1 187.4 L1123.7 188.1 L1124.3 188.9 L1124.9 189.7 L1125.5 190.5 L1126.1 191.3 L1126.7 192.0 L1127.3 192.8 L1127.9 193.6 L1128.5 194.4 L1129.1 195.2 L1129.7 196.0 L1130.3 196.8 L1130.9 197.6 L1131.5 198.4 L1132.1 199.2 L1132.7 200.0 L1133.3 200.8 L1133.9 201.6 L1134.5 202.4 L1135.1 203.2 L1135.6 204.0 L1136.2 204.8 L1136.8 205.6 L1137.4 206.4 L1138.0 207.2 L1138.5 208.1 L1139.1 208.9 L1139.7 209.7 L1140.3 210.5 L1140.8 211.3 L1141.4 212.1 L1142.0 213.0 L1142.5 213.8 L1143.1 214.6 L1143.7 215.4 L1144.2 216.2 L1144.8 217.1 L1145.4 217.9 L1145.9 218.7 L1146.5 219.5 L1147.0 220.4 L1147.6 221.2 L1148.1 222.0 L1148.7 222.8 L1149.3 223.7 L1149.8 224.5 L1150.4 225.3 L1150.9 226.2 L1151.5 227.0 L1152.0 227.8 L1152.6 228.7 L1153.1 229.5 L1153.7 230.4 L1154.2 231.2 L1154.8 232.0 L1155.3 232.9 L1155.8 233.7 L1156.4 234.5 L1156.9 235.4 L1157.5 236.2 L1158.0 237.1 L1158.6 237.9 L1159.1 238.7 L1159.6 239.6 L1160.2 240.4 L1160.7 241.3 L1161.3 242.1 L1161.8 243.0 L1162.3 243.8 L1162.9 244.6 L1163.4 245.5 L1163.9 246.3 L1164.5 247.2 L1165.0 248.0 L1165.5 248.9 L1166.1 249.7 L1166.6 250.6 L1167.2 251.4 L1167.7 252.3 L1168.2 253.1 L1168.8 254.0 L1169.3 254.8 L1169.8 255.7 L1170.4 256.5 L1170.9 257.3 L1171.4 258.2 L1172.0 259.0 L1172.5 259.9 L1173.0 260.7 L1173.6 261.6 L1174.1 262.4 L1174.6 263.3 L1175.2 264.1 L1175.7 265.0 L1176.2 265.8 L1176.8 266.7 L1177.3 267.5 L1177.8 268.4 L1178.4 269.2 L1178.9 270.1 L1179.4 270.9 L1180.0 271.8 L1180.5 272.6 L1181.0 273.5 L1181.6 274.3 L1182.1 275.2 L1182.6 276.0 L1183.2 276.9 L1183.7 277.7 L1184.2 278.6 L1184.8 279.4 L1185.3 280.3 L1185.8 281.1 L1186.4 281.9 L1186.9 282.8 L1187.5 283.6 L1188.0 284.5 L1188.5 285.3 L1189.1 286.2 L1189.6 287.0 L1190.1 287.9 L1190.7 288.7 L1191.2 289.6 L1191.7 290.4 L1192.3 291.3 L1192.8 292.1 L1193.3 293.0 L1193.9 293.8 L1194.4 294.7 L1194.9 295.5 L1195.5 296.4 L1196.0 297.2 L1196.5 298.1 L1197.1 298.9 L1197.6 299.8 L1198.2 300.6 L1198.7 301.4 L1199.2 302.3 L1199.8 303.1 L1200.3 304.0 L1200.8 304.8 L1201.4 305.7 L1201.9 306.5 L1202.5 307.4 L1203.0 308.2 L1203.5 309.1 L1204.1 309.9 L1204.6 310.8 L1205.1 311.6 L1205.7 312.4 L1206.2 313.3 L1206.8 314.1 L1207.3 315.0 L1207.8 315.8 L1208.4 316.7 L1208.9 317.5 L1209.5 318.4 L1210.0 319.2 L1210.5 320.0 L1211.1 320.9 L1211.6 321.7 L1212.2 322.6 L1212.7 323.4 L1213.2 324.3 L1213.8 325.1 L1214.3 326.0 L1214.9 326.8 L1215.4 327.6 L1216.0 328.5 L1216.5 329.3 L1217.0 330.2 L1217.6 331.0 L1218.1 331.8 L1218.7 332.7 L1219.2 333.5 L1219.8 334.4 L1220.3 335.2 L1220.9 336.1 L1221.4 336.9 L1221.9 337.7 L1222.5 338.6 L1223.0 339.4 L1223.6 340.3 L1224.1 341.1 L1224.7 341.9 L1225.2 342.8 L1225.8 343.6 L1226.3 344.4 L1226.9 345.3 L1227.4 346.1 L1228.0 347.0 L1228.5 347.8 L1229.1 348.6 L1229.6 349.5 L1230.2 350.3 L1230.7 351.1 L1231.3 352.0 L1231.8 352.8 L1232.4 353.6 L1232.9 354.5 L1233.5 355.3 L1234.0 356.2 L1234.6 357.0 L1235.1 357.8 L1235.7 358.7 L1236.3 359.5 L1236.8 360.3 L1237.4 361.2 L1237.9 362.0 L1238.5 362.8 L1239.0 363.7 L1239.6 364.5 L1240.2 365.3 L1240.7 366.1 L1241.3 367.0 L1241.8 367.8 L1242.4 368.6 L1242.9 369.5 L1243.5 370.3 L1244.1 371.1 L1244.6 371.9 L1245.2 372.8 L1245.8 373.6 L1246.3 374.4 L1246.9 375.3 L1247.4 376.1 L1248.0 376.9 L1248.6 377.7 L1249.1 378.6 L1249.7 379.4 L1250.3 380.2 L1250.8 381.0 L1251.4 381.9 L1252.0 382.7 L1252.5 383.5 L1253.1 384.3 L1253.7 385.2 L1254.2 386.0 L1254.8 386.8 L1255.4 387.6 L1256.0 388.4 L1256.5 389.3 L1257.1 390.1 L1257.7 390.9 L1258.2 391.7 L1258.8 392.5 L1259.4 393.4 L1260.0 394.2 L1260.5 395.0 L1261.1 395.8 L1261.7 396.6 L1262.3 397.4 L1262.8 398.3 L1263.4 399.1 L1264.0 399.9 L1264.6 400.7 L1265.2 401.5 L1265.7 402.3 L1266.3 403.1 L1266.9 403.9 L1267.5 404.8 L1268.1 405.6 L1268.7 406.4 L1269.2 407.2 L1269.8 408.0 L1270.4 408.8 L1271.0 409.6 L1271.6 410.4 L1272.2 411.2 L1272.8 412.0 L1273.3 412.9 L1273.9 413.7 L1274.5 414.5 L1275.1 415.3 L1275.7 416.1 L1276.3 416.9 L1276.9 417.7 L1277.5 418.5 L1278.1 419.3 L1278.7 420.1 L1279.3 420.9 L1279.9 421.7 L1280.5 422.5 L1281.1 423.3 L1281.6 424.1 L1282.2 424.9 L1282.8 425.7 L1283.4 426.5 L1284.0 427.3 L1284.6 428.1 L1285.2 428.9 L1285.9 429.7 L1286.5 430.5 L1287.1 431.3 L1287.7 432.1 L1288.3 432.9 L1288.9 433.7 L1289.5 434.4 L1290.1 435.2 L1290.7 436.0 L1291.3 436.8 L1291.9 437.6 L1292.5 438.4 L1293.1 439.2 L1293.7 440.0 L1294.4 440.8 L1295.0 441.5 L1295.6 442.3 L1296.2 443.1 L1296.8 443.9 L1297.4 444.7 L1298.1 445.5 L1298.7 446.3 L1299.3 447.0 L1299.9 447.8 L1300.5 448.6 L1301.2 449.4 L1301.8 450.2 L1302.4 450.9 L1303.0 451.7 L1303.6 452.5 L1304.3 453.3 L1304.9 454.1 L1305.5 454.8 L1306.2 455.6 L1306.8 456.4 L1307.4 457.2 L1308.0 457.9 L1308.7 458.7 L1309.3 459.5 L1309.9 460.2 L1310.6 461.0 L1311.2 461.8 L1311.8 462.6 L1312.5 463.3 L1313.1 464.1 L1313.8 464.9 L1314.4 465.6 L1315.0 466.4 L1315.7 467.2 L1316.3 467.9 L1317.0 468.7 L1317.6 469.4 L1318.2 470.2 L1318.9 471.0 L1319.5 471.7 L1320.2 472.5 L1320.8 473.3 L1321.5 474.0 L1322.1 474.8 L1322.8 475.5 L1323.4 476.3 L1324.1 477.0 L1324.7 477.8 L1325.4 478.5 L1326.0 479.3 L1326.7 480.1 L1327.4 480.8 L1328.0 481.6 L1328.7 482.3 L1329.3 483.1 L1330.0 483.8 L1330.7 484.6 L1331.3 485.3 L1332.0 486.0 L1332.6 486.8 L1333.3 487.5 L1334.0 488.3 L1334.6 489.0 L1335.3 489.8 L1336.0 490.5 L1336.7 491.3 L1337.3 492.0 L1338.0 492.7 L1338.7 493.5 L1339.3 494.2 L1340.0 494.9 L1340.7 495.7 L1341.4 496.4 L1342.0 497.2 L1342.7 497.9 L1343.4 498.6 L1344.1 499.4 L1344.8 500.1 L1345.4 500.8 L1346.1 501.5 L1346.8 502.3 L1347.5 503.0 L1348.2 503.7 L1348.9 504.5 L1349.6 505.2 L1350.2 505.9 L1350.9 506.6 L1351.6 507.4 L1352.3 508.1 L1353.0 508.8 L1353.7 509.5 L1354.4 510.2 L1355.1 511.0 L1355.8 511.7 L1356.5 512.4 L1357.2 513.1 L1357.9 513.8 L1358.6 514.5 L1359.3 515.3 L1360.0 516.0 L1360.7 516.7 L1361.4 517.4 L1362.1 518.1 L1362.8 518.8 L1363.5 519.5 L1364.2 520.2 L1364.9 520.9 L1365.6 521.6 L1366.3 522.3 L1367.0 523.0 L1367.7 523.7 L1368.4 524.5 L1369.2 525.2 L1369.9 525.9 L1370.6 526.6 L1371.3 527.3 L1372.0 527.9 L1372.7 528.6 L1373.4 529.3 L1374.2 530.0 L1374.9 530.7 L1375.6 531.4 L1376.3 532.1 L1377.0 532.8 L1377.8 533.5 L1378.5 534.2 L1379.2 534.9 L1379.9 535.6 L1380.7 536.3 L1381.4 536.9 L1382.1 537.6 L1382.8 538.3 L1383.6 539.0 L1384.3 539.7 L1385.0 540.4 L1385.8 541.0 L1386.5 541.7 L1387.2 542.4 L1388.0 543.1 L1388.7 543.7 L1389.4 544.4 L1390.2 545.1 L1390.9 545.8 L1391.7 546.4 L1392.4 547.1 L1393.1 547.8 L1393.9 548.5 L1394.6 549.1 L1395.4 549.8 L1396.1 550.5 L1396.9 551.1 L1397.6 551.8 L1398.3 552.5 L1399.1 553.1 L1399.8 553.8 L1400.6 554.4 L1401.3 555.1 L1402.1 555.8 L1402.8 556.4 L1403.6 557.1 L1404.3 557.7 L1405.1 558.4 L1405.9 559.0 L1406.6 559.7 L1407.4 560.3 L1408.1 561.0 L1408.9 561.6 L1409.6 562.3 L1410.4 562.9 L1411.2 563.6 L1411.9 564.2 L1412.7 564.9 L1413.5 565.5 L1414.2 566.2 L1415.0 566.8 L1415.8 567.4 L1416.5 568.1 L1417.3 568.7 L1418.1 569.4 L1418.8 570.0 L1419.6 570.6 L1420.4 571.3 L1421.1 571.9 L1421.9 572.5 L1422.7 573.2 L1423.5 573.8 L1424.2 574.4 L1425.0 575.1 L1425.8 575.7 L1426.6 576.3 L1427.3 576.9 L1428.1 577.6 L1428.9 578.2 L1429.7 578.8 L1430.5 579.4 L1431.3 580.0 L1432.0 580.7 L1432.8 581.3 L1433.6 581.9 L1434.4 582.5 L1435.2 583.1 L1436.0 583.7 L1436.8 584.3 L1437.5 585.0 L1438.3 585.6 L1439.1 586.2 L1439.9 586.8 L1440.7 587.4 L1441.5 588.0 L1442.3 588.6 L1443.1 589.2 L1443.9 589.8 L1444.7 590.4 L1445.5 591.0 L1446.3 591.6 L1447.1 592.2 L1447.9 592.8 L1448.7 593.4 L1449.5 594.0 L1450.3 594.6 L1451.1 595.2 L1451.9 595.8 L1452.7 596.4 L1453.5 596.9 L1454.3 597.5 L1455.1 598.1 L1455.9 598.7 L1456.7 599.3 L1457.6 599.9 L1458.4 600.4 L1459.2 601.0 L1460.0 601.6 L1460.8 602.2 L1461.6 602.8 L1462.4 603.3 L1463.3 603.9 L1464.1 604.5 L1464.9 605.1 L1465.7 605.6 L1466.5 606.2 L1467.3 606.8 L1468.2 607.3 L1469.0 607.9 L1469.8 608.5 L1470.6 609.0 L1471.5 609.6 L1472.3 610.2 L1473.1 610.7 L1473.9 611.3 L1474.8 611.8 L1475.6 612.4 L1476.4 612.9 L1477.2 613.5 L1478.1 614.1 L1478.9 614.6 L1479.7 615.2 L1480.6 615.7 L1481.4 616.3 L1482.2 616.8 L1483.1 617.3 L1483.9 617.9 L1484.7 618.4 L1485.6 619.0 L1486.4 619.5 L1487.3 620.1 L1488.1 620.6 L1488.9 621.1 L1489.8 621.7 L1490.6 622.2 L1491.5 622.7 L1492.3 623.3 L1493.2 623.8 L1494.0 624.3 L1494.8 624.9 L1495.7 625.4 L1496.5 625.9 L1497.4 626.4 L1498.2 627.0 L1499.1 627.5 L1499.9 628.0 L1500.8 628.5 L1501.6 629.0 L1502.5 629.6 L1503.4 630.1 L1504.2 630.6 L1505.1 631.1 L1505.9 631.6 L1506.8 632.1 L1507.6 632.6 L1508.5 633.1 L1509.4 633.6 L1510.2 634.2 L1511.1 634.7 L1511.9 635.2 L1512.8 635.7 L1513.7 636.2 L1514.5 636.7 L1515.4 637.2 L1516.3 637.7 L1517.1 638.2 L1518.0 638.6 L1518.9 639.1 L1519.7 639.6 L1520.6 640.1 L1521.5 640.6 L1522.3 641.1 L1523.2 641.6 L1524.1 642.1 L1525.0 642.5 L1525.8 643.0 L1526.7 643.5 L1527.6 644.0 L1528.5 644.5 L1529.3 644.9 L1530.2 645.4 L1531.1 645.9 L1532.0 646.4 L1532.8 646.8 L1533.7 647.3 L1534.6 647.8 L1535.5 648.2 L1536.4 648.7 L1537.3 649.2 L1538.1 649.6 L1539.0 650.1 L1539.9 650.6 L1540.8 651.0 L1541.7 651.5 L1542.6 651.9 L1543.5 652.4 L1544.4 652.8 L1545.3 653.3 L1546.1 653.7 L1547.0 654.2 L1547.9 654.6 L1548.8 655.1 L1549.7 655.5 L1550.6 656.0 L1551.5 656.4 L1552.4 656.9 L1553.3 657.3 L1554.2 657.7 L1555.1 658.2 L1556.0 658.6 L1556.9 659.0 L1557.8 659.5 L1558.7 659.9 L1559.6 660.3 L1560.5 660.8 L1561.4 661.2 L1562.3 661.6 L1563.2 662.0 L1564.1 662.5 L1565.0 662.9 L1565.9 663.3 L1566.9 663.7 L1567.8 664.1 L1568.7 664.6 L1569.6 665.0 L1570.5 665.4 L1571.4 665.8 L1572.3 666.2 L1573.2 666.6 L1574.2 667.0 L1575.1 667.4 L1576.0 667.8 L1576.9 668.2 L1577.8 668.6 L1578.7 669.0 L1579.7 669.4 L1580.6 669.8 L1581.5 670.2 L1582.4 670.6 L1583.3 671.0 L1584.3 671.4 L1585.2 671.8 L1586.1 672.2 L1587.0 672.6 L1588.0 672.9 L1588.9 673.3 L1589.8 673.7 L1590.7 674.1 L1591.7 674.5 L1592.6 674.8 L1593.5 675.2 L1594.5 675.6 L1595.4 676.0 L1596.3 676.3 L1597.3 676.7 L1598.2 677.1 L1599.1 677.4 L1600.1 677.8 L1601.0 678.2 L1601.9 678.5 L1602.9 678.9 L1603.8 679.3 L1604.7 679.6 L1605.7 680.0 L1606.6 680.3 L1607.6 680.7 L1608.5 681.0 L1609.5 681.4 L1610.4 681.7 L1611.3 682.1 L1612.3 682.4 L1613.2 682.8 L1614.2 683.1 L1615.1 683.4 L1616.1 683.8 L1617.0 684.1 L1618.0 684.5 L1618.9 684.8 L1619.9 685.1 L1620.8 685.5 L1621.8 685.8 L1622.7 686.1 L1623.7 686.4 L1624.6 686.8 L1625.6 687.1 L1626.5 687.4 L1627.5 687.7 L1628.4 688.0 L1629.4 688.4 L1630.4 688.7 L1631.3 689.0 L1632.3 689.3 L1633.2 689.6 L1634.2 689.9 L1635.2 690.2 L1636.1 690.5 L1637.1 690.8 L1637.2 690.9"/></g><line x1="1235.5" y1="159.5" x2="1183.1" y2="205.8" stroke="#000" stroke-width="3.4" stroke-linecap="round"/><polygon points="1151.5,233.5 1175.9,193.1 1194.8,214.6" fill="#000"/><line x1="982.9" y1="658.5" x2="930.7" y2="752.9" stroke="#000" stroke-width="3.4" stroke-linecap="round"/><polygon points="909.8,792.0 919.5,743.6 944.7,757.0" fill="#000"/><line x1="890.6" y1="908.5" x2="847.0" y2="937.7" stroke="#000" stroke-width="3.4" stroke-linecap="round"/><polygon points="806.8,964.5 841.6,924.1 857.4,948.0" fill="#000"/><line x1="847.3" y1="1026.0" x2="770.8" y2="1054.7" stroke="#000" stroke-width="3.4" stroke-linecap="round"/><polygon points="726.6,1073.4 768.0,1040.4 779.1,1066.7" fill="#000"/><line x1="454.8" y1="979.4" x2="674.3" y2="1097.2" stroke="#000" stroke-width="3.4" stroke-linecap="round"/><polygon points="717.5,1120.0 664.9,1108.4 678.3,1083.1" fill="#000"/><g font-family="'Liberation Sans', sans-serif" font-size="54.6" fill="#222222"><text x="171.0" y="1265.5" text-anchor="middle">0</text><text x="659.4" y="1265.5" text-anchor="middle">5</text><text x="1150.1" y="1265.5" text-anchor="middle">10</text><text x="1638.8" y="1265.5" text-anchor="middle">15</text><text x="149.6" y="1209.5" text-anchor="end">0</text><text x="149.6" y="1066.2" text-anchor="end">5</text><text x="149.6" y="923.0" text-anchor="end">10</text><text x="149.6" y="779.7" text-anchor="end">15</text><text x="149.6" y="636.5" text-anchor="end">20</text><text x="149.6" y="493.2" text-anchor="end">25</text><text x="149.6" y="349.9" text-anchor="end">30</text><text x="149.6" y="206.7" text-anchor="end">35</text><text x="149.6" y="63.5" text-anchor="end">40</text></g><text x="783.2" y="1340" font-family="'Liberation Sans', sans-serif" font-size="54.4" fill="#000">t (second)</text><text transform="translate(62 928.3) rotate(-90)" x="0" y="0" font-family="'Liberation Sans', sans-serif" font-size="54" fill="#000">Percentage difference (%)</text><g font-family="'Liberation Sans', sans-serif" font-size="44" fill="#000"><text x="1252.3" y="148.3">h = 0.08</text><text x="909.6" y="647.5">h = 0.06</text><text x="908.7" y="896.8">h = 0.04</text><text x="864.9" y="1043.9">h = 0.02</text><text x="291.9" y="996.7">h = 0.01</text></g></svg></body></html>
